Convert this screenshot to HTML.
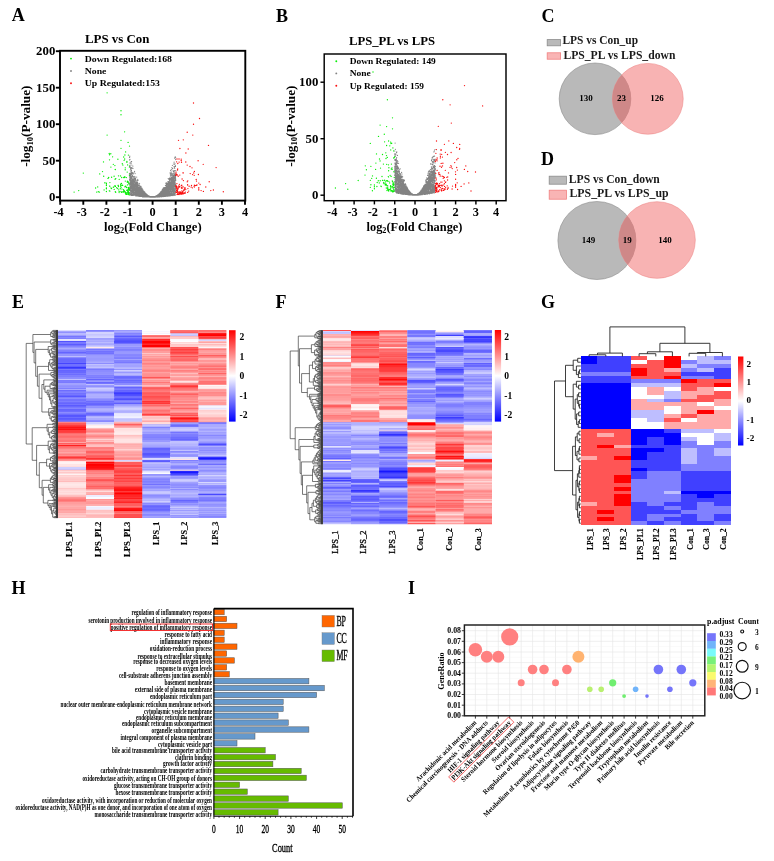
<!DOCTYPE html>
<html><head><meta charset="utf-8"><title>Figure</title>
<style>html,body{margin:0;padding:0;background:#fff;}body{width:774px;height:861px;overflow:hidden;font-family:"Liberation Serif",serif;}svg text{font-family:"Liberation Serif",serif;}</style>
</head><body><svg width="774" height="861" viewBox="0 0 774 861" font-family="Liberation Serif, serif" style="display:block"><text x="11.8" y="20.9" font-size="18" font-weight="bold" text-anchor="start" fill="#000" >A</text>
<text x="276" y="21.5" font-size="18" font-weight="bold" text-anchor="start" fill="#000" >B</text>
<text x="541.5" y="21.5" font-size="18" font-weight="bold" text-anchor="start" fill="#000" >C</text>
<text x="541" y="164.5" font-size="18" font-weight="bold" text-anchor="start" fill="#000" >D</text>
<text x="12" y="307.5" font-size="18" font-weight="bold" text-anchor="start" fill="#000" >E</text>
<text x="275.5" y="307.5" font-size="18" font-weight="bold" text-anchor="start" fill="#000" >F</text>
<text x="541" y="307.5" font-size="18" font-weight="bold" text-anchor="start" fill="#000" >G</text>
<text x="11.5" y="593.5" font-size="18" font-weight="bold" text-anchor="start" fill="#000" >H</text>
<text x="408" y="593.5" font-size="18" font-weight="bold" text-anchor="start" fill="#000" >I</text>
<path d="M150.4 196.7h0M153.0 196.9h0M158.6 195.5h0M133.7 178.5h0M174.9 163.5h0M136.8 190.0h0M138.3 196.2h0M149.9 196.7h0M152.6 197.1h0M175.6 157.2h0M144.1 195.6h0M164.9 189.9h0M173.8 184.1h0M171.6 180.2h0M132.9 182.5h0M133.5 180.3h0M135.0 194.6h0M166.3 191.2h0M138.3 195.1h0M134.9 193.0h0M174.4 180.1h0M139.2 188.7h0M134.1 178.8h0M165.2 194.2h0M133.7 192.0h0M146.7 194.7h0M156.0 196.5h0M171.5 184.5h0M163.7 189.6h0M170.3 190.1h0M131.3 173.2h0M141.4 190.7h0M137.6 195.6h0M155.3 196.7h0M171.9 195.6h0M150.1 197.0h0M155.9 196.7h0M174.8 181.2h0M136.0 195.8h0M161.9 191.8h0M151.8 196.7h0M133.0 183.3h0M163.6 191.5h0M145.8 194.2h0M148.8 196.3h0M158.4 195.7h0M133.2 179.3h0M163.1 192.2h0M149.9 196.7h0M130.9 185.9h0M161.8 193.8h0M141.3 194.6h0M138.9 187.8h0M149.9 196.7h0M138.7 188.6h0M170.2 187.8h0M135.8 185.1h0M162.4 190.9h0M150.3 197.0h0M158.4 196.3h0M174.9 193.9h0M169.8 186.4h0M143.8 194.1h0M150.5 196.8h0M136.0 188.1h0M158.6 195.0h0M161.1 194.8h0M130.0 180.2h0M142.1 192.4h0M157.9 195.7h0M171.4 181.2h0M135.5 187.6h0M146.9 195.0h0M173.1 183.8h0M162.9 191.6h0M139.4 185.6h0M154.3 196.7h0M169.0 195.2h0M154.9 196.8h0M166.9 188.3h0M145.0 194.7h0M153.4 196.8h0M173.2 178.3h0M139.7 194.1h0M159.0 194.7h0M143.9 193.0h0M139.1 185.3h0M156.0 196.6h0M157.5 195.4h0M148.0 196.0h0M161.4 194.4h0M173.7 173.2h0M135.4 184.9h0M151.5 196.9h0M172.2 182.6h0M138.5 189.6h0M145.9 196.7h0M135.2 192.6h0M154.0 197.0h0M154.0 196.9h0M159.0 194.7h0M169.1 186.7h0M171.2 191.1h0M139.6 183.8h0M140.6 194.7h0M167.9 187.3h0M148.1 197.0h0M161.0 192.5h0M152.9 196.9h0M138.2 195.4h0M155.0 196.8h0M138.0 187.6h0M172.3 194.8h0M150.8 197.0h0M153.3 197.1h0M161.9 193.6h0M163.7 195.4h0M153.2 196.8h0M162.1 192.4h0M157.2 195.5h0M141.4 190.1h0M167.1 187.0h0M161.6 192.5h0M162.9 194.8h0M130.0 181.8h0M140.2 186.1h0M160.0 195.1h0M175.7 179.9h0M174.8 182.7h0M141.4 196.4h0M146.9 196.5h0M154.9 196.6h0M175.5 177.8h0M157.1 196.2h0M136.9 194.3h0M157.7 195.2h0M153.8 197.0h0M159.8 196.1h0M143.2 195.6h0M136.7 186.7h0M164.1 189.6h0M132.9 181.2h0M174.5 184.9h0M162.9 190.9h0M157.4 196.0h0M138.9 191.5h0M150.0 196.9h0M156.4 196.2h0M175.6 159.6h0M134.8 179.2h0M146.1 195.1h0M156.8 196.0h0M141.0 186.4h0M131.3 190.4h0M158.3 195.8h0M133.5 186.9h0M146.7 196.6h0M163.9 192.4h0M166.9 188.6h0M149.1 196.3h0M159.7 193.5h0M164.0 188.5h0M134.0 186.2h0M155.6 196.6h0M165.3 194.8h0M133.3 183.9h0M142.6 194.8h0M146.4 195.2h0M171.9 167.5h0M166.6 193.4h0M172.7 183.1h0M146.4 196.0h0M138.5 188.5h0M168.1 194.3h0M170.2 195.8h0M154.6 196.7h0M166.7 191.1h0M133.4 183.8h0M133.4 193.5h0M159.5 196.3h0M153.6 197.0h0M174.2 185.7h0M162.8 191.4h0M167.7 186.9h0M168.0 181.7h0M153.7 197.0h0M148.9 196.3h0M146.8 196.6h0M143.0 191.4h0M134.8 184.8h0M132.4 185.3h0M131.2 192.0h0M140.4 191.9h0M138.0 194.6h0M143.9 193.2h0M141.5 189.4h0M154.8 196.7h0M131.8 165.0h0M153.9 196.7h0M159.9 196.8h0M146.7 195.1h0M136.8 192.4h0M169.7 187.5h0M141.8 195.8h0M129.6 165.9h0M133.3 184.0h0M151.7 196.9h0M169.1 186.1h0M171.9 182.3h0M154.6 196.8h0M143.9 196.6h0M151.1 196.8h0M134.4 189.1h0M167.8 196.2h0M162.3 193.8h0M130.0 159.3h0M158.0 196.3h0M143.3 194.9h0M141.3 191.7h0M173.2 182.5h0M167.7 194.8h0M160.8 196.2h0M168.2 195.3h0M136.8 191.4h0M172.0 187.3h0M164.9 190.6h0M148.5 196.6h0M174.9 172.3h0M130.4 188.3h0M134.4 188.4h0M167.6 194.6h0M171.2 190.5h0M136.0 183.5h0M162.6 193.1h0M158.5 196.9h0M156.1 196.7h0M146.2 196.6h0M135.8 184.0h0M155.4 196.5h0M167.3 195.1h0M142.8 193.2h0M167.9 190.1h0M131.0 176.0h0M159.9 194.7h0M147.1 195.3h0M138.7 195.1h0M155.8 196.7h0M155.7 196.6h0M160.5 193.2h0M151.2 196.8h0M164.5 190.5h0M168.2 186.8h0M155.6 196.6h0M149.5 196.6h0M163.0 191.0h0M164.2 192.4h0M135.2 189.1h0M131.9 186.0h0M143.7 195.8h0M171.6 172.1h0M149.0 196.5h0M155.7 196.6h0M135.2 182.8h0M140.8 194.2h0M170.9 183.6h0M156.6 196.7h0M143.7 192.5h0M151.3 196.7h0M170.9 183.3h0M151.3 196.7h0M138.8 194.7h0M131.8 182.2h0M171.1 179.0h0M161.7 191.4h0M139.8 190.5h0M137.9 189.3h0M146.7 194.9h0M140.1 189.0h0M142.3 196.3h0M149.8 196.8h0M157.2 196.7h0M133.5 183.7h0M142.4 195.7h0M175.1 185.6h0M147.3 194.9h0M155.2 196.8h0M165.7 192.1h0M161.1 192.7h0M165.5 191.3h0M149.8 196.7h0M140.4 194.9h0M152.6 196.8h0M156.0 196.5h0M130.3 186.4h0M141.6 192.7h0M155.8 196.4h0M136.3 195.7h0M158.2 196.5h0M133.6 185.1h0M136.9 186.4h0M132.3 189.2h0M174.3 185.7h0M175.1 185.8h0M131.3 178.4h0M147.7 196.3h0M131.1 163.5h0M140.1 192.1h0M150.8 196.9h0M174.8 194.6h0M159.5 195.9h0M169.4 184.4h0M147.7 195.9h0M139.5 194.9h0M137.1 193.8h0M143.8 192.2h0M169.4 191.2h0M161.4 195.6h0M137.9 192.2h0M162.5 194.8h0M172.8 182.2h0M171.4 190.8h0M133.3 183.2h0M153.5 197.1h0M131.4 184.2h0M143.9 194.4h0M162.1 193.0h0M136.3 192.7h0M148.2 195.8h0M143.0 195.7h0M130.6 184.0h0M174.6 181.8h0M139.5 190.7h0M169.6 187.6h0M149.3 197.0h0M144.7 195.9h0M148.1 196.8h0M140.6 194.0h0M136.5 187.6h0M161.8 194.9h0M132.4 194.8h0M156.6 196.7h0M130.6 177.3h0M141.6 195.5h0M157.9 195.0h0M173.0 176.7h0M148.5 196.7h0M170.1 183.2h0M135.8 192.1h0M174.6 191.5h0M160.9 196.7h0M147.7 196.2h0M154.8 196.8h0M174.3 188.6h0M144.0 193.8h0M174.0 182.5h0M152.2 197.1h0M164.1 195.0h0M144.5 194.9h0M132.4 193.9h0M134.7 184.8h0M137.0 182.4h0M141.2 191.1h0M162.6 192.7h0M144.9 193.6h0M155.7 196.5h0M167.9 189.1h0M160.4 196.3h0M156.6 195.9h0M161.3 194.0h0M172.6 177.9h0M135.0 192.0h0M175.4 188.2h0M154.6 197.0h0M166.5 189.6h0M158.0 195.2h0M161.6 193.0h0M137.6 186.1h0M152.1 197.2h0M155.6 196.6h0M140.0 193.6h0M131.9 179.1h0M133.1 187.7h0M138.8 188.5h0M166.8 195.9h0M159.8 196.1h0M169.4 179.4h0M163.0 196.7h0M135.0 191.0h0M143.8 196.8h0M173.8 185.5h0M166.1 192.8h0M167.7 182.0h0M173.4 182.5h0M171.5 186.7h0M147.4 195.8h0M146.3 196.1h0M171.3 194.5h0M163.8 191.6h0M160.9 196.5h0M145.7 196.8h0M148.1 196.3h0M139.0 189.6h0M134.5 177.1h0M139.6 190.4h0M142.1 190.9h0M138.0 186.0h0M158.8 195.3h0M158.0 195.4h0M152.8 196.8h0M161.4 193.8h0M147.3 195.8h0M153.3 197.0h0M156.9 195.7h0M151.2 197.0h0M163.5 189.2h0M135.4 178.2h0M168.3 185.2h0M166.4 187.0h0M169.7 192.7h0M150.5 196.8h0M142.4 196.4h0M165.9 194.4h0M169.0 184.5h0M166.3 193.0h0M131.2 178.7h0M134.9 190.5h0M158.0 195.8h0M139.1 188.3h0M138.6 192.2h0M145.2 194.8h0M157.4 196.8h0M161.6 196.3h0M173.0 189.3h0M175.5 179.4h0M143.8 196.2h0M149.1 196.5h0M152.9 196.8h0M140.4 194.4h0M142.7 191.9h0M172.6 182.7h0M150.2 196.9h0M149.9 196.5h0M160.5 195.3h0M170.9 189.6h0M167.4 186.4h0M134.1 186.3h0M146.8 195.5h0M171.0 180.6h0M151.2 197.0h0M160.5 193.1h0M175.4 177.5h0M161.9 191.7h0M148.0 196.6h0M139.2 195.2h0M163.8 195.6h0M158.3 195.6h0M163.3 192.8h0M130.2 165.1h0M130.6 184.6h0M134.6 185.0h0M135.3 194.3h0M153.2 197.1h0M148.6 196.9h0M155.3 196.6h0M168.8 184.2h0M148.3 195.8h0M148.6 196.7h0M163.4 195.8h0M130.8 189.5h0M159.2 195.2h0M133.1 194.0h0M144.7 194.4h0M173.2 186.5h0M147.7 195.8h0M146.5 195.8h0M149.4 196.7h0M132.4 186.0h0M139.8 193.4h0M151.9 197.0h0M129.9 174.7h0M156.9 195.6h0M146.5 195.5h0M144.1 194.6h0M132.0 191.0h0M166.3 188.4h0M142.7 196.4h0M167.9 192.7h0M165.9 196.0h0M131.7 185.3h0M159.0 194.4h0M156.3 196.3h0M160.9 191.6h0M165.6 190.0h0M150.2 197.0h0M163.4 196.0h0M160.3 196.6h0M143.8 191.5h0M139.3 191.7h0M135.2 183.9h0M149.5 196.6h0M152.3 196.8h0M134.4 186.0h0M138.8 194.9h0M156.8 196.6h0M168.4 189.3h0M174.8 181.0h0M141.6 192.9h0M132.5 181.3h0M149.5 196.7h0M171.5 188.1h0M164.3 194.4h0M131.1 184.4h0M144.9 193.4h0M166.7 188.6h0M138.7 190.6h0M164.8 189.5h0M161.3 192.5h0M142.9 191.9h0M141.0 192.8h0M143.0 196.2h0M142.1 195.1h0M169.9 184.3h0M157.7 195.7h0M160.0 193.9h0M132.0 172.8h0M140.3 193.7h0M173.1 185.4h0M140.2 188.3h0M159.9 193.9h0M155.6 196.3h0M169.8 187.0h0M130.9 175.9h0M169.0 184.8h0M153.8 197.0h0M152.6 197.0h0M151.9 196.9h0M174.4 192.8h0M145.0 193.5h0M173.4 164.0h0M130.4 183.3h0M157.8 195.2h0M153.5 197.1h0M169.7 182.5h0M167.8 190.5h0M164.5 192.1h0M166.2 182.9h0M145.0 196.6h0M141.6 193.2h0M160.7 196.0h0M137.6 193.6h0M165.7 194.5h0M141.5 195.0h0M138.0 193.3h0M163.1 191.9h0M133.1 183.8h0M148.6 195.9h0M171.6 175.8h0M166.0 189.8h0M147.0 195.7h0M151.5 196.9h0M147.1 195.0h0M139.0 185.1h0M145.3 193.4h0M173.2 193.2h0M170.3 182.5h0M146.7 196.4h0M132.8 189.8h0M143.7 196.3h0M154.5 196.9h0M173.3 191.6h0M143.8 192.2h0M136.9 189.6h0M166.1 185.2h0M168.6 194.0h0M174.7 179.8h0M131.9 192.5h0M139.3 194.6h0M152.6 197.1h0M130.2 194.5h0M158.1 196.0h0M144.2 193.1h0M148.8 196.6h0M171.7 180.7h0M170.2 188.8h0M142.8 192.8h0M156.5 196.0h0M134.0 190.5h0M152.5 197.0h0M129.6 189.4h0M158.7 196.8h0M151.8 197.1h0M150.0 196.6h0M167.8 188.4h0M152.8 196.7h0M152.1 196.8h0M152.7 197.1h0M168.0 181.5h0M161.2 193.0h0M166.5 188.5h0M140.8 192.2h0M145.4 194.3h0M172.6 194.6h0M134.6 171.9h0M138.1 188.5h0M158.3 195.4h0M169.6 180.8h0M155.8 196.3h0M147.3 197.0h0M166.3 190.3h0M161.6 195.4h0M138.2 189.3h0M144.8 192.2h0M173.5 177.6h0M144.9 195.0h0M131.1 176.5h0M163.9 195.3h0M140.6 196.2h0M145.9 194.2h0M148.6 196.8h0M173.8 187.3h0M164.7 191.6h0M171.2 187.5h0M153.9 197.0h0M136.4 192.9h0M163.1 192.0h0M162.1 194.6h0M151.4 197.1h0M132.8 183.8h0M135.4 188.3h0M148.1 196.0h0M131.6 193.2h0M151.4 197.0h0M151.1 196.8h0M152.0 196.7h0M135.0 193.0h0M153.0 196.7h0M141.4 190.2h0M146.4 195.8h0M158.3 196.4h0M150.5 196.8h0M146.9 195.0h0M148.0 195.9h0M162.9 189.3h0M149.6 196.8h0M154.4 196.8h0M130.3 179.4h0M157.8 196.3h0M138.6 190.4h0M167.4 187.9h0M162.4 191.7h0M141.1 192.7h0M175.1 178.9h0M163.1 190.1h0M153.9 196.9h0M170.8 191.7h0M148.9 196.4h0M154.0 196.7h0M145.8 195.1h0M161.5 193.0h0M142.1 193.5h0M146.8 196.7h0M169.8 180.5h0M134.9 184.7h0M141.7 192.2h0M167.3 189.2h0M161.8 192.5h0M151.4 196.8h0M155.8 196.2h0M139.8 195.3h0M145.3 195.5h0M171.8 193.1h0M162.1 192.2h0M140.0 194.7h0M131.7 194.5h0M154.6 197.1h0M145.8 193.6h0M132.4 195.4h0M137.6 189.1h0M144.4 195.7h0M145.9 196.3h0M141.6 194.7h0M141.9 191.4h0M153.1 196.8h0M158.3 195.5h0M148.6 196.5h0M153.9 196.7h0M139.8 194.1h0M166.3 193.8h0M169.6 182.0h0M163.9 194.0h0M170.2 172.6h0M132.9 179.3h0M153.3 196.9h0M175.3 174.2h0M136.3 188.2h0M155.5 196.4h0M156.8 196.9h0M171.1 192.6h0M154.6 196.9h0M130.3 181.8h0M132.9 182.4h0M155.3 196.7h0M167.1 188.5h0M131.1 182.6h0M130.9 186.1h0M144.3 193.4h0M158.8 194.5h0M155.5 196.5h0M162.5 194.0h0M140.6 189.6h0M132.5 191.6h0M168.5 184.4h0M158.5 195.3h0M132.2 188.8h0M131.8 177.3h0M144.7 194.7h0M137.8 191.0h0M155.6 196.8h0M133.1 185.7h0M151.1 196.8h0M164.7 196.3h0M136.3 195.8h0M170.0 194.9h0M168.6 185.1h0M134.7 193.3h0M138.8 194.9h0M154.2 196.9h0M153.0 197.2h0M157.9 196.4h0M170.5 190.3h0M172.9 188.8h0M146.7 194.8h0M142.6 192.5h0M161.8 191.6h0M168.9 188.2h0M163.7 191.8h0M173.8 176.2h0M175.7 170.7h0M136.1 189.0h0M165.6 191.1h0M144.4 196.2h0M169.1 181.6h0M161.6 192.8h0M155.2 197.2h0M129.6 189.3h0M159.0 195.1h0M151.7 196.7h0M148.9 196.7h0M163.8 192.0h0M165.7 187.1h0M137.0 191.5h0M163.3 192.5h0M132.2 195.1h0M167.6 190.4h0M146.7 195.5h0M140.1 195.3h0M154.1 196.8h0M145.4 194.7h0M170.3 187.7h0M160.8 192.5h0M158.7 196.8h0M141.7 193.4h0M132.2 184.8h0M175.3 179.1h0M152.9 196.7h0M151.9 197.0h0M175.7 186.5h0M160.8 196.3h0M157.3 196.0h0M146.5 195.4h0M170.4 194.1h0M170.6 186.9h0M139.4 191.1h0M172.7 193.2h0M134.5 186.4h0M171.1 185.3h0M157.4 196.6h0M139.1 195.9h0M173.3 189.7h0M171.2 186.4h0M136.0 183.8h0M141.0 194.4h0M163.9 191.7h0M161.7 194.6h0M133.9 183.0h0M159.3 195.9h0M174.5 192.9h0M157.1 195.9h0M170.0 178.7h0M146.8 196.2h0M145.8 194.4h0M160.7 194.0h0M141.1 196.0h0M172.1 189.5h0M136.1 184.7h0M141.3 192.0h0M145.8 196.4h0M149.1 196.4h0M159.0 195.2h0M135.0 184.9h0M130.2 182.9h0M131.1 188.6h0M146.1 193.8h0M135.3 187.5h0M134.0 189.6h0M175.3 176.1h0M164.5 193.1h0M160.4 194.9h0M153.3 196.9h0M165.9 190.9h0M131.7 177.6h0M149.8 196.7h0M165.5 189.3h0M129.6 193.3h0M132.7 182.5h0M160.3 195.0h0M150.9 197.0h0M135.9 189.2h0M129.6 157.4h0M136.8 180.8h0M164.4 188.2h0M135.1 192.8h0M171.5 193.9h0M140.6 191.2h0M149.7 196.8h0M150.5 196.9h0M155.7 197.0h0M146.1 196.8h0M173.0 184.7h0M146.5 196.7h0M168.3 194.2h0M130.2 180.4h0M166.0 194.8h0M165.0 194.2h0M145.9 194.6h0M166.9 186.9h0M172.8 178.1h0M166.7 193.5h0M168.3 193.9h0M169.5 195.5h0M143.0 191.8h0M167.4 193.8h0M145.2 196.8h0M148.6 196.6h0M142.9 193.2h0M152.2 197.2h0M143.2 196.3h0M151.7 197.0h0M150.0 197.1h0M165.8 192.2h0M164.2 190.9h0M170.8 185.9h0M154.1 196.8h0M169.1 186.5h0M157.1 196.1h0M146.8 194.7h0M136.2 185.1h0M143.7 194.0h0M163.4 190.4h0M133.2 183.7h0M172.7 195.2h0M145.1 193.8h0M135.2 192.3h0M134.6 190.0h0M149.6 196.4h0M171.4 184.8h0M150.7 197.0h0M175.3 194.9h0M139.2 188.8h0M140.4 190.5h0M141.7 190.3h0M162.6 192.5h0M153.0 196.9h0M144.5 196.4h0M139.3 187.8h0M172.2 174.3h0M155.7 196.5h0M168.2 195.6h0M152.0 197.0h0M160.7 194.1h0M159.0 194.5h0M166.6 194.5h0M160.9 196.5h0M147.9 196.7h0M148.7 196.0h0M130.5 173.7h0M157.9 196.4h0M160.2 194.5h0M160.4 193.9h0M167.0 183.6h0M157.9 195.3h0M146.3 194.8h0M175.0 177.5h0M175.3 176.2h0M130.0 187.9h0M147.7 195.9h0M143.6 196.3h0M149.0 196.5h0M138.5 194.2h0M143.4 193.5h0M153.7 197.1h0M145.6 194.4h0M161.9 192.5h0M132.1 182.0h0M175.2 181.1h0M158.3 196.6h0M153.1 197.0h0M132.7 191.3h0M143.5 195.3h0M171.3 169.7h0M141.2 192.3h0M133.0 179.8h0M162.6 196.4h0M132.3 173.4h0M150.1 196.7h0M153.8 197.0h0M162.8 194.9h0M156.2 196.6h0M142.8 192.9h0M146.4 196.6h0M164.2 187.6h0M137.0 189.2h0M173.6 191.2h0M136.3 190.0h0M146.5 194.4h0M154.1 196.9h0M169.9 186.4h0M161.2 192.9h0M136.7 177.1h0M154.5 196.7h0M132.6 195.0h0M145.8 195.9h0M149.5 196.6h0M154.2 196.8h0M141.6 192.3h0M166.1 191.4h0M162.5 189.8h0M138.7 193.8h0M133.6 189.2h0M135.1 173.6h0M147.5 195.1h0M173.0 195.6h0M133.4 179.3h0M134.8 194.1h0M156.9 195.9h0M135.8 194.3h0M130.8 172.9h0M152.1 196.8h0M166.7 193.0h0M164.8 188.8h0M149.4 196.5h0M170.3 179.6h0M132.4 178.9h0M136.2 195.4h0M133.2 182.2h0M168.9 190.7h0M166.0 192.8h0M150.7 197.1h0M149.1 196.3h0M169.6 194.0h0M168.3 188.7h0M131.7 187.6h0M173.1 191.0h0M155.3 196.5h0M139.0 196.1h0M169.7 195.9h0M140.9 189.9h0M142.4 195.1h0M141.4 190.4h0M145.5 193.3h0M159.4 196.7h0M157.7 196.7h0M136.1 186.9h0M172.6 173.8h0M157.4 195.3h0M144.5 194.6h0M159.2 194.7h0M130.8 186.8h0M154.8 196.9h0M160.8 194.6h0M135.2 183.7h0M143.0 194.1h0M137.7 189.6h0M142.4 195.7h0M153.7 196.9h0M158.4 195.6h0M150.9 196.8h0M156.5 195.9h0M165.0 193.6h0M163.4 195.6h0M174.9 174.8h0M147.3 196.8h0M162.7 192.3h0M163.8 192.4h0M160.3 196.6h0M162.0 191.8h0M137.2 192.2h0M170.6 185.6h0M153.4 196.8h0M129.8 156.2h0M159.0 196.6h0M149.9 196.7h0M151.3 196.9h0M144.4 192.2h0M154.8 196.9h0M152.0 197.1h0M149.7 196.7h0M158.1 195.3h0M140.5 186.9h0M141.3 193.7h0M141.3 192.0h0M149.8 196.7h0M154.8 196.7h0M133.8 180.0h0M167.3 196.1h0M152.4 197.1h0M130.1 188.7h0M174.3 178.6h0M171.6 192.1h0M151.7 197.0h0M138.8 188.7h0M156.6 196.8h0M152.9 196.8h0M156.6 196.1h0M175.5 184.2h0M133.4 194.2h0M133.4 192.7h0M164.9 195.5h0M175.5 185.7h0M162.0 192.0h0M165.5 195.5h0M138.0 193.5h0M149.5 196.6h0M165.0 193.4h0M159.9 193.0h0M153.8 196.8h0M129.8 184.3h0M163.3 194.2h0M157.1 196.0h0M165.7 195.7h0M141.2 190.0h0M163.6 192.5h0M139.7 196.1h0M174.1 195.2h0M160.1 194.2h0M140.3 188.5h0M153.0 196.9h0M138.0 194.5h0M157.0 196.1h0M159.3 194.5h0M170.2 173.7h0M161.4 195.8h0M160.0 194.8h0M157.6 196.7h0M161.7 193.5h0M150.2 196.8h0M165.0 188.7h0M150.2 196.8h0M167.8 190.1h0M146.3 196.3h0M173.4 178.8h0M166.1 196.1h0M132.7 179.4h0M167.6 189.1h0M133.9 188.1h0M142.9 196.1h0M132.2 185.1h0M148.9 196.0h0M169.9 192.1h0M157.2 195.5h0M173.1 191.9h0M158.5 195.3h0M151.2 196.9h0M136.4 194.8h0M153.8 196.7h0M157.6 196.6h0M145.6 194.9h0M161.1 193.7h0M147.3 196.4h0M136.9 195.2h0M145.8 195.7h0M170.1 184.2h0M172.5 185.5h0M146.3 195.4h0M164.3 193.6h0M168.4 194.5h0M140.4 193.4h0M150.2 196.7h0M145.6 195.3h0M173.0 189.8h0M152.4 197.2h0M131.8 190.0h0M142.8 196.6h0M164.5 196.0h0M133.2 187.7h0M165.8 191.9h0M130.8 178.6h0M134.4 187.9h0M132.9 166.1h0M154.7 196.9h0M137.4 191.4h0M131.4 193.4h0M151.6 196.9h0M142.9 196.8h0M131.2 161.7h0M173.0 183.4h0M149.7 196.8h0M145.4 196.3h0M149.3 197.0h0M162.6 194.1h0M157.7 195.6h0M147.4 195.6h0M151.2 196.8h0M169.3 187.2h0M160.0 193.0h0M153.1 197.1h0M166.2 196.2h0M167.9 194.3h0M137.9 191.5h0M141.8 195.7h0M159.3 196.3h0M149.1 196.1h0M151.0 197.0h0M132.7 182.8h0M134.9 186.5h0M158.2 196.9h0M163.4 196.5h0M168.9 193.4h0M168.2 184.2h0M164.2 195.5h0M173.7 192.5h0M164.7 196.1h0M174.3 175.4h0M163.7 191.1h0M152.7 197.0h0M158.9 195.0h0M142.0 190.3h0M130.8 183.1h0M155.3 196.6h0M160.3 196.2h0M146.3 195.5h0M132.1 174.1h0M165.8 194.0h0M143.2 193.5h0M150.3 196.9h0M157.4 196.8h0M153.7 197.1h0M151.8 196.9h0M142.3 195.2h0M138.9 189.5h0M154.0 196.8h0M146.1 195.2h0M137.7 189.3h0M172.1 180.0h0M144.3 196.5h0M143.3 191.8h0M165.3 188.4h0M151.4 196.7h0M145.1 196.7h0M133.5 173.8h0M154.0 196.9h0M165.6 191.6h0M136.1 190.7h0M173.6 181.3h0M134.3 178.9h0M156.5 196.7h0M161.6 194.0h0M133.0 189.9h0M158.2 196.0h0M153.3 196.9h0M154.4 197.0h0M162.0 192.5h0M137.5 189.4h0M171.6 189.3h0M150.6 196.8h0M154.8 197.1h0M157.4 196.8h0M169.6 179.8h0M143.8 194.0h0M155.1 197.0h0M132.2 194.1h0M173.8 177.0h0M129.8 187.5h0M132.6 195.5h0M151.8 196.7h0M152.6 196.8h0M165.4 190.2h0M137.5 195.1h0M141.1 190.9h0M171.5 184.9h0M161.4 193.1h0M154.9 196.7h0M138.3 193.3h0M158.9 196.5h0M147.8 196.3h0M161.4 192.2h0M157.8 196.1h0M175.2 176.5h0M160.3 193.2h0M139.3 189.1h0M140.0 189.2h0M156.6 196.1h0M174.1 183.5h0M143.1 192.0h0M174.6 182.7h0M173.7 190.3h0M137.5 190.0h0M136.4 187.7h0M135.2 182.4h0M154.2 196.7h0M165.3 193.7h0M173.0 194.2h0M173.5 192.1h0M166.0 190.5h0M138.7 189.4h0M133.7 189.3h0M137.4 189.1h0M158.8 195.4h0M146.4 195.0h0M171.8 178.4h0M133.4 192.2h0M145.9 194.4h0M141.9 196.4h0M162.6 193.3h0M154.0 197.0h0M154.7 196.8h0M145.7 194.7h0M139.3 192.7h0M149.7 196.7h0M141.3 191.7h0M150.5 197.0h0M138.7 196.1h0M141.7 191.2h0M170.5 193.3h0M153.0 196.8h0M130.3 188.4h0M129.8 192.6h0M139.2 195.0h0M134.7 192.8h0M175.4 179.4h0M174.7 164.5h0M131.7 186.6h0M175.6 179.4h0M157.8 196.6h0M166.3 187.4h0M172.8 182.1h0M152.1 196.8h0M147.7 196.0h0M144.3 195.2h0M174.3 177.2h0M141.7 192.1h0M149.2 197.0h0M155.2 196.7h0M141.3 192.4h0M154.7 196.7h0M135.5 178.2h0M166.0 191.3h0M144.0 192.8h0M132.7 183.5h0M130.5 169.9h0M144.9 193.9h0M162.9 194.0h0M158.7 195.4h0M143.0 192.8h0M171.6 173.6h0M163.6 194.1h0M134.4 183.9h0M133.3 190.3h0M158.8 196.6h0M161.3 194.6h0M148.5 196.3h0M166.2 193.4h0M143.2 193.6h0M162.5 192.7h0M158.3 196.3h0M157.7 196.8h0M169.5 193.4h0M140.2 196.1h0M170.2 182.2h0M168.7 191.6h0M173.0 184.3h0M133.7 192.2h0M159.8 193.9h0M139.0 193.1h0M151.1 197.0h0M166.4 189.5h0M159.8 195.8h0M146.8 194.7h0M161.7 193.8h0M142.2 195.4h0M133.6 187.7h0M165.6 190.1h0M153.1 197.2h0M134.8 191.1h0M139.6 195.5h0M175.0 181.6h0M170.1 194.0h0M174.1 162.2h0M163.4 187.9h0M164.7 189.2h0M156.0 196.2h0M150.2 196.8h0M172.7 183.4h0M169.7 183.4h0M168.7 192.3h0M139.6 189.6h0M171.5 191.3h0M166.1 187.3h0M154.0 196.9h0M160.9 193.0h0M130.9 179.2h0M168.8 188.0h0M159.9 196.5h0M139.5 186.0h0M161.9 192.2h0M148.5 196.0h0M171.6 181.6h0M162.9 190.1h0M148.6 196.0h0M166.5 194.9h0M167.2 196.2h0M147.4 195.5h0M163.8 191.5h0M132.7 188.5h0M155.2 196.9h0M167.7 194.2h0M142.0 189.7h0M174.1 188.3h0M152.7 196.9h0M161.1 196.1h0M149.3 196.4h0M146.6 194.6h0M150.3 196.7h0M152.7 197.2h0M148.0 196.3h0M154.1 196.8h0M153.3 197.0h0M160.8 196.7h0M141.1 193.4h0M174.1 174.9h0M134.7 193.2h0M156.5 196.1h0M174.4 186.2h0M156.1 196.5h0M149.9 196.6h0M141.9 189.9h0M154.4 196.8h0M157.7 196.5h0M150.0 196.7h0M166.5 190.8h0M171.4 185.3h0M160.8 193.8h0M161.6 193.9h0M170.6 190.3h0M160.3 195.0h0M159.4 196.1h0M142.5 191.7h0M159.4 194.9h0M159.6 194.6h0M170.2 183.1h0M135.5 191.4h0M157.6 196.1h0M158.0 195.5h0M167.7 189.2h0M133.3 184.6h0M173.8 186.1h0M174.4 190.5h0M146.2 196.6h0M149.9 196.7h0M134.4 195.0h0M144.5 192.5h0M130.9 175.8h0M131.3 188.5h0M147.1 196.1h0M138.0 190.3h0M163.7 195.3h0M134.9 190.1h0M139.2 190.0h0M157.6 196.3h0M154.6 196.7h0M134.7 186.3h0M173.1 179.9h0M147.5 195.4h0M169.2 185.7h0M153.4 196.8h0M170.7 184.4h0M152.6 197.0h0M154.9 196.8h0M142.3 195.4h0M149.1 196.3h0M141.6 193.3h0M158.8 195.5h0M147.2 194.9h0M134.4 185.0h0M145.8 195.1h0M155.9 196.4h0M171.2 185.3h0M139.3 188.0h0M144.8 196.0h0M159.5 194.8h0M132.5 185.2h0M154.9 196.9h0M171.7 183.8h0M170.3 183.1h0M143.4 190.9h0M153.6 197.1h0M171.3 183.0h0M170.5 188.1h0M173.0 186.0h0M150.6 197.0h0M133.1 195.4h0M133.9 184.0h0M154.9 196.8h0M172.1 194.9h0M161.3 194.0h0M153.0 196.9h0M168.6 189.3h0M169.9 184.2h0M148.4 195.7h0M154.0 196.9h0M159.9 195.7h0M162.8 191.3h0M164.4 194.3h0M134.5 178.4h0M139.2 190.5h0M154.0 196.9h0M130.1 194.9h0M170.5 195.6h0M141.7 191.7h0M134.9 185.5h0M146.9 194.6h0M159.5 194.5h0M167.8 188.9h0M150.1 196.6h0M157.8 195.2h0M161.1 194.0h0M151.4 196.8h0M157.4 195.8h0M154.9 196.8h0M165.7 193.2h0M131.3 195.3h0M147.0 195.7h0M133.9 183.5h0M157.7 197.0h0M160.9 192.7h0M165.0 192.4h0M148.5 196.3h0M171.5 183.0h0M145.7 194.9h0M175.6 176.7h0M162.3 192.8h0M160.5 194.2h0M161.6 193.1h0M135.1 185.4h0M150.8 196.8h0M145.7 194.8h0M142.8 194.5h0M175.5 180.3h0M171.7 193.5h0M130.4 187.1h0M158.4 196.8h0M155.0 196.8h0M146.1 195.2h0M137.7 179.9h0M144.7 193.5h0M173.5 174.8h0M173.0 182.3h0M131.2 190.6h0M137.8 191.7h0M142.5 192.3h0M172.7 192.0h0M144.3 193.7h0M154.3 197.0h0M150.9 196.9h0M175.2 191.4h0M165.1 192.5h0M144.9 192.5h0M154.4 196.7h0M150.0 196.5h0M155.4 196.5h0M137.9 190.8h0M134.9 176.3h0M155.9 196.9h0M133.5 189.9h0M132.7 179.3h0M140.3 193.7h0M137.7 183.0h0M173.8 176.9h0M161.4 196.6h0M167.2 196.0h0M131.7 192.3h0M140.2 190.8h0M152.9 197.2h0M135.4 192.1h0M168.8 190.3h0M137.8 196.0h0M172.4 190.6h0M152.7 196.8h0M170.6 170.7h0M161.0 194.1h0M168.4 195.9h0M135.7 183.9h0M167.7 187.5h0M155.5 196.6h0M160.5 196.0h0M136.6 194.9h0M137.6 185.6h0M152.6 197.1h0M158.1 196.7h0M163.7 194.8h0M142.3 193.4h0M136.6 192.9h0M137.6 195.6h0M154.3 196.9h0M139.6 191.3h0M156.0 196.1h0M135.5 188.0h0M168.1 196.1h0M167.9 188.3h0M167.1 187.2h0M144.5 196.1h0M131.6 174.3h0M145.8 194.7h0M164.6 193.2h0M166.4 192.0h0M151.0 197.0h0M158.6 194.5h0M159.3 196.2h0M169.3 188.8h0M141.0 195.4h0M158.9 195.3h0M148.9 196.8h0M161.1 196.2h0M153.6 196.9h0M174.0 166.5h0M153.6 197.2h0M161.4 195.6h0M175.4 180.4h0M173.0 186.5h0M149.7 196.8h0M134.6 191.0h0M137.1 190.2h0M155.5 196.9h0M175.6 188.8h0M143.4 195.3h0M145.8 196.6h0M143.3 192.5h0M154.9 196.7h0M130.3 178.1h0M137.7 184.4h0M161.6 191.0h0M130.4 181.7h0M134.8 186.3h0M171.2 190.1h0M154.6 196.9h0M136.4 182.4h0M159.3 193.6h0M146.1 194.2h0M131.5 176.7h0M139.2 195.1h0M145.6 194.2h0M174.7 181.2h0M150.9 196.8h0M139.6 187.6h0M133.0 182.2h0M140.6 190.8h0M135.8 195.4h0M146.0 196.6h0M142.1 193.1h0M138.3 190.3h0M161.7 192.7h0M139.6 190.9h0M152.4 197.1h0M171.7 189.3h0M164.5 191.7h0M148.0 196.0h0M147.5 196.8h0M144.8 194.6h0M136.9 182.7h0M134.1 192.8h0M166.8 196.2h0M150.5 196.8h0M135.7 179.2h0M136.5 194.0h0M154.6 197.1h0M132.7 180.7h0M135.5 182.6h0M131.5 186.4h0M162.0 193.2h0M143.0 194.3h0M134.5 195.1h0M159.4 193.6h0M157.7 196.5h0M141.6 196.5h0M172.1 183.6h0M141.8 193.4h0M153.3 197.1h0M151.6 196.8h0M170.8 191.6h0M135.0 195.2h0M163.9 189.3h0M161.7 194.7h0M151.3 197.0h0M154.4 196.8h0M148.0 196.6h0M160.2 195.0h0M129.8 180.4h0M167.1 186.7h0M158.2 195.7h0M139.5 188.7h0M172.6 185.1h0M175.6 178.3h0M143.5 192.6h0M147.9 196.6h0M157.7 195.0h0M137.8 187.1h0M154.4 197.1h0M143.6 192.3h0M140.0 187.1h0M143.3 196.6h0M155.0 196.8h0M151.8 196.8h0M172.1 178.2h0M130.7 190.3h0M136.5 186.3h0M152.7 196.9h0M133.1 192.4h0M174.7 188.9h0M160.0 195.6h0M172.5 180.4h0M171.8 185.2h0M139.8 193.8h0M174.9 181.5h0M141.2 188.6h0M149.1 196.9h0M132.9 172.4h0M154.8 196.8h0M150.5 196.8h0M137.0 184.8h0M131.5 195.3h0M170.5 186.4h0M163.2 191.7h0M151.2 196.9h0M171.8 183.9h0M170.6 174.9h0M151.4 197.0h0M166.4 192.3h0M162.3 191.6h0M140.8 195.8h0M152.9 196.8h0M149.8 196.7h0M141.7 193.0h0M136.3 187.1h0M139.5 188.0h0M166.3 183.7h0M174.9 183.0h0M159.5 195.5h0M165.3 195.9h0M144.8 194.3h0M157.5 196.6h0M161.5 192.6h0M167.5 189.2h0M137.5 182.4h0M160.3 192.8h0M142.5 190.8h0M168.8 193.8h0M140.4 196.3h0M132.9 194.1h0M139.5 196.3h0M145.3 194.8h0M169.6 189.5h0M142.9 194.1h0M129.9 187.3h0M162.3 193.5h0M162.3 190.3h0M155.2 196.6h0M131.3 177.5h0M148.8 196.0h0M165.1 193.1h0M171.0 185.3h0M155.0 197.0h0M175.0 190.8h0M167.2 193.2h0M160.6 193.7h0M157.1 195.8h0M137.2 185.1h0M167.2 189.5h0M167.5 186.4h0M171.8 185.5h0M166.7 193.0h0M167.9 191.7h0M175.5 187.8h0M138.1 189.0h0M163.9 192.7h0M148.5 196.4h0M170.5 175.0h0M169.2 183.7h0M133.7 195.1h0M152.2 196.9h0M133.9 184.4h0M134.8 181.7h0M170.2 196.0h0M156.4 196.1h0M158.4 195.3h0M152.0 196.8h0M165.6 191.0h0M152.4 197.0h0M164.8 189.0h0M166.5 191.6h0M166.0 190.4h0M169.7 180.0h0M147.3 195.8h0M171.1 188.3h0M175.1 176.1h0M130.8 182.6h0M158.6 195.6h0M145.6 195.7h0M141.3 187.9h0M166.7 186.0h0M154.5 196.7h0M133.2 181.7h0M171.6 193.5h0M158.9 194.7h0M138.1 185.8h0M145.6 196.4h0M174.3 175.6h0M131.0 191.5h0M162.6 194.8h0M144.3 196.5h0M148.3 195.7h0M146.5 194.9h0M133.0 180.4h0M151.1 196.7h0M164.3 190.4h0M151.8 197.1h0M154.6 197.1h0M165.9 191.9h0M141.3 193.9h0M163.3 192.9h0M173.3 180.8h0M156.2 196.5h0M142.1 192.4h0M136.1 184.9h0M138.2 189.7h0M161.2 194.2h0M154.6 196.9h0M174.5 180.1h0M131.2 176.3h0M143.2 192.4h0M168.7 190.5h0M144.3 194.3h0M145.2 194.8h0M157.6 195.5h0M169.8 180.3h0M138.1 195.8h0M165.9 192.5h0M160.3 196.7h0M170.1 183.3h0M130.3 179.6h0M169.2 195.1h0M144.6 196.8h0M150.8 197.0h0M129.6 176.1h0M170.8 184.8h0M139.3 187.6h0M140.2 194.3h0M142.5 190.3h0M133.5 185.7h0M140.6 196.4h0M173.7 189.3h0M140.1 187.0h0M131.4 171.8h0M156.2 196.4h0M151.9 197.0h0M158.7 194.7h0M141.6 193.3h0M133.2 180.3h0M170.1 183.3h0M174.6 183.4h0M143.8 196.2h0M155.5 196.7h0M153.4 197.0h0M174.3 185.7h0M159.0 195.7h0M147.6 196.7h0M135.0 185.9h0M168.6 193.7h0M146.9 197.0h0M172.8 188.0h0M133.6 182.1h0M144.2 194.0h0M165.8 190.3h0M139.2 191.8h0M154.5 196.9h0M149.6 196.4h0M145.9 196.2h0M172.9 180.8h0M152.1 196.9h0M168.5 193.2h0M136.8 187.1h0M143.0 195.1h0M166.3 186.5h0M142.0 192.7h0M149.8 197.1h0M154.4 196.7h0M132.5 182.1h0M139.6 186.1h0M149.0 196.1h0M155.7 196.3h0M141.6 193.0h0M145.7 193.8h0M160.4 193.4h0M164.5 189.1h0M138.5 191.7h0M156.8 196.8h0M167.5 193.4h0M157.6 196.7h0M161.3 193.3h0M145.8 194.0h0M168.2 193.1h0M147.4 196.0h0M135.4 185.6h0M175.3 180.8h0M167.6 189.0h0M148.5 196.8h0M168.3 193.0h0M138.6 188.5h0M175.1 192.6h0M135.0 182.4h0M137.9 190.5h0M132.2 190.3h0M174.5 168.0h0M155.1 196.7h0M173.7 184.6h0M143.6 191.3h0M133.9 185.7h0M174.3 184.2h0M143.9 193.6h0M144.2 194.4h0M151.3 197.0h0M139.3 191.9h0M172.5 188.0h0M142.6 195.5h0M145.6 193.7h0M152.3 197.1h0M152.9 196.7h0M158.2 196.2h0M133.9 187.6h0M133.1 180.6h0M163.0 192.6h0M165.6 192.2h0M156.4 196.9h0M172.3 182.8h0M145.2 195.6h0M130.3 184.0h0M144.9 195.4h0M171.6 184.6h0M137.3 183.9h0M171.8 187.4h0M153.8 196.9h0M151.9 196.8h0M164.6 191.6h0M164.0 192.8h0M174.4 190.6h0M143.9 193.3h0M174.9 184.3h0M136.5 185.3h0M167.8 189.3h0M144.4 192.9h0M165.5 190.5h0M145.7 195.0h0M151.6 197.1h0M139.3 192.8h0M136.0 191.0h0M143.2 193.0h0M151.2 196.7h0M162.0 195.9h0M170.4 185.0h0M168.0 191.5h0M159.7 194.7h0M168.4 193.1h0M140.2 191.7h0M149.3 196.8h0M135.7 192.0h0M175.6 175.5h0M172.4 186.3h0M154.9 196.9h0M166.2 182.5h0M139.0 195.0h0M164.4 194.3h0M149.7 196.6h0M134.9 186.2h0M153.9 197.0h0M172.5 188.3h0M172.3 185.5h0M165.3 190.5h0M139.1 183.3h0M154.1 196.9h0M136.0 188.2h0M171.4 191.0h0M171.7 185.1h0M161.3 194.7h0M139.2 195.1h0M136.1 186.8h0M159.4 194.7h0M171.8 180.6h0M142.1 195.5h0M147.4 196.4h0M156.7 196.6h0M157.9 196.0h0M173.0 177.3h0M155.5 197.0h0M146.3 196.3h0M134.3 189.4h0M163.0 188.5h0M159.9 193.5h0M130.5 176.0h0M136.1 194.9h0M144.4 195.5h0M158.9 194.3h0M162.5 192.0h0M130.7 184.2h0M156.7 196.6h0M174.3 182.7h0M141.2 192.4h0M172.2 189.2h0M146.7 195.2h0M173.4 190.4h0M172.5 181.0h0M130.5 190.4h0M165.9 190.6h0M136.8 183.8h0M154.8 196.9h0M173.6 178.1h0M139.1 196.0h0M167.1 194.4h0M142.6 193.0h0M148.2 196.0h0M136.0 187.5h0M137.2 186.5h0M163.3 191.1h0M163.7 188.5h0M157.3 195.4h0M152.0 197.0h0M160.9 195.9h0M164.1 191.2h0M150.1 197.0h0M142.2 190.5h0M133.8 185.9h0M144.1 196.5h0M132.8 186.7h0M159.5 196.6h0M169.9 178.2h0M135.5 183.6h0M134.5 178.4h0M159.5 194.8h0M155.8 196.5h0M138.2 192.9h0M129.5 173.4h0M139.4 191.2h0M137.4 192.2h0M135.5 183.7h0M159.2 196.5h0M150.1 196.9h0M133.2 176.8h0M166.7 184.8h0M168.3 194.9h0M145.1 196.5h0M168.0 187.9h0M172.9 188.0h0M163.9 189.8h0M157.5 195.8h0M153.0 196.8h0M134.2 186.2h0M136.3 194.9h0M146.2 195.9h0M134.6 194.9h0M131.2 195.2h0M173.0 179.6h0M164.4 194.0h0M137.5 192.5h0M156.7 196.9h0M139.9 193.9h0M157.1 196.6h0M145.1 193.7h0M164.2 193.2h0M143.1 192.6h0M158.6 195.3h0M146.0 195.5h0M152.5 197.1h0M136.8 192.6h0M144.0 191.3h0M140.3 194.0h0M142.5 192.3h0M139.7 191.7h0M167.0 191.3h0M156.1 196.8h0M160.5 193.8h0M148.2 196.1h0M138.8 196.0h0M172.3 184.7h0M164.9 193.2h0M136.7 185.4h0M151.6 197.1h0M162.7 194.6h0M146.3 196.5h0M141.0 193.6h0M168.1 189.3h0M173.3 178.5h0M138.4 188.2h0M142.9 193.5h0M147.7 195.3h0M139.3 191.5h0M173.2 189.9h0M152.1 196.8h0M153.2 196.8h0M149.8 196.7h0M150.5 197.1h0M158.8 194.6h0M139.0 195.5h0M145.5 196.4h0M138.3 186.2h0M148.4 196.4h0M171.8 186.9h0M160.0 194.8h0M139.3 194.2h0M139.2 192.8h0M162.3 192.5h0M168.1 187.0h0M172.4 186.4h0M140.1 190.7h0M146.9 194.6h0M130.1 183.4h0M171.8 187.2h0M163.3 195.9h0M142.3 192.5h0M166.7 190.9h0M169.9 194.6h0M136.6 187.0h0M133.4 190.0h0M139.3 189.9h0M152.8 196.8h0M164.5 196.2h0M169.9 187.7h0M159.9 195.4h0M164.5 194.7h0M148.7 196.6h0M139.4 187.5h0M134.2 189.5h0M135.6 185.5h0M162.9 189.0h0M144.5 193.9h0M168.7 184.4h0M169.8 187.1h0M148.3 195.6h0M143.1 192.3h0M155.9 196.7h0M139.3 188.7h0M150.8 196.8h0M169.4 189.8h0M133.7 186.5h0M168.4 184.2h0M140.6 191.6h0M151.0 197.0h0M139.6 189.6h0M129.8 174.9h0M166.6 189.6h0M147.8 195.4h0M162.4 192.5h0M175.0 186.4h0M133.2 177.4h0M163.0 194.1h0M168.1 191.9h0M161.5 196.8h0M146.0 194.8h0M155.7 196.3h0M170.1 194.2h0M137.9 184.9h0M155.9 197.0h0M135.1 188.5h0M152.4 196.8h0M175.1 182.4h0M149.1 196.5h0M140.7 195.6h0M145.1 193.2h0M146.3 195.4h0M141.0 194.3h0M154.4 196.9h0M131.8 184.8h0M162.5 191.7h0M164.0 194.7h0M170.3 190.4h0M163.3 193.8h0M146.2 195.6h0M163.1 192.6h0M146.7 195.0h0M156.9 196.3h0M154.5 196.9h0M136.3 195.6h0M153.1 196.7h0M165.8 183.5h0M137.8 188.4h0M167.4 187.6h0M168.3 188.1h0M141.7 190.0h0M133.9 187.3h0M147.1 194.7h0M137.3 185.8h0M173.9 193.9h0M167.7 190.0h0M175.5 166.4h0M147.9 195.7h0M157.1 195.9h0M171.4 185.2h0M152.3 196.8h0M174.6 185.0h0M154.3 196.9h0M167.2 191.9h0M137.7 193.9h0M140.8 189.2h0M134.8 191.9h0M169.1 192.0h0M169.1 191.9h0M132.4 168.2h0M137.3 182.3h0M158.1 195.4h0M170.1 194.9h0M140.9 188.3h0M164.9 192.5h0M158.5 196.0h0M174.7 188.5h0M165.7 191.6h0M146.4 194.8h0M131.8 191.6h0M134.5 189.7h0M162.0 195.3h0M140.8 188.2h0M173.4 191.3h0M175.3 178.7h0M172.2 194.4h0M164.8 190.3h0M160.6 193.8h0M160.8 193.6h0M151.0 196.9h0M160.0 194.8h0M164.7 193.2h0M132.8 184.8h0M159.9 194.3h0M166.3 194.1h0M171.9 185.4h0M132.6 190.8h0M169.6 180.7h0M151.9 196.7h0M129.8 178.2h0M158.1 195.0h0M151.2 196.9h0M144.2 193.2h0M158.1 195.5h0M162.9 196.6h0M156.8 196.7h0M136.1 190.4h0M162.7 194.5h0M129.5 179.5h0M130.1 188.5h0M133.0 183.6h0M157.0 196.6h0M145.2 193.7h0M161.1 194.2h0M130.7 167.8h0M149.0 196.6h0M148.4 196.3h0M133.1 188.1h0M138.4 195.3h0M143.1 193.3h0M138.2 187.8h0M153.3 196.9h0M134.7 183.8h0M134.3 193.0h0M132.9 194.5h0M152.7 196.9h0M164.9 191.6h0M161.3 192.2h0M166.3 196.0h0M153.1 197.0h0M166.8 194.0h0M150.4 196.9h0M153.9 197.0h0M162.2 193.8h0M134.5 181.8h0M158.0 195.5h0M135.9 191.7h0M166.3 184.3h0M150.7 196.8h0M141.8 195.4h0M138.1 192.0h0M139.3 188.2h0M152.2 197.1h0M164.5 189.2h0M143.1 196.2h0M144.9 193.9h0M142.7 191.3h0M134.7 189.5h0M173.0 191.5h0M139.3 189.6h0M153.6 196.8h0M164.9 189.5h0M143.1 193.3h0M157.3 196.7h0M159.5 194.8h0M149.3 196.6h0M165.9 192.6h0M173.9 186.5h0M148.4 196.9h0M145.9 196.5h0M168.5 190.8h0M131.4 167.8h0M144.4 192.5h0M166.5 191.8h0M167.6 189.0h0M157.5 195.4h0M167.5 192.3h0M149.1 196.4h0M136.3 189.6h0M144.3 194.0h0M152.3 197.2h0M149.6 196.6h0M145.0 192.5h0M169.0 195.6h0M153.8 197.0h0M147.6 196.7h0M140.0 196.3h0M138.9 187.3h0M133.0 168.3h0M153.8 196.8h0M135.8 189.5h0M134.5 181.4h0M144.1 192.6h0M157.0 196.7h0M146.5 196.6h0M153.2 197.1h0M147.7 195.4h0M138.5 194.3h0M152.9 196.9h0M132.9 194.2h0M169.2 179.4h0M157.8 196.0h0M169.8 183.6h0M141.0 191.6h0M139.7 191.1h0M168.6 187.4h0M171.4 180.2h0M163.5 190.5h0M163.4 191.8h0M147.0 196.9h0M138.6 194.0h0M155.2 196.7h0M157.1 195.7h0M150.0 196.8h0M141.3 191.9h0M150.0 196.6h0M135.7 181.1h0M139.7 196.4h0M145.4 193.6h0M139.3 196.2h0M172.2 179.4h0M143.8 196.8h0M132.1 191.2h0M132.4 194.7h0M168.2 195.3h0M137.4 195.9h0M150.2 196.7h0M171.2 181.5h0M139.5 189.1h0M144.8 192.9h0M175.0 183.3h0M141.5 190.4h0M162.4 195.5h0M171.9 195.1h0M136.5 185.5h0M142.2 194.9h0M154.2 197.0h0M168.7 193.6h0M130.5 179.1h0M159.7 194.0h0M145.1 195.8h0M147.2 195.4h0M157.9 195.6h0M137.5 195.2h0M160.4 194.1h0M159.1 195.8h0M153.6 197.0h0M152.7 196.7h0M162.9 193.8h0M145.2 195.3h0M130.5 174.8h0M148.1 195.5h0M151.9 196.8h0M133.0 173.3h0M167.4 184.1h0M143.7 193.2h0M157.4 195.8h0M173.2 193.8h0M146.7 194.9h0M161.3 194.6h0M166.9 192.0h0M134.7 182.3h0M160.9 193.1h0M146.0 196.4h0M142.9 196.7h0M134.2 194.5h0M134.4 187.3h0M161.1 194.1h0M149.3 196.7h0M141.4 192.5h0M134.2 192.9h0M145.0 194.1h0M171.1 182.4h0M145.1 193.3h0M161.0 193.5h0M175.6 175.1h0M135.0 191.9h0M170.7 181.7h0M160.2 194.1h0M175.4 165.6h0M151.1 197.1h0M169.6 188.6h0M165.0 191.7h0M151.4 197.0h0M135.9 194.6h0M154.7 196.8h0M138.6 188.8h0M162.3 189.5h0M135.7 189.3h0M139.5 187.9h0M149.0 196.4h0M165.7 194.4h0M163.6 190.6h0M140.3 195.2h0M143.9 194.2h0M136.1 185.8h0M170.4 194.5h0M136.6 187.7h0M150.3 196.8h0M139.8 195.7h0M170.8 175.0h0M159.0 195.6h0M173.2 191.0h0M164.3 194.4h0M160.5 196.6h0M160.1 194.1h0M142.0 190.9h0M171.6 188.6h0M159.1 196.9h0M135.6 182.9h0M172.4 176.8h0M162.3 196.1h0M169.7 185.6h0M135.4 192.2h0M150.7 196.8h0M175.0 158.1h0M175.1 187.6h0M137.0 186.7h0M132.1 180.0h0M147.3 195.3h0M131.4 188.6h0M155.9 196.2h0M154.0 197.0h0M137.7 186.4h0M157.5 196.6h0M158.6 196.7h0M135.5 180.0h0M175.0 177.0h0M154.2 196.8h0M164.9 191.0h0M153.1 197.1h0M157.6 196.4h0M142.8 193.2h0M168.7 193.0h0M136.1 186.3h0M138.6 194.6h0M135.4 184.9h0M152.3 197.0h0M160.7 195.1h0M137.6 193.5h0M145.2 195.8h0M170.1 184.4h0M133.4 184.6h0M164.0 193.1h0M131.9 193.6h0M168.4 189.6h0M157.1 195.5h0M130.1 182.4h0M146.4 196.4h0M153.9 197.0h0M140.8 195.8h0M166.6 187.5h0M156.9 196.0h0M145.9 195.1h0M139.9 190.9h0M174.6 158.1h0M170.4 187.2h0M168.3 195.0h0M137.5 192.4h0M143.5 194.6h0M131.1 177.1h0M130.8 191.6h0M169.5 178.1h0M130.3 187.6h0M171.7 179.8h0M151.1 196.7h0M134.9 182.0h0M148.0 196.3h0M133.7 181.4h0M143.8 194.1h0M154.5 196.8h0M166.8 195.4h0M148.0 196.1h0M133.3 193.1h0M150.5 196.9h0M145.6 194.7h0M162.1 195.7h0M129.7 166.5h0M134.1 190.6h0M149.7 197.1h0M136.1 190.9h0M136.2 189.1h0M162.1 195.8h0M155.8 196.7h0M143.7 193.5h0M131.0 178.3h0M150.8 196.9h0M167.4 189.9h0M139.7 188.1h0M148.5 196.2h0M167.2 188.5h0M146.0 194.4h0M139.7 195.2h0M134.5 171.3h0M171.6 186.1h0M130.5 189.1h0M163.5 196.3h0M129.7 174.8h0M141.8 193.9h0M139.3 192.8h0M149.0 196.8h0M153.9 197.0h0M137.8 186.1h0M155.6 196.6h0M139.3 189.4h0M169.1 186.0h0M169.5 192.1h0M162.7 191.1h0M175.6 184.2h0M174.3 177.9h0M146.6 196.7h0M149.4 196.7h0M131.3 174.7h0M141.8 196.3h0M130.3 188.9h0M171.4 182.2h0M168.3 191.8h0M146.9 194.8h0M148.2 196.0h0M174.4 174.7h0M133.6 191.0h0M147.3 196.1h0M153.8 197.0h0M136.8 184.8h0M151.4 197.0h0M137.7 184.3h0M170.9 187.0h0M164.6 194.1h0M148.7 196.0h0M163.0 193.8h0M153.1 196.9h0M159.7 195.6h0M147.1 195.0h0M135.6 194.7h0M152.0 196.9h0M159.2 194.0h0M173.9 171.5h0M171.1 194.2h0M131.5 177.0h0M135.7 187.3h0M147.0 195.2h0M174.0 194.4h0M173.4 191.2h0M130.7 187.1h0M168.6 188.9h0M146.2 194.0h0M137.5 182.0h0M136.1 181.0h0M147.2 195.9h0M156.3 196.1h0M174.9 188.7h0M168.6 185.1h0M152.0 196.8h0M157.3 196.3h0M150.9 196.7h0M147.7 195.9h0M164.3 191.9h0M174.0 193.9h0M131.0 187.4h0M150.3 197.1h0M157.8 196.0h0M169.5 193.2h0M152.0 197.1h0M145.4 196.0h0M146.2 194.5h0M169.7 195.4h0M174.4 186.4h0M165.8 187.3h0M130.3 177.7h0M131.2 168.9h0M155.4 196.6h0M168.9 187.7h0M136.4 187.7h0M170.8 177.9h0M135.8 195.9h0M166.3 187.4h0M174.5 190.2h0M151.5 196.7h0M130.8 193.6h0M148.2 196.0h0M167.8 192.9h0M148.7 197.0h0M175.4 174.6h0M138.7 188.6h0M142.7 192.9h0M167.7 186.0h0M156.0 196.2h0M131.8 179.1h0M147.3 196.8h0M151.5 197.1h0M146.8 195.7h0M171.1 192.5h0M156.6 196.3h0M135.5 188.8h0M169.8 189.3h0M171.2 195.4h0M171.3 185.4h0M129.5 192.7h0M151.4 196.8h0M130.4 190.6h0M146.6 196.1h0M165.0 193.4h0M146.8 196.1h0M154.8 196.8h0M156.4 196.0h0M141.6 191.7h0M131.1 194.4h0M148.1 196.1h0M151.9 197.1h0M135.9 191.6h0M139.8 191.5h0M158.6 196.2h0M167.7 193.0h0M155.6 196.6h0M157.2 195.6h0M168.9 189.3h0M130.5 187.1h0M164.2 193.6h0M162.2 192.6h0M157.5 195.9h0M142.9 192.0h0M150.1 196.8h0M146.9 195.5h0M141.0 192.3h0M142.6 192.0h0M165.0 195.5h0M155.5 196.9h0M168.3 186.5h0M166.6 194.6h0M132.1 189.5h0M170.4 194.3h0M130.0 173.6h0M165.5 193.6h0M133.5 180.8h0M156.1 196.1h0M169.4 194.3h0M165.5 188.5h0M146.4 195.4h0M137.5 195.1h0M139.1 188.6h0M146.9 195.5h0M147.6 196.5h0M173.7 181.2h0M144.2 193.4h0M147.8 196.0h0M153.3 196.7h0M157.0 195.6h0M174.7 175.3h0M143.0 192.1h0M138.8 194.7h0M140.4 191.3h0M174.3 168.1h0M171.7 184.0h0M133.7 190.3h0M162.4 196.4h0M160.8 196.7h0M162.7 194.7h0M168.5 195.4h0M165.0 191.4h0M148.9 196.8h0M147.5 195.3h0M166.7 194.5h0M129.8 185.6h0M164.2 192.9h0M130.7 193.4h0M146.8 194.4h0M140.6 195.2h0M151.6 197.1h0M135.9 191.1h0M131.1 191.0h0M172.8 194.6h0M156.8 196.3h0M140.5 190.8h0M161.2 195.6h0M165.2 190.5h0M157.5 195.4h0M153.6 196.7h0M134.3 187.5h0M172.7 180.7h0M160.3 193.9h0M152.3 197.1h0M147.9 195.7h0M173.2 193.1h0M143.0 194.7h0M171.0 192.3h0M151.8 196.8h0M172.4 191.3h0M148.9 196.7h0M171.4 194.0h0M154.3 197.0h0M144.6 192.9h0M145.8 196.6h0M155.2 196.8h0M175.0 177.7h0M140.3 192.7h0M147.1 195.5h0M146.6 195.0h0M159.6 193.9h0M174.5 175.8h0M141.8 196.1h0M167.8 194.8h0M153.4 196.7h0M131.2 187.2h0M155.6 196.8h0M130.6 167.0h0M150.3 196.8h0M165.3 194.8h0M136.9 185.7h0M141.0 192.4h0M133.8 194.0h0M169.1 187.9h0M135.8 183.5h0M173.1 181.6h0M132.8 182.7h0M137.7 187.0h0M148.2 195.6h0M156.8 196.3h0M166.2 190.6h0M151.6 197.0h0M149.7 196.5h0M143.8 195.9h0M158.5 195.4h0M145.7 195.8h0M145.4 195.0h0M155.3 196.7h0M146.0 196.2h0M167.0 190.9h0M164.7 191.5h0M169.7 180.2h0M142.5 192.5h0M145.1 194.7h0M160.8 193.5h0M131.2 181.8h0M171.7 189.0h0M159.6 195.0h0M150.6 196.8h0M143.9 195.1h0M141.1 190.0h0M168.7 195.8h0M169.9 191.5h0M157.3 195.4h0M142.8 191.4h0M160.5 194.7h0M151.3 196.8h0M151.4 197.1h0M132.2 184.9h0M136.2 187.8h0M164.3 190.3h0M166.7 196.0h0M152.6 196.7h0M150.5 196.9h0M134.7 186.1h0M131.2 177.7h0M156.7 196.0h0M142.2 194.4h0M171.2 186.2h0M157.1 197.1h0M149.3 196.6h0M130.3 175.6h0M153.2 197.1h0M158.6 195.6h0M145.2 194.4h0M171.4 194.0h0M174.1 181.1h0M173.4 194.6h0M130.3 170.0h0M150.7 196.9h0M131.2 195.0h0M170.4 181.8h0M175.5 185.9h0M169.8 186.3h0M169.4 188.5h0M159.0 194.9h0M167.0 189.9h0M131.1 187.6h0M151.0 197.2h0M150.6 197.1h0M144.3 196.5h0M139.9 188.5h0M157.3 196.2h0M169.9 188.5h0M167.4 190.5h0M141.9 188.2h0M160.4 196.2h0M169.0 193.2h0M157.1 196.2h0M155.6 196.4h0M158.7 195.2h0M152.5 197.1h0M136.1 184.0h0M169.5 193.3h0M131.3 174.9h0M148.3 195.8h0M155.0 196.7h0M169.0 195.1h0M172.4 179.4h0M141.0 191.7h0M172.5 189.0h0M146.4 195.1h0M164.6 189.8h0M140.9 187.8h0M146.4 195.4h0M154.5 196.9h0M161.9 191.3h0M138.2 192.6h0M156.9 195.8h0M168.1 187.5h0M171.4 179.2h0M156.8 196.7h0M134.5 195.1h0M148.2 196.1h0M171.6 188.6h0M141.2 193.0h0M153.5 196.9h0M158.2 195.3h0M170.1 194.5h0M160.5 194.3h0M137.7 186.2h0M137.3 187.2h0M172.6 179.2h0M148.5 196.2h0M154.7 196.8h0M170.6 193.6h0M156.6 196.1h0M162.3 193.5h0M136.8 190.6h0M168.5 178.8h0M132.2 194.0h0M148.1 196.0h0M152.3 196.7h0M174.9 173.5h0M168.3 184.4h0M143.1 193.6h0M154.7 196.7h0M152.0 197.2h0M168.1 186.4h0M148.0 196.7h0M169.3 183.9h0M134.0 181.1h0M165.2 192.2h0M137.5 195.7h0M143.3 194.6h0M136.2 183.6h0M144.4 192.8h0M175.4 189.6h0M147.6 196.4h0M146.3 195.6h0M131.6 161.6h0M144.0 196.6h0M167.7 184.0h0M137.3 191.6h0M160.7 194.5h0M172.7 175.4h0M172.7 185.4h0M159.3 194.3h0M159.9 193.9h0M137.5 194.0h0M142.8 189.6h0M171.7 181.4h0M168.3 182.9h0M151.3 196.8h0M165.2 195.2h0M160.0 194.3h0M161.4 192.7h0M134.4 181.9h0M145.1 194.4h0M152.4 197.1h0M129.7 177.8h0M162.6 190.5h0M155.9 196.8h0M148.3 196.6h0M148.3 196.1h0M137.0 184.5h0M171.7 184.6h0M157.0 195.9h0M162.7 190.9h0M131.7 183.9h0M159.4 194.4h0M150.5 196.8h0M142.9 192.0h0M131.2 180.9h0M152.8 196.7h0M175.6 180.0h0M152.6 196.8h0M140.8 195.1h0M134.5 192.2h0M156.4 195.9h0M146.2 195.4h0M162.7 191.3h0M146.7 195.8h0M153.8 196.8h0M151.7 197.0h0M156.6 196.3h0M169.8 195.4h0M159.4 194.5h0M157.4 195.7h0M173.7 175.7h0M146.7 195.3h0M148.6 196.5h0M133.6 189.3h0M163.6 190.5h0M171.2 185.5h0M132.8 179.9h0M172.8 187.3h0M173.1 192.9h0M130.4 188.7h0M168.4 191.1h0M131.5 178.4h0M146.6 194.9h0M168.6 185.9h0M145.6 194.5h0M134.0 181.9h0M144.3 194.1h0M156.9 196.3h0M145.2 195.1h0M160.4 195.0h0M175.4 186.8h0M165.9 191.6h0M130.5 180.3h0M173.7 183.6h0M162.2 192.3h0M169.0 191.1h0M151.2 197.1h0M133.2 183.3h0M175.5 193.0h0M147.5 195.3h0M167.1 186.2h0M131.6 183.9h0M162.9 194.2h0M141.2 195.8h0M145.0 196.8h0M144.3 196.5h0M145.8 194.7h0M144.0 192.6h0M151.4 196.9h0M170.7 188.9h0M143.3 193.6h0M172.3 188.7h0M165.2 191.2h0M169.6 188.2h0M168.3 188.0h0M162.8 195.7h0M175.0 195.3h0M166.5 192.7h0M173.7 176.2h0M170.6 185.6h0M172.3 168.7h0M132.4 180.8h0M163.5 194.6h0M148.0 195.4h0M150.5 196.8h0M150.1 196.7h0M136.1 188.3h0M140.8 186.8h0M174.8 179.9h0M154.0 197.1h0M131.3 178.5h0M150.9 196.9h0M146.9 194.8h0M167.7 188.5h0M148.0 196.5h0M159.7 195.0h0M170.0 183.6h0M156.9 195.7h0M143.2 193.1h0M162.1 192.1h0M137.4 189.3h0M158.0 196.7h0M151.1 197.0h0M133.3 190.7h0M133.2 190.7h0M171.9 185.3h0M136.4 188.3h0M135.0 179.0h0M130.2 192.2h0M139.0 188.0h0M150.2 196.6h0M169.9 186.1h0M170.9 173.6h0M139.9 188.7h0M174.3 187.0h0M164.0 193.4h0M157.4 196.9h0M135.7 193.2h0M132.5 188.3h0M173.6 185.7h0M153.5 197.1h0M158.7 194.7h0M168.6 192.7h0M153.1 196.8h0M137.8 193.6h0M149.6 196.7h0M157.5 195.3h0M170.4 191.5h0M157.7 195.3h0M153.6 196.8h0M148.8 196.3h0M130.0 176.7h0M142.1 188.4h0M154.2 197.0h0M170.1 180.0h0M141.1 196.5h0M145.1 194.8h0M147.3 195.9h0M139.6 191.0h0M154.0 197.1h0M161.7 194.9h0M135.8 196.0h0M161.0 193.6h0M156.3 196.6h0M140.4 190.3h0M132.3 186.7h0M158.2 195.5h0M173.9 182.7h0M139.9 188.3h0M156.9 196.0h0M168.2 185.6h0M158.0 196.5h0M145.3 195.8h0M146.4 195.4h0M164.1 196.2h0M152.2 196.9h0M139.5 188.2h0M131.1 177.8h0M143.1 196.0h0M173.3 184.1h0M135.7 190.7h0M160.5 196.1h0M161.4 196.2h0M155.9 196.8h0M156.9 196.0h0M144.4 195.7h0M160.3 195.3h0M164.8 187.7h0M133.9 189.0h0M153.4 196.9h0M148.4 196.0h0M140.8 194.8h0M140.2 196.1h0M162.5 192.2h0M155.7 196.5h0M165.5 196.3h0M162.9 192.7h0M162.9 196.7h0M133.5 179.9h0M134.0 182.0h0M137.7 190.9h0M159.0 195.1h0M135.6 179.6h0M141.9 193.4h0M156.2 197.0h0M138.3 195.3h0M145.8 194.0h0M157.8 195.0h0M166.9 186.8h0M173.2 192.7h0M136.9 192.5h0M138.5 190.0h0M147.9 196.2h0M172.6 190.4h0M149.6 196.7h0M169.7 182.7h0M170.9 183.0h0M165.2 191.6h0M159.8 194.5h0M156.7 195.8h0M168.2 178.5h0M161.4 196.0h0M146.7 195.2h0M142.7 191.9h0M170.9 184.4h0M173.1 181.7h0M173.4 183.8h0M163.1 193.0h0M141.7 190.1h0M166.5 191.9h0M158.7 196.6h0M169.2 188.7h0M156.9 196.5h0M172.6 168.6h0M133.6 176.5h0M145.0 195.1h0M167.6 186.1h0M137.0 186.6h0M137.5 188.8h0M140.2 195.6h0M165.9 187.5h0M133.0 185.1h0M165.2 191.5h0M131.6 185.6h0M159.8 196.5h0M173.1 180.0h0M155.3 196.7h0M152.1 197.1h0M157.6 196.1h0M148.5 195.9h0M135.0 194.0h0M148.3 195.6h0M172.9 189.1h0M173.6 179.3h0M174.5 188.6h0M148.3 196.7h0M139.2 195.6h0M160.1 194.9h0M149.7 196.9h0M154.7 196.7h0M170.3 183.0h0M142.4 196.4h0M162.5 192.5h0M135.8 189.6h0M163.9 191.7h0M152.8 196.8h0M162.3 196.5h0M130.1 190.5h0M164.9 194.9h0M130.5 178.6h0M159.0 195.5h0M163.8 193.8h0M135.4 190.9h0M140.8 194.4h0M147.2 196.8h0M148.2 196.7h0M163.3 193.0h0M129.6 193.0h0M167.6 187.9h0M173.0 180.5h0M139.3 194.6h0M154.9 196.7h0M145.3 194.8h0M173.4 173.0h0M147.8 196.3h0M149.8 196.8h0M148.2 196.5h0M159.9 193.3h0M137.5 184.3h0M140.6 193.6h0M169.3 184.2h0M154.3 196.9h0M175.7 180.5h0M132.5 188.2h0M129.5 175.6h0M175.1 187.1h0M143.2 196.4h0M144.4 193.6h0M168.9 196.0h0M142.0 193.0h0M137.5 184.0h0M141.6 193.7h0M142.7 196.2h0M147.6 195.2h0M156.1 196.2h0M139.4 194.1h0M154.9 196.7h0M148.2 196.8h0M144.8 196.7h0M150.5 196.7h0M147.3 195.6h0M140.0 194.9h0M164.0 196.5h0M134.4 195.1h0M163.3 188.8h0M143.9 193.8h0M168.7 195.5h0M137.3 189.4h0M141.1 192.2h0M160.3 196.5h0M169.0 181.3h0M146.9 195.6h0M170.4 178.4h0M154.7 196.9h0M168.1 194.9h0M173.2 193.5h0M164.2 195.6h0M160.0 194.6h0M162.6 194.6h0M146.7 194.8h0M158.3 194.7h0M137.8 184.4h0M138.9 193.9h0M166.6 185.7h0M140.5 194.9h0M148.0 196.1h0M146.1 196.8h0M168.8 191.8h0M160.2 194.4h0M146.3 196.5h0M157.1 196.7h0M158.3 195.3h0M130.8 190.4h0M157.5 195.3h0M157.8 196.7h0M138.5 192.9h0M165.4 185.5h0M133.8 194.7h0M158.7 194.3h0M157.1 195.5h0M139.6 192.7h0M174.1 193.7h0M166.0 187.2h0M161.4 193.6h0M172.4 181.4h0M173.5 177.2h0M148.6 197.0h0M164.2 195.8h0M151.4 197.0h0M140.9 189.2h0M160.2 195.5h0M169.4 188.4h0M175.6 180.3h0M175.1 166.4h0M168.9 194.4h0M158.1 196.6h0M175.3 176.1h0M139.8 193.9h0M173.7 180.2h0M142.7 193.2h0M148.8 196.9h0M153.6 197.1h0M135.9 183.2h0M130.8 162.8h0M141.2 196.3h0M146.9 195.6h0M173.1 170.6h0M166.0 195.1h0M165.4 191.1h0M172.8 188.8h0M145.3 195.4h0M152.0 197.1h0M151.9 196.7h0M157.6 195.2h0M143.1 195.5h0M148.4 195.8h0M157.8 195.3h0M162.2 195.8h0M170.5 191.0h0M135.4 188.9h0M152.8 197.1h0M141.8 190.4h0M137.7 183.4h0M137.2 186.4h0M129.9 174.5h0M153.6 197.0h0M130.3 178.1h0M142.4 194.5h0M144.2 194.4h0M131.3 180.7h0M163.4 190.4h0M148.8 195.9h0M149.5 196.6h0M173.4 171.4h0M150.5 197.0h0M130.0 182.1h0M132.2 183.9h0M145.0 195.8h0M130.2 188.7h0M159.3 195.2h0M141.4 191.2h0M163.0 191.2h0M141.8 193.1h0M132.3 178.8h0M151.9 196.8h0M141.8 196.5h0M137.8 189.9h0M170.3 191.9h0M170.0 186.3h0M133.7 186.4h0M130.2 187.0h0M167.1 191.9h0M131.4 182.2h0M160.1 194.3h0M166.0 194.5h0M162.8 195.4h0M161.8 191.9h0M156.0 196.3h0M145.2 194.5h0M141.7 194.1h0M137.3 185.2h0M152.8 196.7h0M160.7 193.5h0M160.7 194.6h0M163.6 194.1h0M163.9 194.3h0M165.5 187.7h0M146.0 196.4h0M163.3 190.3h0M153.1 197.1h0M161.3 195.4h0M129.6 183.7h0M153.3 197.0h0M167.2 190.1h0M154.1 196.9h0M145.1 194.8h0M160.5 195.6h0M151.5 197.1h0M136.8 195.9h0M159.1 195.9h0M131.6 195.4h0M158.2 196.8h0M169.0 195.2h0M152.4 197.0h0M164.9 189.2h0M169.6 191.9h0M130.9 194.4h0M134.2 194.6h0M151.6 196.8h0M143.2 192.0h0M140.8 191.0h0M142.1 195.7h0M140.8 194.8h0M131.1 187.9h0M131.9 187.3h0M165.2 187.6h0M131.3 182.0h0M132.5 176.4h0M171.9 194.6h0M138.7 188.6h0M137.7 189.8h0M173.0 194.0h0M131.5 190.7h0M135.2 183.2h0M154.0 197.0h0M161.2 194.6h0M143.1 191.6h0M166.8 188.2h0M163.1 192.3h0M168.8 195.9h0M158.8 195.0h0M141.1 191.7h0M170.7 195.4h0M152.1 196.9h0M140.0 189.9h0M137.6 190.6h0M137.9 180.4h0M171.1 187.7h0M144.2 192.6h0M168.2 190.8h0M175.1 186.4h0M144.3 195.8h0M155.8 196.6h0M157.2 196.2h0M157.1 196.2h0M134.0 186.3h0M159.1 196.6h0M146.4 196.5h0M161.0 193.5h0M173.4 179.3h0M130.8 174.5h0M169.8 189.3h0M173.5 190.3h0M141.8 196.0h0M158.7 196.0h0M172.6 183.2h0M139.1 191.3h0M132.1 185.0h0M155.8 196.3h0M155.0 196.7h0M145.4 196.1h0M138.5 188.8h0M139.8 193.5h0M153.4 196.7h0M146.1 195.0h0M148.6 196.8h0M157.8 195.8h0M143.5 193.3h0M135.9 195.0h0M150.2 196.8h0M163.8 194.1h0M159.8 196.7h0M135.4 193.2h0M153.4 196.7h0M154.5 196.9h0M161.0 193.0h0M173.2 188.4h0M154.4 196.9h0M173.5 190.3h0M130.9 185.5h0M171.0 174.0h0M167.2 189.7h0M152.6 196.9h0M161.2 193.8h0M141.1 192.2h0M140.2 191.7h0M144.8 193.6h0M146.2 195.2h0M149.5 196.9h0M148.5 196.2h0M146.1 195.0h0M156.4 196.3h0M146.2 196.8h0M133.1 189.4h0M155.8 196.4h0M151.2 197.0h0M140.4 186.6h0M149.3 196.8h0M142.5 195.8h0M151.8 196.9h0M148.6 196.6h0M174.4 170.7h0M148.6 196.6h0M146.9 194.7h0M130.9 171.5h0M167.1 189.1h0M136.7 186.2h0M164.1 188.8h0M158.4 196.1h0M159.2 194.5h0M152.2 197.0h0M149.5 196.8h0M138.6 188.1h0M144.8 194.2h0M165.1 189.4h0M167.1 191.0h0M169.7 187.3h0M150.6 196.8h0M132.3 194.8h0M132.3 195.3h0M131.9 183.1h0M133.3 180.5h0M150.5 196.7h0M157.2 196.2h0M152.6 197.0h0M146.0 194.0h0M138.0 191.2h0M169.0 183.0h0M144.8 193.6h0M172.5 194.5h0M143.4 193.3h0M142.6 193.3h0M166.5 193.8h0M170.4 176.1h0M137.1 192.7h0M147.9 196.6h0M134.7 180.2h0M159.0 195.3h0M146.2 196.7h0M168.9 182.4h0M134.4 181.2h0M160.5 194.7h0M144.0 194.1h0M130.9 167.8h0M137.4 191.8h0M165.5 196.3h0M141.3 191.9h0M136.1 190.9h0M139.5 196.3h0M135.9 191.7h0M154.2 196.8h0M174.8 186.6h0M161.7 193.9h0M161.7 195.3h0M157.0 195.8h0M157.7 195.7h0M165.3 192.8h0M149.1 196.7h0M150.5 196.8h0M153.7 197.1h0M161.9 194.8h0M131.5 170.4h0M151.4 196.8h0M140.9 191.6h0M146.0 193.9h0M156.3 196.1h0M166.7 192.3h0M171.3 175.0h0M131.4 167.7h0M173.7 183.8h0M147.6 195.9h0M155.3 196.7h0M164.2 189.3h0M175.2 156.9h0M150.2 196.6h0M164.5 188.3h0M135.3 186.5h0M167.2 186.0h0M133.0 194.5h0M133.2 184.5h0M147.8 195.9h0M153.8 196.7h0M132.5 192.3h0M151.9 196.7h0M139.9 190.9h0M173.2 183.2h0M145.7 196.8h0M172.4 165.5h0M171.5 177.6h0M151.4 197.1h0M165.9 189.2h0M157.9 196.4h0M132.6 175.6h0M132.5 175.3h0M150.6 196.9h0M130.6 168.5h0M146.0 194.7h0M141.1 194.0h0M133.3 184.0h0M160.0 193.9h0M170.0 189.6h0M143.5 193.7h0M152.0 197.2h0M165.5 195.0h0M153.6 197.1h0M157.2 196.6h0M157.5 196.2h0M148.2 196.8h0M129.9 185.9h0M170.7 192.0h0M138.9 188.8h0M162.1 191.8h0M132.4 190.5h0M159.2 195.2h0M169.1 194.6h0M136.0 192.3h0M146.7 195.2h0M175.7 184.9h0M147.3 196.1h0M142.7 192.8h0M132.6 190.2h0M145.6 195.8h0M159.5 196.3h0M141.2 191.8h0M152.3 197.1h0M155.1 197.0h0M169.6 182.3h0M141.1 191.1h0M167.8 186.9h0M148.6 196.2h0M129.8 163.0h0M163.8 189.0h0M171.7 188.3h0M167.5 183.5h0M174.2 182.0h0M166.9 194.8h0M135.7 191.1h0M170.9 186.7h0M132.1 182.6h0M146.3 194.1h0M136.2 185.6h0M135.7 189.7h0M138.4 185.6h0M158.2 196.7h0M167.1 190.8h0M131.3 177.9h0M171.5 177.4h0M168.7 189.1h0M135.4 189.0h0M139.7 195.0h0M159.9 196.4h0M129.6 159.9h0M167.7 185.5h0M158.8 195.7h0M154.5 196.8h0M172.0 195.0h0M143.3 192.5h0M162.9 193.6h0M155.5 196.9h0M137.2 189.5h0M171.9 195.3h0M137.7 187.7h0M144.1 192.7h0M160.1 192.8h0M152.0 196.8h0M164.6 195.8h0M159.0 195.0h0M171.0 192.7h0M158.9 196.0h0M146.7 195.5h0M137.9 190.5h0M137.7 188.2h0M133.6 193.4h0M153.8 197.0h0M140.3 188.0h0M170.7 182.9h0M139.8 188.2h0M143.2 194.9h0M149.7 196.5h0M143.0 195.0h0M158.0 196.7h0M142.9 195.8h0M157.2 195.4h0M139.3 191.9h0M135.9 194.9h0M141.7 193.0h0M174.4 167.5h0M141.2 193.1h0M155.0 196.7h0M169.8 182.9h0M150.4 197.0h0M168.3 191.7h0M138.0 195.3h0M159.7 194.4h0M130.4 179.9h0M165.5 194.3h0M140.9 194.7h0M174.7 168.2h0M143.8 193.4h0M133.2 187.8h0M148.0 196.6h0M137.8 179.3h0M136.3 186.4h0M135.1 184.5h0M135.4 192.4h0M140.4 191.5h0M134.2 181.8h0M158.5 194.8h0M170.0 188.1h0M163.3 196.3h0M131.7 181.6h0M164.1 189.6h0M165.1 191.6h0M154.0 197.0h0M174.2 174.9h0M161.7 194.8h0M142.4 196.8h0M141.4 193.3h0M149.1 196.9h0M163.5 194.4h0M149.3 197.0h0M145.0 194.4h0M138.9 193.1h0M156.2 196.6h0M143.4 192.3h0M132.0 183.6h0M165.6 188.5h0M170.5 186.0h0M133.1 182.6h0M135.4 187.5h0M158.4 196.7h0M145.2 195.0h0M160.9 195.0h0M152.2 197.0h0M174.3 192.5h0M173.0 195.2h0M170.0 188.9h0M130.8 193.8h0M138.3 184.8h0M174.1 191.7h0M150.8 196.9h0M137.2 194.2h0M141.2 194.6h0M161.6 194.2h0M155.0 197.1h0M144.4 196.8h0M175.3 190.7h0M131.3 185.3h0M146.5 196.6h0M150.3 196.8h0M167.8 184.5h0M131.9 182.6h0M141.3 196.3h0M166.3 192.1h0M152.2 196.9h0M151.7 197.1h0M175.5 191.4h0M160.7 192.2h0M146.3 195.1h0M143.2 192.3h0" stroke="#828282" stroke-width="1.2" stroke-linecap="round" fill="none"/>
<path d="M108.0 178.4h0M128.0 189.4h0M123.1 192.3h0M124.3 190.6h0M109.2 153.4h0M128.6 192.4h0M125.3 192.0h0M109.5 154.7h0M127.8 191.7h0M129.3 189.7h0M125.9 193.2h0M121.5 183.5h0M123.6 189.6h0M127.3 182.2h0M129.0 184.1h0M124.1 160.3h0M126.0 194.2h0M113.3 187.2h0M106.0 182.8h0M128.4 190.9h0M121.0 191.4h0M118.7 189.8h0M119.2 179.3h0M99.7 173.9h0M126.1 193.9h0M115.4 169.6h0M124.9 155.0h0M109.8 186.2h0M120.3 188.7h0M128.3 187.5h0M123.0 191.7h0M109.9 182.6h0M126.6 187.5h0M129.1 187.9h0M125.5 193.8h0M125.0 186.9h0M129.2 194.9h0M110.9 167.1h0M127.2 172.1h0M111.0 187.9h0M102.5 171.6h0M125.8 186.2h0M128.4 188.7h0M114.6 185.9h0M112.6 156.8h0M125.9 193.0h0M125.6 192.5h0M129.4 175.1h0M128.6 188.7h0M121.7 177.5h0M118.4 185.3h0M125.3 167.8h0M122.7 185.3h0M128.6 182.9h0M120.7 186.2h0M129.2 194.5h0M123.7 177.5h0M126.7 190.3h0M111.5 188.5h0M128.8 183.3h0M95.6 188.0h0M126.4 177.6h0M128.3 181.8h0M121.6 192.2h0M129.3 190.3h0M123.3 191.3h0M123.7 191.0h0M127.0 194.4h0M118.5 175.8h0M127.1 192.7h0M115.4 186.4h0M114.1 176.2h0M126.9 162.4h0M122.3 163.7h0M115.4 185.9h0M128.4 194.4h0M123.9 191.6h0M128.3 193.6h0M103.7 176.2h0M104.6 182.8h0M122.9 165.1h0M122.0 189.1h0M128.3 189.1h0M109.3 190.8h0M115.8 178.6h0M127.5 184.9h0M109.7 186.1h0M115.7 192.2h0M121.1 187.6h0M106.4 183.5h0M119.2 191.4h0M115.3 191.7h0M106.4 191.5h0M118.0 185.3h0M129.3 189.1h0M124.8 176.7h0M109.9 191.1h0M113.6 187.1h0M118.5 186.5h0M127.4 190.6h0M106.4 188.7h0M120.6 184.2h0M103.5 161.9h0M106.4 184.0h0M125.3 181.1h0M124.8 177.5h0M128.4 194.4h0M127.4 181.2h0M122.1 185.2h0M109.5 159.8h0M126.9 193.8h0M115.1 179.2h0M116.7 187.7h0M111.6 177.2h0M129.4 167.1h0M125.0 192.6h0M106.4 188.0h0M126.8 190.2h0M124.5 191.4h0M128.9 193.4h0M124.7 159.0h0M128.4 155.1h0M125.1 186.5h0M126.9 161.5h0M117.7 188.6h0M120.8 185.4h0M115.3 191.6h0M120.5 175.9h0M114.9 165.6h0M127.6 164.9h0M128.9 187.9h0M126.5 194.2h0M114.2 189.4h0M125.2 169.7h0M128.5 191.1h0M119.1 192.6h0M122.9 191.6h0M121.4 192.2h0M97.7 186.9h0M128.5 193.2h0M107.1 92.8h0M121.0 110.7h0M121.0 114.7h0M124.6 131.8h0M107.1 135.1h0M121.0 140.3h0M128.1 142.4h0M129.5 146.1h0M121.0 148.3h0M125.6 151.9h0M110.8 153.7h0M98.3 191.7h0M74.1 192.1h0M78.7 190.6h0M83.3 173.1h0M96.7 192.1h0M99.5 192.1h0M117.9 159.2h0M123.7 157.0h0M113.3 164.3h0M115.2 169.5h0M108.7 177.5h0M106.4 185.5h0M104.1 189.9h0" stroke="#08ee08" stroke-width="1.35" stroke-linecap="round" fill="none"/>
<path d="M183.6 190.2h0M187.6 184.6h0M180.0 192.3h0M194.4 171.4h0M182.0 188.4h0M179.4 184.3h0M183.1 172.6h0M183.3 193.8h0M179.6 187.0h0M192.0 167.8h0M179.0 193.9h0M179.9 191.7h0M185.9 153.0h0M181.2 160.5h0M192.4 187.8h0M185.1 188.0h0M181.5 187.7h0M177.7 194.3h0M177.5 170.0h0M190.2 173.6h0M178.2 176.2h0M179.0 194.5h0M192.6 174.6h0M187.8 180.8h0M177.9 191.4h0M183.0 186.9h0M197.0 184.9h0M180.7 193.2h0M177.0 159.0h0M175.9 186.0h0M183.1 186.9h0M209.2 181.7h0M176.4 174.4h0M184.5 189.0h0M181.5 187.9h0M175.9 192.3h0M195.3 185.6h0M196.3 185.4h0M178.2 188.0h0M178.8 192.7h0M178.1 188.1h0M198.4 174.5h0M180.0 192.8h0M176.7 191.8h0M177.2 190.5h0M198.8 190.1h0M183.3 193.6h0M177.7 169.0h0M179.1 162.1h0M188.7 191.1h0M205.8 187.0h0M198.8 183.1h0M177.0 194.6h0M177.3 189.9h0M185.8 189.6h0M182.1 179.0h0M191.5 185.5h0M177.3 192.7h0M184.9 187.7h0M185.0 193.4h0M184.8 187.8h0M193.8 173.0h0M187.2 181.8h0M181.3 185.3h0M180.3 191.8h0M187.9 188.6h0M184.3 193.0h0M185.4 192.1h0M198.8 189.1h0M185.8 162.0h0M176.7 187.5h0M181.6 193.0h0M183.4 180.6h0M200.1 184.5h0M179.8 175.1h0M176.9 183.6h0M182.5 192.8h0M187.6 185.0h0M194.1 186.6h0M184.3 190.0h0M177.8 163.5h0M176.4 174.8h0M181.1 194.2h0M177.1 191.6h0M181.8 187.2h0M175.9 186.8h0M181.8 192.8h0M196.2 179.5h0M181.7 193.2h0M180.3 193.9h0M194.4 185.2h0M185.0 188.4h0M181.2 159.1h0M177.0 190.8h0M177.6 188.6h0M177.4 174.9h0M179.8 186.3h0M176.0 173.5h0M176.8 186.4h0M176.1 172.1h0M175.7 175.4h0M176.5 192.2h0M181.9 191.0h0M194.3 187.1h0M178.6 194.4h0M179.0 159.0h0M180.6 192.3h0M178.8 186.0h0M187.7 192.4h0M181.6 187.7h0M179.3 193.4h0M189.1 186.2h0M178.3 187.1h0M182.2 193.9h0M176.0 185.7h0M183.2 191.9h0M176.6 161.8h0M178.1 188.9h0M183.1 173.0h0M177.8 194.0h0M177.6 192.7h0M181.8 185.2h0M176.6 188.7h0M191.1 187.1h0M179.5 193.9h0M182.5 191.9h0M178.1 194.1h0M176.6 190.4h0M193.5 103.0h0M199.5 118.5h0M193.5 124.2h0M187.2 132.2h0M192.8 135.1h0M178.5 140.3h0M183.3 139.8h0M208.5 145.4h0M188.2 149.0h0M179.9 148.5h0M198.1 160.7h0M203.2 164.3h0M216.1 167.6h0M223.3 191.7h0M213.4 190.0h0M210.8 190.6h0M181.5 162.2h0M187.2 165.1h0M190.0 166.5h0M194.2 175.3h0M198.8 187.7h0M203.4 191.4h0M201.1 190.6h0M196.5 181.1h0" stroke="#fa1010" stroke-width="1.35" stroke-linecap="round" fill="none"/>
<rect x="60" y="50.8" width="185.3" height="149.8" fill="none" stroke="#000" stroke-width="1.9"/>
<line x1="60.2" y1="200.6" x2="60.2" y2="204.74999999999997" stroke="#000" stroke-width="1.9"/>
<text x="58.6" y="215.8" font-size="12.3" font-weight="bold" text-anchor="middle" fill="#000" >-4</text>
<line x1="83.3" y1="200.6" x2="83.3" y2="204.74999999999997" stroke="#000" stroke-width="1.9"/>
<text x="81.7" y="215.8" font-size="12.3" font-weight="bold" text-anchor="middle" fill="#000" >-3</text>
<line x1="106.4" y1="200.6" x2="106.4" y2="204.74999999999997" stroke="#000" stroke-width="1.9"/>
<text x="104.8" y="215.8" font-size="12.3" font-weight="bold" text-anchor="middle" fill="#000" >-2</text>
<line x1="129.5" y1="200.6" x2="129.5" y2="204.74999999999997" stroke="#000" stroke-width="1.9"/>
<text x="127.9" y="215.8" font-size="12.3" font-weight="bold" text-anchor="middle" fill="#000" >-1</text>
<line x1="152.6" y1="200.6" x2="152.6" y2="204.74999999999997" stroke="#000" stroke-width="1.9"/>
<text x="152.6" y="215.8" font-size="12.3" font-weight="bold" text-anchor="middle" fill="#000" >0</text>
<line x1="175.7" y1="200.6" x2="175.7" y2="204.74999999999997" stroke="#000" stroke-width="1.9"/>
<text x="175.7" y="215.8" font-size="12.3" font-weight="bold" text-anchor="middle" fill="#000" >1</text>
<line x1="198.8" y1="200.6" x2="198.8" y2="204.74999999999997" stroke="#000" stroke-width="1.9"/>
<text x="198.8" y="215.8" font-size="12.3" font-weight="bold" text-anchor="middle" fill="#000" >2</text>
<line x1="221.9" y1="200.6" x2="221.9" y2="204.74999999999997" stroke="#000" stroke-width="1.9"/>
<text x="221.9" y="215.8" font-size="12.3" font-weight="bold" text-anchor="middle" fill="#000" >3</text>
<line x1="245.0" y1="200.6" x2="245.0" y2="204.74999999999997" stroke="#000" stroke-width="1.9"/>
<text x="245.0" y="215.8" font-size="12.3" font-weight="bold" text-anchor="middle" fill="#000" >4</text>
<line x1="55.849999999999994" y1="197.2" x2="60" y2="197.2" stroke="#000" stroke-width="1.9"/>
<text x="55.3" y="201.3" font-size="12.8" font-weight="bold" text-anchor="end" fill="#000" >0</text>
<line x1="55.849999999999994" y1="160.7" x2="60" y2="160.7" stroke="#000" stroke-width="1.9"/>
<text x="55.3" y="164.8" font-size="12.8" font-weight="bold" text-anchor="end" fill="#000" >50</text>
<line x1="55.849999999999994" y1="124.2" x2="60" y2="124.2" stroke="#000" stroke-width="1.9"/>
<text x="55.3" y="128.3" font-size="12.8" font-weight="bold" text-anchor="end" fill="#000" >100</text>
<line x1="55.849999999999994" y1="87.7" x2="60" y2="87.7" stroke="#000" stroke-width="1.9"/>
<text x="55.3" y="91.8" font-size="12.8" font-weight="bold" text-anchor="end" fill="#000" >150</text>
<line x1="55.849999999999994" y1="51.2" x2="60" y2="51.2" stroke="#000" stroke-width="1.9"/>
<text x="55.3" y="55.3" font-size="12.8" font-weight="bold" text-anchor="end" fill="#000" >200</text>
<text x="85" y="42.7" font-size="12.6" font-weight="bold" textLength="64.5" lengthAdjust="spacingAndGlyphs">LPS vs Con</text>
<circle cx="71" cy="58.6" r="0.95" fill="#08ee08"/>
<text x="84.8" y="61.6" font-size="9.2" font-weight="bold" textLength="87.2" lengthAdjust="spacingAndGlyphs">Down Regulated:168</text>
<circle cx="71" cy="71" r="0.95" fill="#828282"/>
<text x="84.8" y="74.0" font-size="9.2" font-weight="bold" textLength="21.6" lengthAdjust="spacingAndGlyphs">None</text>
<circle cx="71" cy="83.2" r="0.95" fill="#fa1010"/>
<text x="84.8" y="86.2" font-size="9.2" font-weight="bold" textLength="75.2" lengthAdjust="spacingAndGlyphs">Up Regulated:153</text>
<text x="104" y="230.6" font-size="12.6" font-weight="bold" textLength="97.6" lengthAdjust="spacingAndGlyphs">log<tspan font-size="8.4" dy="2.6">2</tspan><tspan dy="-2.6">(Fold Change)</tspan></text>
<text transform="translate(30.2,166.8) rotate(-90)" font-size="12.8" font-weight="bold" textLength="81.2" lengthAdjust="spacingAndGlyphs">-log<tspan font-size="8.4" dy="2.6">10</tspan><tspan dy="-2.6">(P-value)</tspan></text>
<path d="M432.2 158.1h0M418.7 194.2h0M402.5 191.6h0M395.7 175.4h0M415.5 195.2h0M426.5 187.3h0M434.1 174.5h0M417.9 194.8h0M413.9 194.9h0M420.8 194.4h0M427.8 192.8h0M396.3 179.6h0M408.1 193.6h0M426.3 191.8h0M426.5 185.4h0M416.8 194.6h0M401.5 179.8h0M395.6 164.6h0M427.4 178.7h0M425.1 186.0h0M402.5 188.6h0M432.6 169.1h0M416.2 194.7h0M405.0 186.8h0M408.6 191.2h0M422.6 191.0h0M420.7 194.0h0M426.0 188.9h0M399.1 187.7h0M428.6 180.6h0M417.5 194.8h0M413.8 195.0h0M410.0 193.3h0M403.0 192.4h0M411.9 194.2h0M422.7 191.7h0M406.8 190.9h0M429.8 181.4h0M419.3 194.4h0M407.0 188.2h0M411.7 194.2h0M405.1 193.9h0M405.4 188.1h0M413.5 194.9h0M429.5 180.5h0M434.6 191.9h0M405.9 193.6h0M398.4 185.9h0M406.6 188.8h0M401.6 172.4h0M395.5 189.5h0M413.7 194.7h0M428.1 186.3h0M400.1 179.9h0M412.0 194.4h0M429.6 188.2h0M424.9 185.1h0M434.5 165.6h0M426.1 188.2h0M424.1 188.6h0M411.2 194.5h0M428.1 188.7h0M407.5 192.4h0M428.1 181.3h0M420.0 193.3h0M434.5 182.1h0M428.8 188.5h0M396.1 169.6h0M423.5 193.0h0M419.2 193.8h0M416.7 194.9h0M400.6 189.2h0M425.2 189.9h0M408.8 190.8h0M414.7 195.0h0M433.8 174.3h0M431.3 180.6h0M421.8 190.6h0M399.2 182.5h0M427.0 183.2h0M415.5 194.6h0M421.0 192.6h0M424.4 188.2h0M403.5 187.3h0M434.3 172.9h0M417.8 194.2h0M400.4 181.6h0M415.5 194.7h0M398.0 179.9h0M428.5 182.9h0M400.5 184.8h0M419.6 193.8h0M415.9 194.6h0M427.2 186.0h0M428.1 181.4h0M399.9 187.9h0M415.0 195.1h0M404.8 186.6h0M401.2 190.5h0M418.8 193.3h0M400.9 184.5h0M412.8 194.5h0M424.7 188.2h0M398.5 184.3h0M411.1 194.4h0M401.8 177.3h0M429.6 177.4h0M424.5 187.7h0M433.1 172.4h0M406.8 191.5h0M420.5 192.9h0M411.0 193.9h0M408.5 194.7h0M406.9 191.8h0M432.3 171.0h0M405.9 190.1h0M434.7 170.2h0M398.5 180.2h0M432.3 161.7h0M434.6 174.3h0M424.4 190.4h0M429.2 188.3h0M426.8 193.7h0M399.4 178.5h0M398.8 187.4h0M425.1 188.2h0M429.3 175.0h0M406.2 189.2h0M424.4 186.9h0M420.7 193.3h0M431.8 176.4h0M430.7 190.4h0M430.3 192.0h0M418.5 193.9h0M415.9 194.9h0M426.8 192.1h0M394.8 167.0h0M402.0 185.2h0M420.6 194.3h0M401.9 182.0h0M416.6 194.8h0M409.8 194.8h0M407.9 191.8h0M429.9 181.3h0M398.5 192.0h0M400.4 180.3h0M414.9 195.2h0M396.5 193.0h0M420.1 193.3h0M407.4 194.4h0M433.6 177.7h0M429.0 181.3h0M427.0 182.9h0M434.3 185.3h0M403.8 185.0h0M430.0 184.4h0M431.3 191.9h0M403.8 193.3h0M417.7 194.9h0M398.6 168.5h0M427.5 185.3h0M425.0 185.2h0M408.5 191.2h0M431.3 175.5h0M401.1 193.7h0M416.5 195.0h0M413.4 194.8h0M423.9 188.9h0M427.8 187.3h0M413.3 194.6h0M408.5 191.0h0M422.3 190.3h0M417.7 194.2h0M402.8 193.9h0M426.5 192.0h0M402.6 190.1h0M422.8 192.9h0M432.9 186.6h0M407.5 190.4h0M423.9 190.6h0M419.2 193.8h0M426.5 190.0h0M402.0 192.6h0M398.4 191.9h0M420.0 193.8h0M424.3 187.7h0M427.6 189.5h0M425.6 193.1h0M407.6 194.3h0M400.4 193.6h0M420.1 192.2h0M425.2 186.2h0M405.8 194.3h0M418.7 193.8h0M406.1 193.1h0M414.6 194.8h0M409.4 191.5h0M430.6 187.5h0M425.5 192.1h0M421.3 191.9h0M423.9 190.5h0M419.8 192.4h0M426.8 185.8h0M404.2 190.2h0M415.3 194.9h0M416.0 194.8h0M421.6 193.2h0M422.3 194.5h0M396.9 185.2h0M413.2 194.9h0M406.5 191.5h0M397.2 183.6h0M420.4 191.9h0M428.2 186.0h0M426.8 184.2h0M432.8 184.4h0M416.4 194.7h0M400.6 192.7h0M406.8 191.8h0M395.4 185.7h0M416.7 194.6h0M434.1 176.9h0M404.8 192.2h0M413.1 194.6h0M426.0 184.5h0M429.3 180.3h0M430.1 187.3h0M426.4 187.6h0M401.7 192.4h0M407.0 189.3h0M425.6 191.5h0M404.1 191.8h0M396.8 188.0h0M396.2 175.9h0M400.5 184.5h0M427.9 179.1h0M420.1 193.3h0M429.4 185.3h0M397.1 175.6h0M434.7 189.0h0M414.3 195.0h0M433.1 181.0h0M425.2 187.5h0M400.8 179.0h0M431.4 181.5h0M424.5 191.8h0M415.0 195.1h0M406.1 193.2h0M412.6 194.6h0M396.7 190.6h0M413.3 194.7h0M401.0 176.6h0M418.1 194.8h0M422.1 188.8h0M399.9 190.4h0M415.4 194.6h0M406.6 193.7h0M400.1 193.6h0M427.5 185.0h0M427.6 186.5h0M407.7 193.5h0M415.5 195.1h0M395.7 189.2h0M427.7 186.1h0M397.7 168.9h0M407.3 190.8h0M410.4 193.7h0M400.6 179.7h0M401.9 181.3h0M413.3 194.9h0M412.6 194.4h0M409.0 192.6h0M399.4 186.8h0M419.0 194.1h0M434.2 186.6h0M421.5 193.9h0M416.2 194.9h0M406.7 191.9h0M400.7 191.3h0M423.1 191.0h0M402.9 193.8h0M395.4 160.5h0M427.8 184.3h0M429.3 176.7h0M405.0 193.2h0M415.7 195.1h0M432.3 181.3h0M430.6 184.2h0M400.7 178.9h0M400.7 189.5h0M428.2 178.0h0M411.2 193.9h0M413.7 195.2h0M432.5 177.6h0M433.7 171.9h0M423.0 194.2h0M416.8 194.9h0M398.9 175.7h0M406.6 188.4h0M407.6 194.0h0M397.6 191.1h0M425.4 193.1h0M430.7 188.9h0M431.0 184.9h0M409.0 191.0h0M414.5 194.8h0M394.8 154.7h0M402.7 192.8h0M415.1 194.9h0M422.6 189.1h0M414.9 195.1h0M433.6 190.2h0M411.8 193.8h0M423.1 189.2h0M425.8 187.4h0M410.5 193.6h0M418.8 194.2h0M410.2 194.9h0M401.0 188.5h0M411.0 193.6h0M421.2 190.4h0M394.8 159.3h0M433.4 161.1h0M418.7 194.6h0M394.9 170.4h0M429.7 180.3h0M414.1 195.0h0M414.2 195.1h0M417.4 194.9h0M425.6 181.8h0M412.4 194.6h0M429.1 183.6h0M430.9 171.1h0M404.3 186.0h0M428.4 183.6h0M414.9 194.6h0M394.8 151.0h0M411.2 193.8h0M420.2 193.2h0M396.0 192.5h0M403.9 187.1h0M408.4 194.2h0M405.5 183.8h0M433.6 167.8h0M403.3 191.0h0M418.5 194.6h0M405.6 189.2h0M399.2 189.3h0M407.3 190.6h0M404.5 187.6h0M409.3 192.4h0M401.7 190.6h0M432.3 192.0h0M432.7 184.4h0M414.8 194.6h0M415.1 194.9h0M426.0 192.8h0M415.7 194.7h0M404.9 192.1h0M415.2 195.0h0M424.6 188.0h0M413.8 194.8h0M429.5 187.4h0M406.7 186.9h0M415.7 195.1h0M419.2 193.7h0M415.7 195.1h0M426.7 191.6h0M427.7 186.8h0M408.6 190.7h0M395.2 191.0h0M422.5 189.3h0M433.8 189.5h0M396.8 174.4h0M399.3 184.8h0M402.2 192.3h0M398.3 176.7h0M411.3 194.3h0M427.9 179.2h0M406.0 190.9h0M419.5 193.8h0M420.1 192.1h0M415.4 195.0h0M404.7 188.2h0M413.5 194.6h0M430.7 187.7h0M430.5 175.9h0M410.9 193.7h0M409.6 191.6h0M422.5 192.6h0M402.2 189.4h0M403.0 187.2h0M409.9 192.7h0M420.1 194.3h0M397.0 179.7h0M419.4 193.1h0M406.8 192.9h0M413.2 194.9h0M419.7 193.8h0M414.3 194.8h0M394.7 181.7h0M402.2 185.8h0M408.0 191.2h0M403.3 185.3h0M404.5 193.8h0M428.8 184.0h0M430.5 169.5h0M423.3 190.0h0M411.5 194.0h0M416.7 194.8h0M414.2 194.7h0M401.9 184.1h0M412.0 194.6h0M425.6 188.7h0M424.3 188.4h0M408.1 194.5h0M433.4 175.3h0M394.8 191.3h0M405.7 187.9h0M416.4 195.0h0M417.0 194.6h0M405.5 187.2h0M409.0 191.8h0M418.5 194.1h0M401.8 177.6h0M421.5 193.4h0M426.4 187.0h0M412.6 194.6h0M421.9 194.4h0M395.6 178.5h0M430.6 181.6h0M407.0 192.8h0M421.2 193.7h0M405.1 191.3h0M409.0 191.7h0M401.2 193.4h0M399.4 180.4h0M408.6 191.8h0M423.4 188.5h0M395.1 181.2h0M413.9 195.1h0M425.8 186.0h0M421.5 194.5h0M406.5 190.1h0M402.4 183.8h0M408.4 190.6h0M415.2 194.8h0M426.8 191.9h0M407.5 194.2h0M420.9 192.5h0M412.8 195.0h0M433.9 177.8h0M412.2 194.7h0M412.0 194.0h0M395.3 184.8h0M394.7 175.1h0M408.5 194.3h0M395.5 172.3h0M431.5 178.1h0M421.1 191.8h0M412.1 194.7h0M397.3 160.5h0M420.7 193.3h0M398.5 180.7h0M408.0 192.9h0M418.4 194.6h0M413.1 194.6h0M402.1 192.0h0M426.3 184.0h0M430.2 181.0h0M405.9 192.2h0M420.2 193.0h0M406.1 189.6h0M421.3 191.4h0M414.3 195.0h0M421.9 192.8h0M431.6 179.5h0M395.1 183.8h0M423.2 192.0h0M399.6 187.7h0M432.9 183.3h0M428.1 178.3h0M408.3 194.7h0M412.4 194.2h0M433.9 189.9h0M399.6 182.5h0M421.7 191.9h0M419.6 192.9h0M409.4 194.6h0M404.4 184.6h0M430.9 182.5h0M412.6 194.7h0M418.7 194.2h0M427.1 184.5h0M414.9 195.0h0M420.3 193.1h0M426.7 192.6h0M419.8 192.7h0M402.4 184.2h0M400.4 192.0h0M415.7 194.8h0M402.0 186.3h0M400.7 186.6h0M412.4 194.5h0M397.1 173.3h0M397.2 171.3h0M400.7 181.4h0M432.0 191.1h0M410.6 193.2h0M430.0 193.3h0M406.1 189.2h0M397.9 182.5h0M405.7 187.9h0M398.6 191.6h0M427.8 186.0h0M406.8 186.8h0M402.3 185.1h0M395.4 175.6h0M431.6 188.8h0M421.2 191.4h0M420.4 194.6h0M401.6 180.7h0M414.4 194.6h0M397.3 186.5h0M417.5 194.6h0M434.5 181.1h0M434.4 180.5h0M434.8 192.0h0M399.9 193.3h0M411.3 194.0h0M434.7 170.8h0M414.1 194.8h0M399.8 182.3h0M396.8 180.0h0M433.4 174.6h0M415.1 194.8h0M403.8 179.5h0M423.9 186.3h0M421.1 192.2h0M435.2 174.8h0M411.3 193.6h0M398.3 176.5h0M423.7 192.6h0M398.9 171.2h0M416.9 194.7h0M403.5 183.7h0M423.4 189.5h0M410.8 192.8h0M408.5 189.8h0M409.4 193.9h0M407.0 191.9h0M432.3 184.0h0M426.9 189.6h0M424.8 191.7h0M401.5 184.1h0M417.9 194.7h0M398.6 177.3h0M427.6 185.0h0M408.8 192.5h0M407.6 193.7h0M433.9 188.1h0M430.5 183.6h0M430.6 183.8h0M401.0 177.4h0M403.6 191.6h0M404.7 188.1h0M421.4 191.9h0M400.8 192.1h0M404.6 188.4h0M411.4 194.7h0M398.2 178.1h0M419.1 194.7h0M407.2 187.6h0M402.0 189.2h0M414.2 195.1h0M395.8 181.1h0M423.7 192.9h0M430.3 178.3h0M406.8 194.1h0M399.0 170.4h0M433.9 162.5h0M409.9 192.8h0M432.9 172.9h0M414.8 194.9h0M414.9 194.9h0M410.6 194.8h0M422.1 190.4h0M399.0 178.7h0M397.2 188.1h0M418.0 194.1h0M420.4 193.3h0M406.8 192.0h0M414.0 194.7h0M433.3 177.8h0M404.2 185.5h0M404.4 184.4h0M412.4 194.5h0M427.4 185.3h0M424.9 189.2h0M425.3 184.1h0M426.4 184.4h0M416.4 195.0h0M395.0 191.0h0M433.9 185.0h0M396.1 171.2h0M398.6 181.0h0M407.2 190.6h0M413.1 194.6h0M427.1 186.0h0M422.1 191.3h0M414.2 194.7h0M403.7 188.8h0M415.2 194.9h0M397.7 190.2h0M405.6 189.0h0M430.5 185.7h0M402.5 193.9h0M414.6 194.7h0M400.2 189.4h0M424.7 188.3h0M408.8 194.5h0M424.0 192.6h0M403.5 193.7h0M425.5 191.1h0M401.4 187.5h0M416.6 194.8h0M400.0 192.0h0M412.9 194.5h0M409.9 193.2h0M415.6 195.0h0M421.1 191.4h0M409.4 192.9h0M397.3 190.0h0M414.6 194.8h0M407.6 189.7h0M397.9 178.6h0M432.8 179.8h0M433.9 151.9h0M432.1 176.1h0M395.2 182.6h0M400.0 189.7h0M402.2 187.6h0M426.8 178.1h0M409.1 191.6h0M409.8 192.1h0M434.2 192.9h0M429.7 180.0h0M396.8 168.4h0M430.8 192.3h0M404.1 187.1h0M412.4 194.3h0M395.7 176.0h0M425.4 187.0h0M413.8 194.9h0M420.0 193.3h0M434.6 159.7h0M398.8 174.6h0M413.0 194.6h0M434.2 178.1h0M414.2 194.7h0M425.2 192.8h0M425.2 194.0h0M418.3 194.4h0M434.2 179.0h0M395.1 184.0h0M396.4 158.9h0M424.7 186.4h0M429.7 180.4h0M429.7 185.9h0M407.5 191.5h0M395.6 174.3h0M398.3 182.5h0M406.9 191.4h0M396.5 172.0h0M395.8 178.0h0M411.6 195.0h0M427.6 189.1h0M406.6 190.7h0M410.0 194.6h0M410.7 194.5h0M411.5 194.4h0M428.9 187.4h0M406.5 194.2h0M435.1 160.4h0M404.6 187.3h0M435.0 149.5h0M397.5 155.4h0M405.3 187.6h0M415.2 194.6h0M431.0 186.9h0M398.2 187.8h0M406.6 190.4h0M433.7 173.5h0M430.9 179.0h0M396.8 163.8h0M420.4 193.8h0M410.6 193.1h0M412.6 194.7h0M414.5 195.0h0M404.0 180.8h0M424.3 188.1h0M405.8 191.5h0M410.0 194.1h0M397.4 165.9h0M410.0 194.0h0M416.4 194.9h0M429.5 189.2h0M430.2 181.0h0M425.1 191.7h0M416.8 194.7h0M421.1 192.2h0M397.4 176.2h0M416.1 195.0h0M432.5 180.5h0M414.6 195.0h0M404.7 190.9h0M416.1 195.1h0M403.0 184.1h0M432.7 177.2h0M431.0 182.1h0M405.8 189.6h0M433.6 174.2h0M411.3 194.9h0M425.5 193.4h0M426.5 186.8h0M411.4 194.5h0M419.6 192.8h0M397.1 191.3h0M399.0 181.9h0M432.7 182.6h0M431.6 172.6h0M429.1 187.2h0M431.6 160.3h0M403.4 188.3h0M396.0 164.0h0M433.3 176.8h0M423.3 188.6h0M404.7 184.9h0M432.4 176.8h0M401.3 177.2h0M409.3 192.5h0M399.4 189.6h0M405.8 190.1h0M432.2 174.9h0M414.4 195.1h0M427.1 184.0h0M429.2 180.0h0M423.7 194.1h0M410.8 194.3h0M416.1 195.2h0M405.8 190.9h0M397.5 177.8h0M426.4 194.1h0M422.3 191.9h0M398.0 187.1h0M432.3 180.6h0M421.6 193.1h0M427.3 190.9h0M403.0 187.5h0M429.6 174.2h0M420.2 191.8h0M420.2 192.1h0M431.7 176.8h0M421.1 193.4h0M408.7 194.5h0M426.0 187.3h0M418.5 194.0h0M401.0 182.1h0M413.0 195.0h0M420.7 192.6h0M411.5 193.5h0M428.4 184.3h0M431.3 193.3h0M397.2 189.3h0M399.3 182.0h0M415.1 195.0h0M434.0 171.1h0M427.4 179.0h0M399.1 179.7h0M423.1 188.3h0M397.8 161.4h0M396.4 166.4h0M432.7 185.8h0M412.1 194.0h0M420.8 191.5h0M402.0 186.0h0M397.9 175.0h0M423.6 188.5h0M423.7 193.0h0M416.9 194.7h0M419.0 193.1h0M395.8 167.6h0M397.9 178.5h0M416.6 195.1h0M417.0 194.9h0M408.5 192.3h0M433.1 179.3h0M400.8 192.4h0M411.3 193.7h0M419.5 193.3h0M410.4 193.4h0M400.1 178.7h0M410.2 192.8h0M415.8 195.1h0M430.6 178.0h0M423.6 192.6h0M412.2 194.2h0M410.3 193.7h0M429.2 185.9h0M420.0 193.0h0M409.7 193.3h0M420.2 192.6h0M414.3 195.0h0M396.9 185.4h0M426.8 183.7h0M411.5 194.0h0M395.7 186.5h0M433.7 159.4h0M430.7 174.1h0M403.6 188.0h0M396.5 190.9h0M414.3 195.2h0M400.4 189.6h0M417.1 194.6h0M413.4 194.7h0M410.5 193.6h0M420.1 194.6h0M431.4 178.6h0M410.8 193.7h0M434.5 161.0h0M408.3 191.7h0M411.0 194.8h0M420.2 192.7h0M416.4 194.6h0M433.7 171.4h0M395.7 166.3h0M421.7 191.9h0M404.1 190.0h0M396.0 160.3h0M398.7 193.1h0M416.5 195.0h0M405.7 189.8h0M422.3 194.4h0M434.3 182.7h0M397.6 186.5h0M422.1 190.4h0M398.7 185.0h0M399.1 181.6h0M435.3 166.4h0M397.9 175.0h0M411.5 194.5h0M424.4 191.3h0M419.5 194.1h0M404.9 192.2h0M417.2 194.7h0M422.5 191.6h0M415.4 194.9h0M430.9 185.7h0M399.5 176.9h0M409.0 193.7h0M408.8 192.4h0M427.8 193.9h0M412.4 194.7h0M419.0 194.3h0M400.3 191.6h0M400.2 168.8h0M413.1 195.0h0M409.5 192.3h0M431.1 172.0h0M409.6 192.4h0M406.5 187.6h0M432.5 174.6h0M426.0 185.4h0M403.4 192.9h0M414.2 194.8h0M419.2 193.4h0M398.0 171.4h0M424.1 189.7h0M412.0 194.3h0M434.6 171.1h0M433.7 159.4h0M428.2 185.3h0M402.8 183.1h0M399.9 178.3h0M409.8 192.7h0M397.8 166.3h0M402.5 184.7h0M422.3 190.4h0M427.4 186.0h0M415.7 195.0h0M433.2 170.8h0M400.2 181.7h0M405.8 188.2h0M406.1 188.0h0M400.3 182.4h0M421.4 190.8h0M429.6 183.5h0M418.8 193.3h0M419.3 194.6h0M424.7 189.9h0M405.4 194.1h0M433.0 177.7h0M412.7 194.5h0M422.1 193.9h0M396.0 189.2h0M433.8 186.2h0M434.2 178.7h0M413.5 194.9h0M411.7 194.0h0M417.0 194.8h0M424.5 186.1h0M401.2 189.7h0M401.1 181.9h0M414.1 195.1h0M416.7 194.8h0M428.6 188.7h0M406.3 194.4h0M407.0 190.8h0M409.9 194.2h0M430.7 190.8h0M429.7 179.9h0M435.1 177.1h0M433.6 176.2h0M421.6 192.9h0M426.6 181.6h0M433.2 185.8h0M415.6 194.8h0M417.0 195.0h0M411.6 193.6h0M396.4 175.3h0M408.6 190.5h0M422.4 193.7h0M431.1 189.6h0M410.2 194.8h0M398.5 176.4h0M432.8 184.2h0M429.5 179.6h0M418.9 194.5h0M420.1 193.7h0M412.7 194.8h0M431.8 175.3h0M412.7 194.6h0M419.9 194.8h0M418.6 194.8h0M406.3 192.8h0M426.7 190.2h0M423.0 189.4h0M434.2 170.7h0M420.2 191.9h0M425.4 186.1h0M412.0 194.0h0M396.1 176.6h0M396.0 175.5h0M410.4 193.4h0M408.8 193.3h0M395.2 189.8h0M407.0 190.0h0M411.8 194.2h0M414.0 194.7h0M431.0 179.8h0M422.0 190.3h0M410.6 194.3h0M398.6 180.6h0M419.7 193.0h0M405.0 191.7h0M425.3 188.8h0M425.2 192.5h0M397.5 184.8h0M432.8 182.5h0M417.4 194.7h0M396.5 152.4h0M428.6 190.4h0M421.0 191.8h0M417.8 194.4h0M412.0 194.5h0M432.3 186.3h0M396.1 175.6h0M421.2 192.4h0M434.0 184.4h0M403.5 186.3h0M432.5 188.1h0M421.0 190.8h0M429.4 180.4h0M426.9 193.5h0M417.7 194.7h0M407.6 191.0h0M428.1 182.1h0M418.1 194.1h0M403.6 184.1h0M416.1 194.9h0M418.6 194.1h0M405.3 187.7h0M432.3 179.1h0M410.8 194.1h0M426.7 193.7h0M395.4 176.2h0M415.5 195.1h0M404.0 190.4h0M417.0 194.9h0M413.9 194.9h0M405.9 188.3h0M403.5 184.6h0M423.3 190.9h0M425.9 189.6h0M416.1 194.7h0M406.5 187.2h0M409.5 194.6h0M428.6 192.2h0M422.2 194.3h0M410.5 193.9h0M434.0 184.0h0M402.0 182.8h0M415.8 195.0h0M418.5 194.1h0M420.3 191.8h0M426.7 184.7h0M435.0 180.8h0M412.4 194.6h0M424.1 191.6h0M395.2 167.7h0M406.0 190.7h0M416.3 194.6h0M423.5 188.9h0M430.8 164.2h0M419.0 194.8h0M428.4 187.9h0M429.2 189.9h0M397.2 184.8h0M411.0 194.7h0M420.7 192.6h0M415.1 194.8h0M422.6 190.3h0M397.9 179.8h0M409.1 192.3h0M420.2 192.0h0M400.8 180.6h0M411.6 194.7h0M405.0 188.3h0M400.0 187.1h0M421.9 191.1h0M417.0 194.8h0M432.7 189.2h0M434.9 177.5h0M413.9 195.0h0M412.2 194.8h0M416.7 194.9h0M414.3 194.8h0M416.0 195.1h0M405.5 190.5h0M433.2 187.4h0M399.2 176.5h0M408.5 193.5h0M419.2 193.3h0M419.2 194.6h0M401.4 181.7h0M401.3 180.7h0M412.6 194.8h0M405.5 186.4h0M415.6 194.9h0M426.9 188.0h0M430.1 187.1h0M411.2 194.1h0M410.4 193.1h0M418.0 194.6h0M426.5 181.6h0M431.4 191.6h0M405.0 186.4h0M430.4 177.5h0M405.5 190.1h0M429.4 187.9h0M415.4 195.1h0M415.7 195.1h0M396.3 170.7h0M423.3 189.5h0M400.3 182.9h0M431.9 179.8h0M399.2 188.0h0M432.4 176.9h0M401.1 189.5h0M432.0 181.2h0M413.7 194.9h0M403.1 189.2h0M421.4 193.2h0M409.3 194.2h0M420.4 194.8h0M429.0 179.6h0M424.6 193.5h0M402.9 192.4h0M405.6 191.8h0M397.4 178.6h0M413.8 194.8h0M402.1 186.6h0M396.1 180.2h0M398.0 177.3h0M419.8 193.1h0M399.9 192.0h0M414.6 194.8h0M431.6 186.9h0M396.7 175.8h0M398.6 180.8h0M401.8 190.8h0M420.1 193.2h0M422.0 194.2h0M414.4 195.0h0M399.2 176.8h0M401.1 184.1h0M394.8 153.8h0M396.2 191.8h0M427.5 187.4h0M411.2 194.6h0M424.4 189.0h0M425.6 192.0h0M418.0 194.0h0M426.1 189.8h0M432.7 162.3h0M401.6 189.5h0M415.4 195.0h0M401.9 182.4h0M406.3 189.1h0M420.0 193.0h0M407.7 194.5h0M416.5 194.6h0M424.2 187.9h0M398.3 167.9h0M401.9 184.7h0M411.1 193.2h0M423.1 192.1h0M409.1 193.0h0M427.8 189.4h0M401.1 177.6h0M398.9 189.3h0M405.7 191.9h0M423.2 187.8h0M402.8 194.1h0M422.2 189.5h0M432.0 181.1h0M416.1 194.7h0M421.2 191.8h0M399.5 182.0h0M426.2 185.1h0M416.4 194.7h0M434.4 177.5h0M400.3 190.8h0M414.4 194.8h0M412.8 195.0h0M409.8 194.1h0M427.7 192.2h0M427.6 191.6h0M413.4 194.9h0M406.7 188.7h0M407.3 190.6h0M415.4 195.0h0M400.4 186.6h0M396.6 192.6h0M407.4 189.4h0M396.2 178.7h0M397.8 184.6h0M427.2 184.9h0M414.8 195.0h0M406.9 191.7h0M432.4 171.5h0M413.0 194.6h0M412.3 194.4h0M430.1 176.7h0M432.6 173.0h0M394.9 177.6h0M415.4 195.1h0M422.0 192.8h0M431.8 171.1h0M409.7 193.1h0M421.7 194.7h0M407.7 191.9h0M419.8 194.0h0M420.3 192.5h0M397.3 178.4h0M420.2 193.0h0M408.0 192.9h0M429.6 181.7h0M428.4 182.3h0M398.2 190.7h0M415.2 195.0h0M419.2 193.8h0M397.1 173.3h0M402.3 192.0h0M400.3 189.2h0M420.7 191.8h0M413.4 194.9h0M409.0 192.8h0M396.0 188.4h0M409.1 192.5h0M404.5 188.8h0M410.3 192.3h0M422.6 190.6h0M410.2 193.4h0M400.2 184.1h0M432.9 192.1h0M407.6 191.2h0M409.8 191.7h0M429.2 193.5h0M423.3 193.5h0M405.6 186.6h0M431.5 189.6h0M399.3 192.9h0M425.1 194.3h0M432.3 180.4h0M434.9 169.3h0M412.1 194.0h0M399.1 179.3h0M400.0 179.6h0M412.2 194.5h0M422.7 191.6h0M420.6 191.9h0M402.0 176.2h0M396.0 183.1h0M394.9 181.4h0M434.0 156.1h0M416.7 194.8h0M434.1 167.9h0M414.9 194.6h0M408.6 190.0h0M419.8 193.5h0M403.5 183.1h0M419.3 193.7h0M412.6 194.7h0M406.2 189.5h0M405.3 187.2h0M410.9 193.6h0M395.6 189.9h0M397.7 191.3h0M423.8 190.2h0M419.7 193.9h0M412.0 195.0h0M411.4 194.2h0M402.7 189.2h0M435.2 176.7h0M414.2 194.7h0M404.7 185.4h0M396.1 176.7h0M418.1 194.7h0M417.8 194.1h0M400.4 191.4h0M415.6 194.7h0M413.7 195.0h0M425.2 186.2h0M407.5 191.2h0M411.4 194.8h0M415.5 194.8h0M412.5 194.9h0M414.5 194.9h0M400.0 185.7h0M433.4 172.7h0M408.8 192.2h0M395.1 189.2h0M411.1 194.5h0M427.3 182.9h0M398.8 187.8h0M399.6 177.1h0M404.3 186.8h0M409.4 194.7h0M410.7 193.7h0M394.8 175.5h0M421.2 191.6h0M428.7 186.3h0M427.2 185.5h0M406.1 185.2h0M428.7 181.5h0M408.9 194.9h0M432.8 191.1h0M408.8 194.1h0M409.3 191.4h0M412.1 194.1h0M414.8 195.2h0M426.2 191.2h0M412.4 195.1h0M416.6 194.8h0M406.7 194.5h0M418.3 194.1h0M422.5 190.9h0M429.1 179.7h0M402.7 184.2h0M402.5 180.8h0M405.8 192.4h0M418.4 195.1h0M411.7 193.8h0M402.5 181.2h0M432.0 159.4h0M424.3 192.5h0M434.4 190.1h0M416.0 195.0h0M421.6 192.8h0M429.5 182.0h0M412.7 194.5h0M410.0 193.6h0M402.1 190.3h0M400.5 189.0h0M402.2 184.6h0M418.5 194.1h0M419.7 193.3h0M401.6 179.8h0M397.4 177.9h0M410.8 192.9h0M428.0 188.1h0M403.9 189.0h0M421.0 190.6h0M425.0 185.0h0M421.4 190.1h0M404.6 184.1h0M405.7 190.2h0M404.8 184.9h0M396.8 170.8h0M431.4 182.0h0M424.4 189.5h0M419.8 192.6h0M429.6 187.1h0M395.4 185.5h0M422.4 192.5h0M399.2 185.3h0M417.2 194.4h0M402.8 181.6h0M428.0 192.6h0M399.5 175.8h0M407.4 194.0h0M420.6 194.1h0M418.8 193.4h0M431.6 185.7h0M428.9 175.5h0M417.3 194.7h0M400.9 179.7h0M434.5 187.3h0M408.9 191.5h0M401.2 185.5h0M396.9 172.6h0M434.3 180.8h0M397.3 180.3h0M429.9 187.3h0M424.3 190.4h0M425.0 191.6h0M426.4 192.1h0M429.8 183.6h0M414.6 195.0h0M402.1 191.9h0M433.3 167.9h0M394.8 167.0h0M396.7 157.5h0M435.0 190.4h0M431.7 176.3h0M399.2 183.6h0M431.1 190.5h0M405.0 183.8h0M399.9 178.0h0M432.3 189.7h0M405.2 190.3h0M428.8 190.2h0M431.9 192.2h0M419.5 193.5h0M417.6 194.5h0M431.4 168.1h0M397.7 175.3h0M435.1 186.3h0M418.5 194.4h0M426.4 190.1h0M428.6 184.2h0M428.8 192.0h0M419.9 194.2h0M426.8 182.7h0M408.0 191.3h0M420.1 192.4h0M399.7 191.4h0M421.5 194.2h0M401.9 177.3h0M416.3 194.7h0M410.1 192.2h0M420.4 194.8h0M398.7 180.3h0M434.3 191.9h0M431.0 179.9h0M431.1 179.4h0M395.0 167.4h0M423.7 189.3h0M432.7 186.9h0M433.8 192.1h0M426.1 189.0h0M425.5 186.4h0M397.2 162.7h0M411.0 193.7h0M431.9 180.0h0M431.1 178.2h0M416.4 194.8h0M408.9 191.6h0M411.7 194.2h0M423.3 190.1h0M417.1 194.7h0M429.0 185.8h0M418.6 193.5h0M401.1 176.0h0M424.2 188.8h0M397.1 186.0h0M405.4 187.5h0M399.8 180.1h0M405.9 189.6h0M429.6 178.3h0M434.9 188.5h0M425.7 191.7h0M417.2 194.7h0M415.5 195.1h0M414.0 194.6h0M407.0 194.5h0M427.0 193.9h0M403.4 188.2h0M407.9 194.7h0M400.2 189.3h0M435.1 180.3h0M431.3 180.1h0M430.1 181.3h0M396.4 189.0h0M415.3 194.8h0M418.5 194.3h0M430.1 180.1h0M394.9 168.4h0M430.8 181.1h0M420.5 192.7h0M420.3 194.1h0M429.9 184.8h0M416.6 194.8h0M422.5 190.6h0M417.6 194.4h0M396.4 170.7h0M434.5 167.6h0M405.3 192.1h0M428.0 174.8h0M433.3 170.5h0M416.0 194.8h0M416.8 194.6h0M420.6 192.8h0M397.9 180.7h0M402.4 186.5h0M427.6 193.1h0M402.8 186.9h0M408.8 193.4h0M420.3 193.1h0M397.2 175.8h0M419.5 192.7h0M410.9 194.4h0M418.5 194.6h0M404.0 188.4h0M407.9 193.2h0M417.8 194.7h0M433.2 171.1h0M427.6 179.0h0M407.2 194.2h0M427.7 183.6h0M432.0 188.8h0M422.4 192.1h0M399.8 176.3h0M412.2 194.5h0M402.1 185.9h0M420.1 194.2h0M428.1 191.6h0M412.4 194.7h0M420.4 192.9h0M409.7 194.5h0M416.0 194.9h0M435.1 175.6h0M406.0 188.5h0M402.3 184.5h0M406.9 194.1h0M397.1 172.2h0M429.0 180.1h0M428.8 184.7h0M398.4 187.7h0M435.3 177.0h0M409.6 191.9h0M412.1 194.3h0M400.9 192.3h0M410.7 193.4h0M410.6 193.5h0M424.6 186.6h0M415.8 195.0h0M412.4 194.6h0M407.9 194.0h0M411.0 193.6h0M395.2 172.3h0M419.7 192.5h0M410.4 194.8h0M426.0 189.5h0M427.5 192.0h0M424.8 194.0h0M414.1 194.7h0M420.8 191.6h0M424.6 190.7h0M399.3 172.7h0M407.3 190.1h0M423.1 188.7h0M419.3 192.7h0M402.1 186.2h0M431.8 175.8h0M399.9 179.7h0M434.1 173.9h0M409.1 192.5h0M396.5 170.0h0M397.2 172.2h0M401.3 187.2h0M404.7 193.3h0M427.0 193.7h0M417.5 194.2h0M406.1 191.5h0M411.9 193.8h0M421.6 193.1h0M418.5 194.0h0M402.9 189.8h0M412.6 194.6h0M421.9 191.0h0M400.1 187.4h0M419.7 192.7h0M431.0 176.9h0M428.8 184.7h0M433.4 187.8h0M397.7 183.7h0M429.8 172.8h0M415.7 194.8h0M435.2 168.3h0M423.1 189.8h0M399.2 186.5h0M397.1 189.6h0M396.2 175.6h0M421.6 193.6h0M417.2 194.7h0M408.9 190.3h0M423.5 189.4h0M425.3 190.8h0M411.0 193.7h0M422.1 193.5h0M431.6 191.8h0M398.6 179.7h0M406.9 189.4h0M395.0 169.9h0M433.8 174.8h0M399.5 181.0h0M419.3 194.8h0M412.8 194.7h0M411.0 194.7h0M419.5 192.6h0M424.9 191.1h0M416.3 194.6h0M417.9 194.8h0M422.6 191.2h0M429.1 179.1h0M411.9 194.3h0M414.5 194.6h0M410.9 193.6h0M405.4 189.7h0M424.8 188.4h0M415.7 194.9h0M401.9 185.1h0M395.2 188.3h0M411.6 194.1h0M414.7 194.8h0M409.0 191.2h0M421.6 191.4h0M422.5 192.9h0M417.3 194.4h0M404.3 184.7h0M416.9 194.7h0M413.4 194.6h0M430.7 180.3h0M426.5 187.6h0M414.1 194.6h0M427.0 187.5h0M414.7 194.6h0M426.1 194.0h0M403.7 181.7h0M407.6 191.4h0M409.1 191.5h0M430.4 180.8h0M413.5 194.7h0M397.5 175.8h0M434.8 168.6h0M417.1 194.5h0M429.1 174.5h0M426.4 188.2h0M402.4 191.4h0M416.9 194.8h0M433.7 166.0h0M402.2 189.5h0M404.7 193.3h0M399.4 171.4h0M423.2 190.4h0M428.7 183.8h0M432.6 174.4h0M426.9 186.1h0M414.2 195.0h0M418.5 193.6h0M428.4 193.6h0M424.1 190.7h0M401.3 189.1h0M430.0 193.5h0M433.9 171.5h0M428.4 192.0h0M435.1 188.1h0M430.0 174.0h0M427.7 191.2h0M416.2 195.0h0M425.8 184.6h0M397.8 190.1h0M398.5 186.7h0M425.7 190.9h0M403.8 190.2h0M397.6 184.4h0M426.3 190.2h0M429.3 192.0h0M434.6 156.1h0M402.5 182.8h0M424.4 193.4h0M415.7 194.7h0M396.6 186.2h0M402.2 188.1h0M395.2 170.8h0M420.0 192.4h0M415.3 194.8h0M425.9 191.8h0M409.4 194.8h0M412.7 194.6h0M418.1 194.6h0M407.9 191.6h0M421.0 191.7h0M415.2 194.7h0M428.9 181.4h0M419.5 193.7h0M395.3 173.9h0M428.4 177.3h0M422.2 194.1h0M426.8 184.8h0M410.3 193.5h0M413.5 194.6h0M412.9 194.6h0M430.5 183.2h0M421.1 193.4h0M417.3 194.4h0M426.8 184.1h0M434.4 150.8h0M400.7 191.0h0M409.8 192.3h0M408.3 193.6h0M401.8 194.0h0M404.1 188.3h0M417.9 194.1h0M434.7 180.3h0M406.7 189.6h0M431.9 177.0h0M417.8 194.8h0M422.8 189.8h0M431.7 188.9h0M420.1 191.9h0M415.2 194.7h0M421.6 191.5h0M406.0 188.7h0M412.0 194.2h0M423.2 193.8h0M397.8 170.0h0M407.6 188.7h0M409.9 193.9h0M398.1 183.2h0M429.8 192.0h0M429.1 180.1h0M406.5 187.8h0M396.8 187.9h0M397.7 191.7h0M395.4 177.0h0M428.3 192.9h0M433.0 188.2h0M419.4 194.9h0M422.5 191.3h0M430.1 192.2h0M435.3 169.5h0M429.0 188.7h0M395.0 174.5h0M427.0 186.1h0M406.3 193.6h0M397.2 176.8h0M432.4 192.6h0M403.0 180.3h0M414.4 195.1h0M400.4 177.1h0M430.0 177.4h0M414.3 194.8h0M408.0 193.1h0M415.8 195.0h0M429.7 180.9h0M430.8 178.9h0M414.8 194.7h0M412.9 194.7h0M416.8 195.0h0M410.1 193.6h0M396.7 185.9h0M397.5 175.2h0M406.8 191.3h0M395.5 185.1h0M399.0 185.1h0M421.2 193.0h0M400.2 180.2h0M395.6 183.5h0M433.3 181.5h0M399.2 172.6h0M420.5 193.2h0M432.8 179.2h0M421.0 191.9h0M432.6 187.8h0M411.0 194.4h0M432.2 189.1h0M415.5 195.2h0M404.6 187.3h0M427.0 186.6h0M432.9 178.9h0M412.1 194.2h0M432.8 183.2h0M410.5 193.3h0M419.5 192.8h0M417.3 194.6h0M420.1 193.7h0M421.0 194.6h0M406.4 186.8h0M423.2 191.8h0M395.2 187.6h0M420.8 191.4h0M396.1 170.6h0M426.9 187.4h0M418.6 194.3h0M420.7 191.1h0M422.3 190.8h0M431.0 186.9h0M395.3 182.2h0M432.2 186.8h0M434.5 170.9h0M416.8 194.8h0M396.0 169.4h0M404.3 185.8h0M416.7 194.9h0M413.9 194.9h0M431.4 181.0h0M396.9 179.6h0M414.3 194.7h0M422.3 193.0h0M428.8 192.2h0M403.6 191.7h0M396.7 179.3h0M395.4 159.3h0M400.9 184.7h0M428.2 184.2h0M426.8 188.2h0M406.7 194.2h0M398.4 187.2h0M406.9 194.0h0M433.9 173.1h0M434.7 176.9h0M415.5 194.8h0M417.1 195.1h0M411.5 193.9h0M421.9 191.8h0M421.6 191.2h0M427.4 188.5h0M419.9 192.0h0M410.4 193.4h0M409.4 192.9h0M417.5 195.1h0M397.8 173.6h0M411.6 194.5h0M412.8 194.7h0M425.8 186.2h0M416.8 194.9h0M402.8 185.5h0M434.3 160.5h0M414.7 194.6h0M408.8 192.0h0M428.9 186.6h0M420.2 194.7h0M407.6 194.2h0M422.7 189.0h0M421.9 192.1h0M407.6 189.3h0M401.3 189.2h0M401.1 180.0h0M411.4 193.9h0M427.6 192.9h0M409.8 194.4h0M429.1 179.1h0M432.9 187.8h0M426.9 185.3h0M400.4 179.7h0M397.8 180.3h0M405.8 190.6h0M426.9 188.9h0M425.1 192.3h0M397.5 177.5h0M424.2 185.4h0M413.1 195.0h0M418.3 194.9h0M431.9 168.2h0M419.0 194.3h0M428.5 186.6h0M432.0 171.9h0M430.8 182.0h0M413.9 195.1h0M429.4 184.4h0M404.7 193.9h0M433.2 187.0h0M418.3 194.1h0M407.8 191.6h0M418.8 193.3h0M403.8 192.9h0M430.2 179.0h0M413.1 194.8h0M431.5 181.4h0M412.5 194.5h0M432.9 178.3h0M411.5 193.9h0M413.2 194.8h0M395.0 185.2h0M395.3 169.6h0M423.5 190.6h0M407.4 190.6h0M411.5 193.6h0M417.5 194.9h0M433.1 161.8h0M414.4 194.7h0M408.5 190.1h0M427.2 186.8h0M410.2 194.3h0M400.3 183.6h0M428.0 181.2h0M434.1 179.2h0M435.0 181.2h0M433.2 163.9h0M404.4 186.8h0M433.1 183.6h0M396.6 184.4h0M435.0 176.7h0M418.5 194.3h0M426.7 185.9h0M415.8 194.7h0M404.9 188.0h0M395.3 185.6h0M415.9 194.8h0M398.1 192.7h0M418.2 193.9h0M395.4 170.1h0M409.5 191.4h0M395.4 173.1h0M429.9 184.0h0M419.8 193.4h0M394.9 172.8h0M397.1 184.6h0M405.3 194.1h0M398.4 188.9h0M422.7 189.5h0M402.4 181.7h0M426.3 192.1h0M401.0 181.8h0M405.6 187.0h0M402.9 189.2h0M407.9 193.3h0M413.6 194.9h0M423.1 194.0h0M402.7 189.9h0M416.3 195.0h0M416.7 194.8h0M396.6 167.6h0M422.4 189.7h0M410.4 194.3h0M400.4 185.8h0M412.8 195.0h0M431.5 184.5h0M431.9 191.0h0M397.1 185.6h0M399.0 190.7h0M423.0 191.8h0M432.7 192.0h0M401.1 183.5h0M398.4 183.6h0M411.8 193.9h0M412.1 194.8h0M418.2 194.9h0M428.0 189.7h0M405.3 192.1h0M395.9 184.6h0M400.4 182.2h0M399.8 177.9h0M411.2 194.5h0M432.9 182.7h0M398.7 175.9h0M407.8 191.2h0M411.9 194.4h0M411.4 194.0h0M411.5 194.6h0M429.3 188.1h0M403.7 188.0h0M430.2 172.8h0M413.2 194.7h0M423.6 186.4h0M420.0 194.0h0M407.7 193.6h0M428.0 190.6h0M433.3 166.8h0M422.6 193.8h0M414.5 195.1h0M426.8 191.8h0M399.4 181.9h0M412.9 195.0h0M400.3 177.0h0M396.0 162.9h0M433.4 190.0h0M404.6 192.9h0M411.1 194.8h0M433.8 173.7h0M428.4 178.4h0M400.7 181.9h0M413.9 194.7h0M425.2 190.1h0M403.1 187.0h0M429.2 185.1h0M428.1 173.3h0M420.9 193.0h0M433.6 170.0h0M403.7 188.5h0M402.9 189.6h0M396.8 182.8h0M419.5 193.3h0M433.7 174.7h0M397.6 184.6h0M414.0 194.7h0M434.9 159.4h0M432.5 193.0h0M429.1 183.4h0M404.8 187.9h0M421.9 190.2h0M404.0 179.8h0M410.1 194.4h0M422.6 188.5h0M414.4 194.8h0M400.9 190.7h0M407.9 190.6h0M397.2 184.8h0M423.9 189.6h0M422.7 192.5h0M400.1 187.2h0M425.3 188.7h0M411.1 193.9h0M420.3 194.8h0M425.2 188.7h0M399.8 184.8h0M400.5 184.4h0M399.7 177.9h0M419.7 194.5h0M430.1 177.4h0M414.4 195.1h0M421.3 191.9h0M402.1 179.1h0M414.0 195.1h0M416.8 194.8h0M409.7 193.3h0M416.2 195.0h0M427.9 183.9h0M420.6 191.4h0M414.8 194.8h0M430.4 173.8h0M416.1 194.9h0M434.5 191.2h0M404.8 186.1h0M423.4 193.3h0M414.0 194.6h0M396.3 168.0h0M424.8 193.0h0M408.2 194.4h0M421.9 194.3h0M403.9 187.9h0M395.9 189.4h0M409.9 194.0h0M417.1 195.0h0M394.8 187.2h0M399.5 178.6h0M399.2 191.2h0M400.3 191.2h0M398.6 191.7h0M419.9 192.6h0M415.5 194.6h0M404.5 186.8h0M404.9 190.0h0M422.5 191.7h0M427.4 192.4h0M417.2 194.4h0M403.8 194.2h0M406.8 189.5h0M435.2 188.9h0M434.7 187.2h0M403.9 188.3h0M422.5 193.6h0M428.0 184.2h0M411.4 194.7h0M424.6 187.1h0M417.3 194.6h0M418.5 194.6h0M397.0 173.8h0M395.4 183.9h0M409.7 192.0h0M427.8 182.9h0M421.3 191.9h0M432.3 190.6h0M422.5 190.1h0M403.3 183.5h0M421.4 191.0h0M401.7 186.6h0M432.9 185.7h0M418.4 194.5h0M428.9 188.4h0M410.1 193.1h0M426.2 182.5h0M424.5 190.8h0M397.0 175.1h0M419.1 193.9h0M405.9 192.4h0M411.1 194.2h0M435.2 172.7h0M409.9 193.0h0M432.8 178.9h0M418.7 193.4h0M394.8 171.9h0M419.2 194.7h0M429.8 187.8h0M409.1 192.2h0M420.0 194.1h0M419.3 193.6h0M433.4 179.0h0M395.4 177.9h0M430.1 185.4h0M408.5 191.8h0M413.7 194.7h0M411.6 194.8h0M422.7 191.0h0M401.6 181.1h0M415.3 195.2h0M396.0 191.1h0M416.5 194.9h0M396.9 183.2h0M433.6 188.2h0M409.6 192.3h0M433.8 178.0h0M415.0 194.6h0M417.8 194.1h0M407.0 190.8h0M411.1 193.6h0M398.5 189.3h0M417.1 194.7h0M399.1 187.4h0M426.1 188.8h0M395.4 187.4h0M435.0 173.6h0M433.4 191.6h0M434.2 191.3h0M429.9 179.3h0M407.5 191.3h0M426.9 189.3h0M418.5 193.7h0M432.7 172.4h0M396.2 179.8h0M435.1 163.0h0M400.9 182.3h0M401.1 183.5h0M402.6 184.0h0M409.1 194.5h0M412.3 194.4h0M402.1 186.3h0M414.3 194.8h0M416.6 195.0h0M425.0 189.3h0M410.7 193.4h0M411.9 193.9h0M412.3 194.4h0M411.2 194.1h0M418.8 193.5h0M429.8 182.2h0M430.7 185.9h0M423.0 189.8h0M407.5 192.0h0M435.1 159.1h0M434.5 191.8h0M415.6 194.6h0M430.7 183.4h0M395.4 166.4h0M427.0 179.5h0M426.0 186.4h0M422.3 191.3h0M432.2 164.1h0M395.8 155.0h0M402.1 184.5h0M419.2 193.8h0M398.6 192.9h0M406.9 192.1h0M429.8 183.2h0M433.2 172.7h0M420.3 192.5h0M420.0 193.1h0M401.2 189.3h0M433.1 192.7h0M429.0 184.8h0M409.2 194.6h0M399.2 186.8h0M426.3 189.7h0M427.4 182.7h0M405.3 191.9h0M432.7 186.4h0M416.5 194.7h0M410.6 193.1h0M430.4 181.9h0M433.6 180.4h0M433.7 184.4h0M406.1 190.0h0M425.0 191.3h0M422.2 191.2h0M430.7 186.1h0M409.9 192.2h0M398.8 192.0h0M419.8 194.7h0M413.6 195.0h0M409.0 192.3h0M398.7 186.1h0M417.6 194.2h0M409.0 192.4h0M396.3 169.8h0M432.3 164.4h0M429.0 179.5h0M406.9 194.4h0M403.7 188.6h0M418.6 194.6h0M425.4 193.5h0M422.2 191.8h0M431.2 171.6h0M424.1 192.6h0M422.5 193.3h0M395.5 184.7h0M424.6 190.6h0M414.8 194.6h0M397.2 168.8h0M421.0 193.3h0M403.8 193.0h0M434.3 176.4h0M431.9 190.0h0M428.5 180.3h0M408.4 191.9h0M408.6 190.4h0M429.3 181.4h0M396.6 184.5h0M420.3 192.2h0M407.6 192.0h0M396.1 188.8h0M434.2 187.0h0M409.3 192.3h0M394.7 166.5h0M428.4 182.1h0M423.9 189.8h0M429.6 188.4h0M398.6 184.3h0M425.1 189.1h0M402.0 192.6h0M405.0 185.2h0M405.6 191.1h0M409.9 193.8h0M405.9 193.9h0M415.9 195.0h0M420.2 192.7h0M417.2 194.6h0M426.8 177.9h0M400.0 177.7h0M430.4 176.4h0M420.6 194.5h0M420.5 191.9h0M396.2 172.0h0M416.4 195.0h0M431.8 168.7h0M407.0 189.8h0M417.0 194.6h0M423.7 189.7h0M405.5 189.8h0M427.6 194.1h0M430.2 186.3h0M411.1 194.7h0M427.7 186.5h0M394.8 170.4h0M405.9 187.5h0M425.0 186.1h0M413.8 195.0h0M402.2 176.4h0M420.3 192.0h0M423.3 190.5h0M395.6 181.8h0M419.5 193.5h0M407.6 193.8h0M428.9 176.7h0M427.4 184.2h0M432.1 176.2h0M416.7 194.9h0M400.8 186.6h0M402.7 176.8h0M420.3 194.3h0M424.2 194.3h0M422.2 191.0h0M421.6 192.4h0M434.2 188.0h0M429.7 171.4h0M402.9 182.3h0M412.7 194.5h0M426.7 182.8h0M409.8 192.7h0M424.9 194.1h0M429.1 192.8h0M407.1 188.7h0M417.0 194.8h0M412.8 195.0h0M399.6 187.3h0M430.3 189.2h0M430.8 183.5h0M404.5 188.1h0M433.9 182.6h0M412.8 194.6h0M409.7 194.7h0M396.2 190.4h0M431.2 190.7h0M417.8 194.7h0M432.2 192.7h0M397.0 191.9h0M409.6 194.1h0M425.8 186.4h0M428.6 171.7h0M418.3 194.2h0M413.5 194.7h0M415.8 195.1h0M403.2 183.9h0M395.4 181.8h0M415.1 195.0h0M400.6 174.8h0M413.8 195.0h0M423.0 192.3h0M417.3 194.6h0M403.8 181.7h0M429.1 183.7h0M411.4 193.9h0M419.6 193.1h0M433.8 172.7h0M409.2 191.6h0M432.9 157.0h0M408.6 192.5h0M400.2 181.2h0M410.6 194.5h0M408.6 190.7h0M426.0 189.2h0M417.1 194.5h0M412.7 194.6h0M414.1 195.0h0M429.4 180.2h0M397.6 193.1h0M407.4 191.4h0M420.5 191.5h0M408.0 194.1h0M424.3 187.1h0M397.6 177.8h0M398.9 187.9h0M404.8 194.1h0M403.2 188.4h0M426.2 180.5h0M411.6 193.7h0M403.3 189.6h0M423.8 189.3h0M420.6 193.3h0M420.4 194.7h0M397.6 174.2h0M431.1 175.5h0M394.9 170.1h0M410.7 194.2h0M417.6 194.6h0M422.6 193.3h0M406.8 190.9h0M399.2 180.8h0M428.4 181.2h0M403.3 191.6h0M399.6 179.6h0M430.2 189.2h0M433.2 187.2h0M429.2 181.5h0M397.4 167.9h0M398.5 181.9h0M416.2 195.0h0M403.3 194.2h0M416.7 194.7h0M430.8 183.4h0M411.0 193.3h0M404.5 188.0h0M408.3 193.2h0M403.1 190.9h0M398.3 183.1h0M428.9 185.2h0M411.9 194.7h0M429.1 185.4h0M431.5 171.7h0M433.5 189.1h0M434.3 165.5h0M430.8 188.7h0M405.5 188.0h0M423.6 193.0h0M423.3 191.4h0M409.9 194.4h0M425.4 190.8h0M418.3 195.0h0M399.4 174.1h0M410.8 193.4h0M395.3 171.7h0M416.3 195.1h0M415.1 195.2h0M431.4 174.5h0M403.5 182.0h0M410.6 193.6h0M399.7 187.8h0M398.0 178.1h0M427.7 186.9h0M414.6 194.7h0M419.9 193.8h0M433.0 177.9h0M421.3 194.0h0M410.7 194.3h0M409.6 194.1h0M431.7 176.3h0M401.3 176.1h0M423.6 190.1h0M417.5 194.9h0M405.2 188.9h0M406.0 188.0h0M426.7 192.2h0M431.0 177.5h0M408.1 191.6h0M405.6 189.3h0M415.1 195.1h0M427.5 186.0h0M395.8 172.0h0M404.8 190.5h0M417.7 194.5h0M430.3 192.0h0M418.3 194.3h0M405.6 189.9h0M422.7 191.6h0M429.4 186.7h0M405.0 191.3h0M417.5 194.6h0M399.1 180.6h0M394.9 156.2h0M427.5 188.0h0M405.8 189.9h0M427.7 183.0h0M431.8 185.0h0M414.9 194.9h0M422.4 193.5h0M418.6 193.8h0M407.3 194.3h0M415.0 195.2h0M422.3 189.1h0M417.2 194.5h0M429.6 184.2h0M412.2 194.8h0M420.0 192.6h0M429.2 188.6h0M421.2 193.4h0M414.3 194.9h0M399.9 192.2h0M422.9 188.6h0M409.6 193.6h0M419.0 193.6h0M411.3 194.3h0M412.8 194.6h0M431.5 160.2h0M424.2 190.6h0M421.8 193.7h0M417.5 194.3h0M430.5 191.1h0M415.8 194.8h0M399.7 191.7h0M424.5 186.1h0M407.1 189.2h0M425.8 189.1h0M400.3 181.9h0M415.6 195.0h0M414.6 195.0h0M407.3 190.1h0M401.3 181.5h0M396.2 159.5h0M417.5 194.6h0M409.4 194.5h0M405.7 193.4h0M419.7 193.1h0M430.3 182.1h0M399.2 178.9h0M416.3 195.1h0M407.1 189.5h0M400.9 179.2h0M397.2 177.0h0M423.3 193.2h0M398.1 190.1h0M413.2 194.9h0M429.3 191.9h0M400.6 185.1h0M425.1 184.4h0M409.5 192.9h0M417.8 194.4h0M428.2 181.5h0M432.4 180.0h0M427.6 191.9h0M420.3 192.7h0M416.4 194.8h0M428.1 183.0h0M412.7 194.5h0M406.4 192.1h0M411.7 193.8h0M416.8 194.8h0M414.4 195.0h0M400.4 180.4h0M430.1 184.5h0M397.5 186.7h0M407.9 190.2h0M418.1 194.6h0M432.7 190.4h0M395.3 177.3h0M432.4 184.7h0M420.8 194.5h0M404.4 188.0h0M408.3 192.1h0M434.0 177.6h0M396.6 173.7h0M418.6 194.9h0M424.0 187.1h0M396.2 170.6h0M422.2 192.5h0M405.2 189.3h0M412.1 194.3h0M422.0 193.7h0M433.3 184.0h0M412.7 194.5h0M417.5 194.6h0M422.3 193.4h0M420.8 192.6h0M403.3 184.3h0M417.8 194.3h0M419.7 193.6h0M397.4 187.4h0M419.4 193.6h0M421.8 194.5h0M413.1 194.6h0M421.0 191.9h0M428.9 192.9h0M425.7 187.6h0M417.8 194.4h0M406.9 190.1h0M408.0 191.8h0M419.2 193.3h0M421.6 192.6h0M410.6 194.5h0M404.4 189.4h0M431.2 188.0h0M413.9 195.0h0M430.7 176.9h0M397.3 177.9h0M405.7 189.2h0M406.1 188.1h0M412.6 194.3h0M425.7 180.2h0M395.0 170.9h0M411.4 194.0h0M414.4 194.9h0M420.0 192.1h0M411.8 193.8h0M398.1 180.9h0M398.4 176.1h0M416.4 194.9h0M412.1 194.4h0M395.2 186.1h0M410.8 193.2h0M405.7 191.8h0M400.9 188.7h0M415.2 195.1h0M396.1 190.4h0M400.6 177.5h0M426.4 185.9h0M422.3 193.3h0M411.8 194.7h0M422.2 191.7h0M398.0 177.6h0M416.4 194.7h0M422.3 193.1h0M394.8 190.3h0M401.9 183.3h0M427.6 188.5h0M424.4 186.6h0M396.3 177.1h0M403.9 192.2h0M423.0 193.5h0M434.6 175.5h0M422.1 190.5h0M434.3 177.2h0M422.6 193.6h0M395.3 177.1h0M422.4 188.6h0M413.1 195.1h0M414.7 195.2h0M423.7 192.5h0M400.8 183.0h0M400.3 192.3h0M397.8 189.8h0M399.8 183.8h0M412.8 194.7h0M431.6 190.7h0M417.1 194.8h0M401.2 181.5h0M426.2 181.8h0M398.9 186.1h0M409.7 192.0h0M413.1 194.7h0M397.2 192.8h0M414.4 195.1h0M417.8 194.9h0M398.9 181.7h0M403.3 193.7h0M413.0 194.9h0M400.9 177.8h0M418.2 193.8h0M409.5 193.4h0M395.4 180.0h0M431.9 179.9h0M418.9 193.2h0M408.8 194.6h0M398.6 193.4h0M416.3 194.8h0M431.6 160.6h0M430.9 193.2h0M414.6 194.7h0M399.4 189.7h0M411.1 193.8h0M408.5 194.5h0M426.1 188.5h0M408.0 191.8h0M416.1 194.8h0M406.6 190.0h0M406.9 193.8h0M423.5 188.9h0M399.5 173.6h0M407.2 194.5h0M399.4 181.6h0M405.7 187.9h0M406.5 190.8h0M421.3 192.9h0M395.4 163.9h0M396.5 158.8h0M401.7 186.3h0M413.4 194.7h0M403.3 185.4h0M433.3 156.6h0M401.0 191.1h0M424.3 189.7h0M421.8 192.5h0M411.6 193.6h0M429.1 184.4h0M405.9 192.3h0M407.9 194.3h0M408.1 191.5h0M399.2 169.5h0M410.4 193.7h0M401.9 191.2h0M401.5 184.6h0M401.7 181.6h0M431.7 189.3h0M420.2 193.4h0M400.1 175.1h0M421.1 194.4h0M408.8 192.1h0M407.0 193.0h0M411.0 194.3h0M420.7 193.9h0M397.2 181.1h0M416.1 194.7h0M412.5 194.6h0M408.1 189.7h0M426.5 185.4h0M417.7 194.1h0M429.7 187.8h0M418.9 193.5h0M409.5 191.7h0M405.9 192.9h0M408.6 192.8h0M433.8 160.9h0M408.5 193.4h0M425.2 190.0h0M401.2 184.0h0M395.5 175.5h0M407.6 192.0h0M435.2 175.4h0M408.2 192.1h0M434.4 180.8h0M433.7 173.9h0M425.8 193.6h0M426.2 185.6h0M395.0 166.6h0M397.2 171.8h0M430.8 163.5h0M429.5 185.4h0M424.4 188.1h0M415.2 194.7h0M428.4 191.6h0M407.3 194.3h0M400.5 177.3h0M413.4 194.9h0M423.3 191.3h0M404.8 186.9h0M407.2 189.1h0M409.9 194.8h0M408.4 194.6h0M421.8 190.9h0M429.5 184.4h0M403.7 189.8h0M406.6 191.8h0M405.3 189.6h0M408.6 193.3h0M396.4 161.1h0M423.7 189.6h0M408.2 190.9h0M415.1 194.9h0M396.3 180.6h0M432.1 190.3h0M409.6 192.3h0M401.0 187.0h0M425.8 192.5h0M417.6 194.5h0M423.0 190.1h0M401.4 191.1h0M406.5 191.1h0M415.6 195.1h0M420.3 192.8h0M412.6 194.7h0M432.6 168.4h0M411.5 194.4h0M404.6 188.8h0M418.7 194.0h0M398.7 190.1h0M396.8 172.8h0M409.5 192.0h0M412.3 194.2h0M409.8 192.8h0M426.7 189.5h0M396.3 180.5h0M412.3 194.1h0M402.7 183.0h0M416.8 194.7h0M395.4 173.2h0M422.3 189.9h0M431.9 174.0h0M408.9 191.1h0M395.8 168.9h0M395.8 189.9h0M403.9 194.2h0M405.7 186.9h0M405.1 187.4h0M420.5 192.3h0M400.2 175.0h0M419.8 193.2h0M434.8 181.8h0M408.1 190.5h0M404.8 189.0h0M395.2 182.6h0M411.4 193.7h0M414.9 194.6h0M409.3 191.8h0M429.1 193.2h0M406.7 194.4h0M406.6 189.8h0M426.8 188.7h0M419.4 194.6h0M429.9 184.8h0M408.7 194.4h0M418.3 194.7h0M425.9 189.4h0M426.5 186.5h0M426.3 186.7h0M404.0 181.1h0M409.5 194.8h0M434.9 172.4h0M418.0 194.3h0M405.8 189.8h0M417.7 194.9h0M411.8 194.0h0M432.0 186.7h0M402.5 192.0h0M407.8 192.7h0M406.1 193.3h0M397.3 186.5h0M416.9 194.9h0M423.5 193.8h0M418.5 194.1h0M406.6 189.7h0M423.8 190.9h0M409.8 194.9h0M402.3 183.1h0M403.3 180.9h0M431.5 179.1h0M425.0 188.2h0M403.6 189.6h0M430.4 184.8h0M398.2 176.4h0M417.9 194.0h0M418.3 194.5h0M397.4 179.1h0M431.1 169.7h0M416.5 194.8h0M428.1 189.7h0M404.4 188.2h0M420.1 194.8h0M407.4 193.0h0M433.0 166.1h0M427.0 182.3h0M407.2 192.6h0M415.7 195.1h0M404.3 191.7h0M425.3 186.8h0M400.7 178.0h0M431.3 193.3h0M416.7 194.9h0M396.4 177.5h0M427.4 184.5h0M422.2 194.7h0M413.2 194.7h0M428.3 180.7h0M432.2 176.1h0M422.2 191.8h0M421.8 190.9h0M426.7 193.4h0M419.7 192.8h0M425.9 190.3h0M420.4 194.6h0M412.5 194.2h0M403.2 193.1h0M427.2 184.1h0M434.2 175.5h0M416.7 194.8h0M407.5 193.8h0M414.5 195.1h0M423.0 188.4h0M406.9 191.9h0M401.8 180.7h0M422.4 189.7h0M415.1 195.2h0M420.8 193.7h0M411.4 193.7h0M402.7 194.0h0M426.4 186.9h0M415.4 194.9h0M397.4 191.9h0M410.5 193.1h0M428.3 172.1h0M396.3 159.9h0M416.4 195.0h0M422.0 192.5h0M400.9 184.1h0M433.9 187.7h0M425.2 187.7h0M407.0 191.8h0M423.5 188.3h0M427.1 183.0h0M396.7 177.6h0M395.0 160.4h0M431.2 171.2h0M428.8 185.2h0M431.8 189.2h0M415.3 195.1h0M398.3 174.2h0M395.1 179.4h0M430.7 189.2h0M399.1 189.8h0M414.5 195.1h0M410.0 193.3h0M419.3 194.8h0M415.3 195.0h0M429.7 192.3h0M414.1 194.8h0M406.1 191.9h0M422.5 189.7h0M397.5 187.0h0M411.4 194.3h0M397.7 192.4h0M415.1 194.8h0M405.3 190.7h0M421.7 192.9h0M427.6 184.5h0M427.9 193.8h0M418.8 193.2h0M424.4 190.0h0M423.4 190.6h0M420.1 191.9h0M404.0 187.0h0M399.8 179.3h0M403.0 193.4h0M400.5 188.8h0M407.6 189.7h0M421.3 191.3h0M429.2 177.5h0M417.0 194.7h0M407.5 192.7h0M395.1 143.1h0M431.5 192.6h0M400.2 177.5h0M420.1 192.0h0M400.8 180.1h0M410.4 194.0h0M407.9 191.7h0M426.3 188.2h0M419.2 194.4h0M428.6 189.8h0M416.5 194.9h0M427.2 182.7h0M420.0 194.2h0M423.5 186.8h0M433.3 180.8h0M420.8 192.5h0M415.0 194.6h0M414.8 194.7h0M401.2 193.8h0M424.0 188.8h0M419.1 194.7h0M400.2 176.0h0M402.0 193.5h0M407.3 187.5h0M407.2 190.6h0M413.0 194.6h0M418.9 194.4h0M415.6 195.1h0M402.1 193.1h0M400.4 190.2h0M421.4 194.3h0M429.4 182.3h0M407.9 191.9h0M409.6 192.3h0M402.5 191.4h0M416.2 194.6h0M404.0 191.5h0M412.8 194.8h0M410.8 194.6h0M412.2 194.6h0M430.3 181.6h0M425.9 185.9h0M395.1 184.7h0M417.3 194.7h0M408.3 190.6h0M419.0 194.3h0M425.7 185.6h0M418.1 194.8h0M430.2 176.0h0M411.9 194.6h0M402.8 181.5h0M412.3 194.4h0M432.7 175.0h0M407.9 189.8h0M425.4 187.5h0M408.7 193.9h0M425.8 190.5h0M421.2 191.7h0M405.0 189.0h0M435.2 190.4h0M426.8 179.4h0M434.6 172.5h0M407.2 188.0h0M415.6 195.1h0M411.4 193.8h0M411.2 194.4h0M402.3 194.2h0M426.2 180.3h0M407.7 193.2h0M429.3 173.3h0M429.8 174.6h0M427.6 175.4h0M411.8 194.2h0M413.3 194.6h0M396.2 183.3h0M435.0 166.4h0M412.2 194.1h0M405.0 191.1h0M407.1 190.9h0M423.9 185.6h0M397.7 183.4h0M407.1 192.8h0M420.7 192.5h0M396.5 181.7h0M429.2 191.3h0M397.8 190.5h0M424.9 188.1h0M397.6 176.1h0M433.2 161.7h0M394.8 175.2h0M412.6 194.6h0M435.0 173.7h0M395.1 191.2h0M416.2 195.0h0M408.3 191.2h0M428.8 184.5h0M395.9 181.2h0M411.0 195.0h0M408.5 190.8h0M418.7 194.0h0M412.8 194.6h0M421.5 190.9h0M422.9 187.6h0M418.0 194.3h0M403.4 191.3h0M426.5 190.7h0M398.0 176.8h0M409.0 192.4h0M410.7 193.3h0M420.1 194.3h0M397.5 166.7h0M410.0 194.8h0M433.5 190.4h0M405.2 189.6h0M403.5 188.5h0M402.4 182.0h0M430.7 185.2h0M426.7 183.3h0M421.3 190.8h0M412.5 194.8h0M411.8 194.7h0M417.8 194.9h0M415.4 194.8h0M398.8 177.2h0M403.4 185.2h0M433.9 166.8h0M425.0 189.4h0M403.4 187.9h0M402.5 191.3h0M402.0 188.5h0M395.8 191.3h0M420.6 193.7h0M419.4 192.8h0M429.0 193.3h0M424.3 192.2h0M400.9 181.1h0M395.9 176.9h0M421.2 193.3h0M421.7 193.7h0M407.7 190.2h0M426.5 184.4h0M396.9 189.7h0M428.0 183.3h0M417.6 194.9h0M407.5 190.0h0M433.7 191.1h0M412.6 194.3h0M414.6 194.8h0M418.0 194.2h0M400.1 188.1h0M404.6 190.8h0M418.1 194.3h0M415.5 194.7h0M422.9 191.1h0M419.6 193.5h0M432.9 184.0h0M433.4 170.4h0M411.8 193.8h0M424.2 186.7h0M396.1 191.4h0M401.3 180.1h0M405.4 187.6h0M401.7 187.6h0M416.8 194.7h0M421.1 191.5h0M426.4 193.4h0M431.6 180.8h0M402.5 183.6h0M406.5 190.1h0M415.1 195.2h0M417.2 194.6h0M417.5 194.9h0M430.0 181.6h0M407.8 193.2h0M417.9 194.5h0M424.9 189.5h0M395.0 183.6h0M403.1 191.5h0M404.8 192.1h0M433.6 178.6h0M395.6 174.3h0M425.6 191.5h0M427.7 192.1h0M410.6 193.4h0M398.5 172.0h0M432.1 190.7h0M414.6 195.1h0M424.0 188.6h0M423.8 186.2h0M407.6 188.4h0M423.5 187.4h0M413.4 194.7h0M428.0 192.9h0M424.9 194.3h0M407.7 189.9h0M430.8 171.9h0M406.8 189.5h0M406.3 192.8h0M408.8 190.5h0M396.5 176.8h0M411.8 194.6h0M418.4 194.1h0M402.0 189.1h0M423.4 189.4h0M394.7 169.9h0M417.7 194.2h0M408.1 191.3h0M432.8 185.3h0M404.8 184.6h0M406.4 187.9h0M408.0 194.3h0M395.1 164.9h0M422.8 192.4h0M405.9 187.9h0M397.5 180.2h0M428.5 182.9h0M411.9 194.3h0M431.2 174.8h0M413.5 194.9h0M401.3 186.3h0M422.3 191.7h0M429.0 178.2h0M425.4 191.1h0M411.3 194.5h0M403.8 194.3h0M411.8 194.6h0M424.7 186.3h0M418.1 194.3h0M421.6 192.5h0M423.0 191.8h0M424.1 187.5h0M397.9 183.9h0M422.3 191.1h0M419.0 193.5h0M420.6 193.4h0M421.3 191.1h0M415.6 195.0h0M395.4 149.3h0M404.4 180.4h0M425.7 188.7h0M416.3 194.8h0M419.0 194.6h0M423.4 193.3h0M407.0 191.4h0M432.7 185.9h0M416.3 195.1h0M397.2 190.4h0M434.3 177.0h0M417.4 194.8h0M430.0 175.3h0M407.1 188.9h0M427.2 187.0h0M398.4 179.4h0M417.0 194.5h0M414.3 194.8h0M412.9 194.5h0M427.3 183.8h0M410.9 193.1h0M408.0 194.3h0M424.5 185.8h0M410.7 193.6h0M423.8 190.0h0M395.7 176.2h0M407.3 187.8h0M419.1 193.0h0M413.4 194.6h0M416.8 194.9h0M400.4 183.6h0M417.3 194.6h0M420.7 192.7h0M432.4 168.2h0M435.0 176.3h0M417.6 194.5h0M414.8 195.1h0M426.8 185.5h0M433.5 177.2h0M396.0 161.8h0M430.4 190.4h0M396.8 172.4h0M402.4 188.2h0M421.1 192.8h0M403.9 190.8h0M412.0 194.4h0M429.0 193.1h0M403.7 181.7h0M427.7 178.5h0M424.2 189.4h0M422.3 194.2h0M426.0 190.6h0M420.2 193.7h0M425.9 186.7h0M414.1 194.9h0M405.0 187.0h0M431.0 187.7h0M430.7 179.5h0M424.5 193.6h0M434.8 167.6h0M401.9 193.2h0M405.4 184.2h0M405.3 190.5h0M410.9 193.1h0M412.9 194.7h0M424.6 189.9h0M398.1 167.4h0M395.6 160.1h0M397.0 171.5h0M402.4 193.9h0M410.3 193.4h0M417.9 194.4h0M417.5 194.9h0M426.3 185.8h0M416.5 194.7h0M396.3 181.8h0M410.6 193.2h0M419.5 192.9h0M403.0 193.6h0M417.6 194.5h0M410.2 193.5h0M400.5 178.0h0M418.6 194.9h0M404.5 184.4h0M400.7 184.1h0M414.9 194.9h0M405.5 189.9h0M397.9 183.8h0M410.9 194.8h0M407.8 192.8h0M395.9 171.1h0M420.5 191.9h0M426.1 190.7h0M405.6 187.7h0M426.8 181.8h0M395.9 153.9h0M410.5 194.6h0M426.5 194.0h0M402.7 181.3h0M425.0 193.1h0M418.4 193.8h0M399.1 184.7h0M407.6 193.2h0M397.6 172.9h0M414.9 195.0h0M429.1 180.3h0M395.8 169.0h0M425.4 194.3h0M399.0 181.4h0M426.7 187.3h0M414.4 195.0h0M406.5 193.4h0M421.2 190.1h0M399.5 181.5h0M397.2 163.3h0M412.7 194.8h0M414.4 195.1h0M395.6 189.5h0M398.3 178.0h0M402.3 192.3h0M416.5 194.7h0M434.7 189.4h0M429.3 180.9h0M423.4 192.1h0M429.5 193.8h0M425.5 193.6h0M396.3 180.9h0M395.1 166.3h0M409.3 193.7h0M403.9 193.2h0M423.4 189.5h0M397.8 173.4h0M413.5 194.9h0M409.3 191.2h0M435.0 170.8h0M431.0 173.8h0M433.1 180.2h0M418.3 194.9h0M415.7 195.0h0M415.3 194.8h0M417.9 194.7h0M418.3 193.7h0M430.6 189.5h0M424.8 187.8h0M420.6 192.8h0M411.4 194.0h0M398.7 181.9h0M427.8 186.2h0M399.4 179.2h0M409.3 191.4h0M429.2 170.3h0M398.3 167.5h0M431.9 192.8h0M430.5 183.9h0M426.1 185.6h0M418.0 195.0h0M415.8 194.6h0M410.4 193.7h0M402.4 190.7h0M408.2 191.4h0M407.7 191.2h0M415.8 195.0h0M420.7 192.8h0M406.3 189.3h0M410.5 193.1h0M430.1 186.3h0M401.5 183.3h0M398.9 176.6h0M412.3 194.4h0M400.1 187.5h0M419.8 194.0h0M394.9 184.8h0M427.1 183.4h0M401.4 190.6h0M402.7 188.2h0M426.2 188.1h0M418.1 194.7h0M405.4 190.4h0M410.6 194.7h0M432.6 175.4h0M395.1 170.7h0M412.7 194.7h0M416.3 195.0h0M429.6 182.3h0M425.0 186.2h0M427.5 179.5h0M395.1 172.3h0M401.2 188.0h0M408.7 194.2h0M400.4 184.0h0M402.9 188.4h0M434.9 188.5h0M402.9 183.5h0M397.0 182.9h0M413.6 194.7h0M430.2 181.6h0M433.3 173.4h0M421.3 191.8h0M430.5 181.3h0M405.4 194.3h0M401.7 180.5h0M413.8 194.9h0M421.2 194.6h0M432.9 179.1h0M430.4 176.2h0M424.4 191.0h0M431.4 186.0h0M420.3 194.3h0M401.3 189.2h0M411.9 194.7h0M428.4 191.0h0M415.1 194.9h0M432.1 173.7h0M409.3 192.2h0M406.1 193.8h0M428.6 188.9h0M395.7 173.2h0M425.6 187.3h0M411.6 194.5h0M416.0 194.6h0M416.2 194.9h0M431.6 177.4h0M406.6 189.2h0M410.4 192.7h0M420.5 192.7h0M414.3 195.1h0M399.5 179.3h0M406.2 193.9h0M407.6 191.5h0M404.5 187.4h0M399.5 181.5h0M429.8 185.6h0M424.8 189.5h0M428.8 182.3h0M400.9 180.1h0M399.1 185.5h0M419.8 193.0h0M397.7 163.2h0M413.5 194.9h0M434.7 191.5h0M432.0 181.9h0M412.0 194.3h0M399.7 178.4h0M411.5 194.0h0M400.1 188.3h0M398.6 181.3h0M425.0 193.7h0M415.5 194.8h0M430.6 172.0h0M408.9 192.6h0M408.0 190.9h0M406.4 190.4h0M405.1 186.2h0M420.2 193.1h0M402.2 192.8h0M420.5 192.6h0M434.1 175.1h0M429.8 180.4h0M396.8 151.9h0M433.8 189.4h0M396.2 166.1h0M410.9 193.8h0M433.0 175.3h0M421.6 193.5h0M409.7 193.6h0M431.1 184.3h0M412.0 194.6h0M419.0 193.1h0M404.0 186.1h0M430.0 185.9h0M398.5 175.3h0M431.4 183.3h0M409.8 194.3h0M395.5 176.3h0M414.7 194.9h0M395.8 188.7h0M405.5 193.4h0M410.3 194.4h0M408.0 192.8h0M412.5 195.0h0M408.0 194.6h0M398.4 177.7h0M396.2 173.5h0M423.6 186.7h0M397.4 176.8h0M412.9 195.0h0M434.9 174.7h0M433.7 178.9h0M424.5 193.8h0M401.1 183.9h0M399.6 176.7h0M433.1 179.2h0M426.0 187.8h0M429.8 181.3h0M420.8 194.4h0M409.8 193.2h0M412.2 194.4h0M426.1 187.1h0M400.7 173.7h0M403.9 193.6h0M427.7 190.8h0M399.4 186.4h0M410.0 194.0h0M411.2 195.0h0M396.8 187.5h0M427.6 192.6h0M396.2 181.9h0M428.3 190.6h0M416.4 194.8h0M400.0 178.6h0M399.9 188.7h0M406.3 193.0h0M434.9 174.9h0M429.8 183.5h0M395.3 187.1h0M424.2 191.6h0M428.4 185.0h0M429.1 192.0h0M432.8 191.7h0M417.0 194.7h0M429.5 188.8h0M421.4 193.0h0M420.5 193.3h0M411.9 194.3h0M406.3 188.8h0M401.6 177.0h0M400.1 190.7h0M413.7 194.9h0M410.5 192.6h0M417.6 194.6h0M427.2 192.9h0M398.8 187.0h0M434.4 177.5h0M412.8 194.7h0M419.0 194.3h0M421.4 193.2h0M404.5 188.1h0M412.1 194.0h0M402.5 188.1h0M432.5 164.6h0M421.0 191.6h0M421.8 192.9h0M397.4 184.8h0M419.4 194.3h0M428.3 180.9h0M400.2 182.6h0M414.3 195.0h0M417.4 194.6h0M435.2 176.1h0M432.9 173.9h0M413.5 194.9h0M410.3 193.4h0M417.9 194.7h0M400.8 182.3h0M400.8 181.7h0M432.0 193.2h0M423.0 189.3h0M424.7 185.9h0M422.6 190.6h0M406.4 188.8h0M394.9 163.2h0M403.1 187.6h0M402.4 184.7h0M402.9 192.4h0M420.6 193.7h0M422.7 192.9h0M431.9 168.5h0M434.8 160.3h0M422.9 190.1h0M412.5 195.0h0M416.7 194.6h0M424.2 189.2h0M420.1 193.8h0M409.0 194.3h0M404.7 184.3h0M395.8 175.4h0M421.5 194.0h0M416.0 195.0h0M419.5 193.0h0M428.9 183.0h0M426.8 184.2h0M430.9 177.2h0M428.6 180.9h0M408.8 191.8h0M435.0 170.5h0M402.9 182.5h0M431.9 187.2h0M431.4 166.8h0M407.2 193.8h0M416.7 194.8h0M398.8 182.3h0M433.2 172.4h0M434.0 170.1h0M408.6 190.1h0M416.4 195.0h0M413.5 194.8h0M408.5 192.4h0M397.5 181.1h0M413.0 194.6h0M403.5 189.1h0M419.1 194.7h0M430.7 178.9h0M433.6 166.4h0M406.3 190.8h0M398.6 163.3h0M420.8 191.8h0M435.1 190.8h0M422.3 191.3h0M425.3 189.0h0M406.0 191.1h0M401.7 182.1h0M417.1 194.7h0M434.5 172.0h0M418.6 194.7h0M412.4 194.5h0M396.8 162.0h0M400.1 189.6h0M405.7 193.8h0M410.9 193.7h0M402.0 174.0h0M427.4 188.0h0M418.4 194.0h0M411.5 194.2h0M412.0 195.0h0M427.8 192.4h0M402.9 181.8h0M423.1 191.4h0M435.1 160.1h0M424.3 187.9h0M396.0 175.3h0M411.4 194.0h0M417.3 194.6h0M414.4 195.2h0M398.7 177.9h0M409.9 191.8h0M422.4 190.5h0M413.1 194.6h0M435.1 177.0h0M396.5 164.9h0M407.5 189.4h0M397.0 188.6h0M434.5 169.5h0M419.2 193.6h0M402.7 179.8h0M434.9 183.5h0M418.4 194.6h0M400.0 177.5h0M413.2 194.8h0M404.0 193.1h0M415.9 195.1h0M408.0 193.1h0M405.2 186.5h0M405.8 189.9h0M398.2 167.9h0M407.6 194.1h0M397.2 181.5h0M426.2 191.7h0M401.7 186.4h0M434.6 178.8h0M402.0 190.3h0M415.2 194.7h0M416.2 195.0h0M416.8 194.9h0M397.2 180.6h0M411.8 194.4h0M418.4 194.2h0M404.1 180.7h0M405.1 191.3h0M422.5 194.2h0M422.8 191.2h0M401.5 192.7h0M433.4 191.7h0M427.7 181.6h0M429.6 187.5h0M412.0 194.4h0M398.3 175.0h0M409.9 192.4h0M423.7 189.2h0M424.2 192.5h0M413.0 194.9h0M426.7 190.0h0M413.2 194.9h0M395.0 187.2h0M399.0 178.9h0M428.2 184.3h0M411.3 193.4h0M418.4 194.7h0M409.3 192.3h0M422.4 189.7h0M425.6 184.6h0M408.3 191.1h0M430.6 192.9h0M407.6 191.1h0M431.2 188.4h0M422.8 190.1h0M410.5 192.7h0M410.3 194.5h0M434.2 159.9h0M401.9 191.6h0M405.6 188.0h0M414.0 194.6h0M423.5 188.5h0M425.5 192.9h0M414.2 194.6h0M432.3 157.4h0M408.8 190.9h0M421.7 192.5h0M423.9 191.1h0M425.5 187.4h0M425.1 189.1h0M413.0 194.5h0M418.6 194.0h0M421.3 192.7h0M422.2 191.2h0M415.5 194.7h0M409.7 193.6h0M395.3 156.3h0M426.8 183.7h0M434.6 178.3h0M435.3 169.0h0M421.5 191.3h0M396.5 170.8h0M419.8 193.2h0M426.3 187.5h0M423.6 190.2h0M396.9 171.9h0M427.9 191.7h0M398.0 171.5h0M405.0 187.7h0M428.6 176.0h0M416.2 194.9h0M408.8 191.0h0M429.0 179.7h0M396.4 181.9h0M408.8 193.4h0M409.7 191.7h0M397.9 184.4h0M424.6 188.0h0M422.0 191.6h0M404.5 188.1h0M402.6 186.4h0M431.6 178.8h0M401.4 185.6h0M407.2 193.4h0M418.9 194.2h0M410.3 192.6h0M405.9 187.0h0M402.8 185.5h0M421.0 194.0h0M424.8 193.0h0M430.8 188.3h0M434.5 170.9h0M420.0 193.5h0M415.9 194.7h0M408.3 191.8h0M426.5 187.0h0" stroke="#828282" stroke-width="1.2" stroke-linecap="round" fill="none"/>
<path d="M392.4 190.8h0M387.5 180.6h0M392.4 191.4h0M387.2 181.2h0M388.5 189.9h0M391.8 190.5h0M393.4 191.6h0M393.7 150.9h0M372.5 175.9h0M393.7 189.7h0M392.0 167.8h0M375.6 169.4h0M394.0 191.3h0M388.6 170.7h0M391.7 191.1h0M390.6 185.7h0M390.1 175.3h0M392.7 181.7h0M393.5 184.6h0M392.9 184.3h0M383.8 183.6h0M393.9 182.8h0M375.9 163.1h0M391.4 186.8h0M390.3 189.4h0M388.8 190.5h0M387.9 188.7h0M392.0 190.5h0M393.2 184.7h0M385.0 183.8h0M370.9 166.3h0M393.8 184.8h0M376.9 186.5h0M392.9 147.9h0M388.5 164.8h0M386.3 180.6h0M392.7 191.9h0M385.4 181.9h0M380.9 186.1h0M382.9 180.3h0M391.1 176.4h0M387.7 187.6h0M389.2 189.4h0M390.9 143.6h0M370.3 180.3h0M393.7 158.0h0M387.7 185.9h0M389.8 145.8h0M381.2 186.5h0M394.0 184.3h0M393.2 187.7h0M376.5 153.9h0M394.2 177.6h0M386.3 188.0h0M383.4 164.1h0M385.8 152.8h0M392.8 191.3h0M370.3 143.4h0M393.1 183.6h0M394.7 156.8h0M390.6 190.8h0M374.4 186.7h0M388.9 167.7h0M370.9 184.7h0M365.0 175.1h0M377.2 182.5h0M371.7 178.3h0M392.2 169.3h0M387.3 157.4h0M393.2 183.1h0M391.4 164.1h0M378.3 180.7h0M387.0 190.5h0M366.4 169.7h0M380.2 180.7h0M387.1 185.7h0M393.2 188.2h0M386.0 158.5h0M388.7 191.0h0M384.6 141.8h0M379.3 182.9h0M393.3 185.6h0M388.5 176.9h0M394.2 157.5h0M374.4 188.7h0M388.6 190.6h0M390.7 149.9h0M394.1 190.1h0M393.3 191.1h0M393.9 191.1h0M385.3 185.0h0M385.7 184.2h0M382.5 180.3h0M384.6 180.2h0M390.7 188.3h0M380.1 160.9h0M387.8 189.6h0M388.9 189.7h0M392.3 180.9h0M393.9 171.7h0M393.1 187.7h0M386.7 164.3h0M393.0 191.9h0M386.5 155.6h0M392.7 186.9h0M390.5 186.6h0M387.5 188.3h0M392.9 191.1h0M391.0 190.7h0M386.4 184.9h0M394.3 187.3h0M390.9 187.2h0M388.8 190.0h0M389.6 182.9h0M388.9 181.3h0M386.1 184.1h0M391.3 169.0h0M383.7 182.4h0M388.3 176.6h0M393.0 184.7h0M382.0 176.5h0M392.6 186.6h0M387.4 99.7h0M392.5 117.8h0M380.1 125.1h0M386.6 126.6h0M392.5 128.8h0M378.5 136.4h0M384.3 134.2h0M365.3 165.8h0M358.2 180.5h0M345.6 183.6h0M335.4 188.0h0M347.8 189.2h0M373.0 72.0h0M388.6 141.0h0M390.6 142.1h0M391.7 143.2h0M386.6 145.5h0M379.5 159.0h0M380.5 168.1h0M376.4 178.2h0M374.4 185.0h0M370.3 187.3h0M372.4 190.7h0M382.5 154.5h0" stroke="#08ee08" stroke-width="1.35" stroke-linecap="round" fill="none"/>
<path d="M445.3 170.3h0M445.6 187.7h0M467.7 171.5h0M444.4 177.5h0M455.6 185.6h0M439.9 174.3h0M439.4 186.6h0M440.2 154.1h0M435.9 153.3h0M441.4 189.9h0M435.7 185.8h0M442.1 186.0h0M455.6 184.5h0M455.6 179.2h0M436.4 179.8h0M437.6 184.0h0M436.2 191.8h0M456.7 147.5h0M441.9 188.7h0M440.8 150.0h0M435.4 187.1h0M442.2 176.2h0M438.5 191.6h0M435.3 161.5h0M437.1 159.1h0M444.6 186.4h0M437.0 189.6h0M438.1 190.8h0M439.5 185.6h0M438.9 186.5h0M439.0 172.6h0M437.1 157.8h0M459.7 144.4h0M459.7 148.3h0M448.1 187.3h0M439.3 186.0h0M435.9 187.7h0M450.0 167.3h0M439.6 183.6h0M436.4 188.5h0M465.8 165.9h0M435.9 189.9h0M435.5 188.7h0M464.4 169.4h0M445.0 189.4h0M442.8 188.4h0M435.7 190.7h0M442.5 165.9h0M437.1 170.4h0M435.3 186.0h0M435.8 178.0h0M436.8 183.0h0M436.7 187.6h0M439.8 185.3h0M455.6 187.2h0M438.2 185.9h0M435.5 185.1h0M442.9 163.2h0M455.6 174.4h0M455.6 187.0h0M458.0 158.4h0M441.5 167.2h0M445.8 181.8h0M443.5 176.7h0M435.8 173.3h0M440.4 156.2h0M448.8 140.9h0M440.8 182.1h0M456.7 167.5h0M455.6 184.7h0M436.2 178.1h0M447.2 185.8h0M435.6 192.3h0M441.7 154.3h0M450.9 165.6h0M441.1 185.6h0M454.7 162.6h0M443.9 190.2h0M442.4 157.1h0M447.4 189.2h0M436.6 184.3h0M438.3 185.5h0M444.4 188.9h0M439.0 191.0h0M452.1 189.0h0M436.6 191.3h0M440.0 166.2h0M436.1 159.9h0M435.7 183.6h0M436.5 190.6h0M442.0 182.1h0M441.1 190.1h0M438.9 186.9h0M436.4 149.6h0M438.7 173.0h0M437.1 160.8h0M443.1 185.0h0M439.0 174.5h0M448.1 188.3h0M436.5 187.4h0M435.7 192.3h0M435.8 188.5h0M437.7 191.9h0M440.2 176.0h0M435.8 183.5h0M438.1 186.2h0M439.7 189.6h0M455.5 171.8h0M440.5 187.6h0M438.9 185.3h0M448.5 172.9h0M457.2 182.8h0M446.8 177.3h0M441.2 185.1h0M441.6 190.9h0M447.7 176.9h0M437.2 187.8h0M444.4 180.8h0M443.1 190.3h0M441.2 163.4h0M447.6 180.0h0M457.4 170.1h0M464.1 183.9h0M452.2 168.6h0M451.1 152.5h0M443.2 178.3h0M437.5 183.7h0M445.5 182.4h0M444.4 183.7h0M436.4 191.3h0M455.6 184.9h0M452.5 186.1h0M464.5 85.6h0M442.8 99.7h0M450.1 104.8h0M482.6 105.9h0M451.3 123.1h0M438.3 126.3h0M436.5 141.0h0M453.4 143.4h0M459.5 149.2h0M456.8 159.7h0M475.5 172.0h0M468.8 182.9h0M471.0 191.0h0M461.1 186.4h0M441.4 150.0h0M445.4 152.3h0M447.5 154.5h0M440.4 157.9h0M451.5 166.9h0M455.6 185.0h0M457.6 189.5h0M444.4 144.3h0" stroke="#fa1010" stroke-width="1.35" stroke-linecap="round" fill="none"/>
<rect x="324.2" y="54" width="181.8" height="146.7" fill="none" stroke="#000" stroke-width="1.45"/>
<line x1="333.8" y1="200.7" x2="333.8" y2="204.42499999999998" stroke="#000" stroke-width="1.45"/>
<text x="332.2" y="215.8" font-size="12.3" font-weight="bold" text-anchor="middle" fill="#000" >-4</text>
<line x1="354.1" y1="200.7" x2="354.1" y2="204.42499999999998" stroke="#000" stroke-width="1.45"/>
<text x="352.5" y="215.8" font-size="12.3" font-weight="bold" text-anchor="middle" fill="#000" >-3</text>
<line x1="374.4" y1="200.7" x2="374.4" y2="204.42499999999998" stroke="#000" stroke-width="1.45"/>
<text x="372.8" y="215.8" font-size="12.3" font-weight="bold" text-anchor="middle" fill="#000" >-2</text>
<line x1="394.7" y1="200.7" x2="394.7" y2="204.42499999999998" stroke="#000" stroke-width="1.45"/>
<text x="393.1" y="215.8" font-size="12.3" font-weight="bold" text-anchor="middle" fill="#000" >-1</text>
<line x1="415.0" y1="200.7" x2="415.0" y2="204.42499999999998" stroke="#000" stroke-width="1.45"/>
<text x="415.0" y="215.8" font-size="12.3" font-weight="bold" text-anchor="middle" fill="#000" >0</text>
<line x1="435.3" y1="200.7" x2="435.3" y2="204.42499999999998" stroke="#000" stroke-width="1.45"/>
<text x="435.3" y="215.8" font-size="12.3" font-weight="bold" text-anchor="middle" fill="#000" >1</text>
<line x1="455.6" y1="200.7" x2="455.6" y2="204.42499999999998" stroke="#000" stroke-width="1.45"/>
<text x="455.6" y="215.8" font-size="12.3" font-weight="bold" text-anchor="middle" fill="#000" >2</text>
<line x1="475.9" y1="200.7" x2="475.9" y2="204.42499999999998" stroke="#000" stroke-width="1.45"/>
<text x="475.9" y="215.8" font-size="12.3" font-weight="bold" text-anchor="middle" fill="#000" >3</text>
<line x1="496.2" y1="200.7" x2="496.2" y2="204.42499999999998" stroke="#000" stroke-width="1.45"/>
<text x="496.2" y="215.8" font-size="12.3" font-weight="bold" text-anchor="middle" fill="#000" >4</text>
<line x1="320.47499999999997" y1="195.2" x2="324.2" y2="195.2" stroke="#000" stroke-width="1.45"/>
<text x="318.3" y="199.3" font-size="12.8" font-weight="bold" text-anchor="end" fill="#000" >0</text>
<line x1="320.47499999999997" y1="138.7" x2="324.2" y2="138.7" stroke="#000" stroke-width="1.45"/>
<text x="318.3" y="142.8" font-size="12.8" font-weight="bold" text-anchor="end" fill="#000" >50</text>
<line x1="320.47499999999997" y1="82.2" x2="324.2" y2="82.2" stroke="#000" stroke-width="1.45"/>
<text x="318.3" y="86.3" font-size="12.8" font-weight="bold" text-anchor="end" fill="#000" >100</text>
<text x="349" y="44.6" font-size="12.6" font-weight="bold" textLength="86" lengthAdjust="spacingAndGlyphs">LPS_PL vs LPS</text>
<circle cx="336.3" cy="61.3" r="0.95" fill="#08ee08"/>
<text x="349.8" y="64.3" font-size="9.2" font-weight="bold" textLength="86" lengthAdjust="spacingAndGlyphs">Down Regulated: 149</text>
<circle cx="336.3" cy="73.4" r="0.95" fill="#828282"/>
<text x="349.8" y="76.4" font-size="9.2" font-weight="bold" textLength="21" lengthAdjust="spacingAndGlyphs">None</text>
<circle cx="336.3" cy="85.7" r="0.95" fill="#fa1010"/>
<text x="349.8" y="88.7" font-size="9.2" font-weight="bold" textLength="74.2" lengthAdjust="spacingAndGlyphs">Up Regulated: 159</text>
<text x="366.5" y="230.6" font-size="12.6" font-weight="bold" textLength="96" lengthAdjust="spacingAndGlyphs">log<tspan font-size="8.4" dy="2.6">2</tspan><tspan dy="-2.6">(Fold Change)</tspan></text>
<text transform="translate(294.8,166.8) rotate(-90)" font-size="12.8" font-weight="bold" textLength="81.2" lengthAdjust="spacingAndGlyphs">-log<tspan font-size="8.4" dy="2.6">10</tspan><tspan dy="-2.6">(P-value)</tspan></text>
<rect x="547.2" y="39.6" width="13.4" height="6.2" fill="#b9b9b9" stroke="#8c8c8c" stroke-width="0.8"/>
<rect x="547.2" y="52.8" width="13.4" height="6.4" fill="#f9b4b4" stroke="#f08080" stroke-width="0.8"/>
<text x="562.5" y="44" font-size="11.6" font-weight="bold" textLength="75.5" lengthAdjust="spacingAndGlyphs" fill="#1a1a1a" stroke="#fff" stroke-width="0.25" paint-order="stroke">LPS vs Con_up</text>
<text x="563.4" y="59" font-size="11.6" font-weight="bold" textLength="112" lengthAdjust="spacingAndGlyphs" fill="#1a1a1a" stroke="#fff" stroke-width="0.25" paint-order="stroke">LPS_PL vs LPS_down</text>
<circle cx="595" cy="98.8" r="35.8" fill="#787878" fill-opacity="0.52" stroke="#8a8a8a" stroke-width="0.6"/>
<circle cx="647.8" cy="98.8" r="35.4" fill="#f26d6d" fill-opacity="0.52" stroke="#ee8c8c" stroke-width="0.6"/>
<defs><clipPath id="vc59598"><circle cx="595" cy="98.8" r="35.8"/></clipPath></defs>
<circle cx="647.8" cy="98.8" r="35.4" fill="#cf8888" clip-path="url(#vc59598)"/>
<text x="586" y="101.0" font-size="9" font-weight="bold" text-anchor="middle" fill="#000" >130</text>
<text x="621.6" y="101.0" font-size="9" font-weight="bold" text-anchor="middle" fill="#000" >23</text>
<text x="657" y="101.0" font-size="9" font-weight="bold" text-anchor="middle" fill="#000" >126</text>
<rect x="549.2" y="176.2" width="17.2" height="8" fill="#b9b9b9" stroke="#8c8c8c" stroke-width="0.8"/>
<rect x="549.2" y="190.2" width="17.2" height="9" fill="#f9b4b4" stroke="#f08080" stroke-width="0.8"/>
<text x="568.8" y="183" font-size="11.6" font-weight="bold" textLength="91" lengthAdjust="spacingAndGlyphs" fill="#1a1a1a" stroke="#fff" stroke-width="0.25" paint-order="stroke">LPS vs Con_down</text>
<text x="569.5" y="197" font-size="11.6" font-weight="bold" textLength="99" lengthAdjust="spacingAndGlyphs" fill="#1a1a1a" stroke="#fff" stroke-width="0.25" paint-order="stroke">LPS_PL vs LPS_up</text>
<circle cx="596.9" cy="240.5" r="39" fill="#787878" fill-opacity="0.52" stroke="#8a8a8a" stroke-width="0.6"/>
<circle cx="657" cy="240" r="38.3" fill="#f26d6d" fill-opacity="0.52" stroke="#ee8c8c" stroke-width="0.6"/>
<defs><clipPath id="vc596240"><circle cx="596.9" cy="240.5" r="39"/></clipPath></defs>
<circle cx="657" cy="240" r="38.3" fill="#cf8888" clip-path="url(#vc596240)"/>
<text x="588.6" y="242.7" font-size="9" font-weight="bold" text-anchor="middle" fill="#000" >149</text>
<text x="627.2" y="242.7" font-size="9" font-weight="bold" text-anchor="middle" fill="#000" >19</text>
<text x="664.9" y="242.7" font-size="9" font-weight="bold" text-anchor="middle" fill="#000" >140</text>
<path d="M57.9 330.70h28.2M57.9 340.68h28.2M142.1 458.46h28.2M142.1 471.45h28.2" stroke="#dcdcff" stroke-width="1.30" fill="none"/>
<path d="M57.9 331.70h28.2M86.0 341.67h28.2M86.0 343.67h28.2M86.0 344.67h28.2M86.0 361.63h28.2M86.0 393.56h28.2M86.0 411.52h28.2M86.0 418.51h28.2M114.0 346.66h28.2M114.0 405.54h28.2M142.1 424.50h28.2M142.1 428.49h28.2M142.1 445.48h28.2M142.1 462.46h28.2M142.1 477.44h28.2M142.1 498.42h28.2M142.1 513.40h28.2M142.1 516.40h28.2M170.2 431.49h28.2M170.2 446.47h28.2M170.2 447.47h28.2M170.2 476.44h28.2M170.2 482.44h28.2M170.2 490.43h28.2M170.2 495.42h28.2M170.2 508.41h28.2M170.2 516.40h28.2M198.2 426.50h28.2M198.2 434.49h28.2M198.2 436.48h28.2M198.2 451.47h28.2M198.2 453.47h28.2M198.2 454.47h28.2M198.2 479.44h28.2M198.2 491.43h28.2M198.2 502.42h28.2M198.2 503.42h28.2" stroke="#a6a6ff" stroke-width="1.30" fill="none"/>
<path d="M57.9 332.69h28.2M57.9 349.66h28.2M57.9 355.64h28.2M57.9 378.59h28.2M57.9 385.58h28.2M57.9 386.58h28.2M86.0 373.61h28.2M86.0 378.59h28.2M86.0 407.53h28.2M114.0 334.69h28.2M114.0 348.66h28.2M142.1 432.49h28.2M142.1 438.48h28.2M142.1 441.48h28.2M142.1 480.44h28.2M142.1 488.43h28.2M142.1 496.42h28.2M170.2 455.47h28.2M170.2 478.44h28.2M170.2 484.43h28.2M170.2 510.41h28.2M198.2 467.45h28.2M198.2 471.45h28.2M198.2 504.41h28.2M198.2 510.41h28.2M198.2 514.40h28.2" stroke="#9090ff" stroke-width="1.30" fill="none"/>
<path d="M57.9 333.69h28.2M57.9 334.69h28.2M57.9 389.57h28.2M86.0 366.62h28.2M86.0 409.53h28.2M114.0 367.62h28.2M114.0 368.62h28.2M142.1 426.50h28.2M142.1 430.49h28.2M142.1 442.48h28.2M170.2 445.48h28.2M170.2 464.46h28.2M170.2 496.42h28.2M198.2 424.50h28.2M198.2 427.49h28.2M198.2 478.44h28.2" stroke="#b8b8ff" stroke-width="1.30" fill="none"/>
<path d="M57.9 335.69h28.2M57.9 354.65h28.2M86.0 348.66h28.2M86.0 355.64h28.2M86.0 356.64h28.2M86.0 357.64h28.2M86.0 360.63h28.2M86.0 381.59h28.2M86.0 391.57h28.2M114.0 332.69h28.2M114.0 351.65h28.2M114.0 375.60h28.2M142.1 467.45h28.2M142.1 485.43h28.2M142.1 517.40h28.2M170.2 422.50h28.2M170.2 448.47h28.2M170.2 465.45h28.2M198.2 438.48h28.2M198.2 441.48h28.2M198.2 442.48h28.2M198.2 462.46h28.2M198.2 474.45h28.2M198.2 489.43h28.2M198.2 515.40h28.2" stroke="#9d9dff" stroke-width="1.30" fill="none"/>
<path d="M57.9 336.69h28.2M57.9 343.67h28.2M57.9 400.55h28.2M57.9 414.52h28.2M86.0 349.66h28.2M86.0 415.51h28.2M114.0 362.63h28.2M142.1 505.41h28.2M170.2 424.50h28.2M170.2 438.48h28.2M170.2 460.46h28.2M170.2 501.42h28.2M170.2 502.42h28.2" stroke="#7676ff" stroke-width="1.30" fill="none"/>
<path d="M57.9 337.68h28.2M57.9 375.60h28.2M57.9 381.59h28.2M57.9 408.53h28.2M86.0 350.66h28.2M86.0 376.60h28.2M86.0 399.55h28.2M86.0 400.55h28.2M114.0 337.68h28.2M114.0 355.64h28.2M114.0 386.58h28.2M114.0 401.54h28.2M142.1 435.49h28.2M142.1 487.43h28.2M142.1 503.42h28.2M142.1 514.40h28.2M170.2 451.47h28.2M170.2 452.47h28.2M170.2 462.46h28.2M170.2 466.45h28.2M170.2 468.45h28.2M170.2 504.41h28.2M198.2 435.49h28.2M198.2 497.42h28.2" stroke="#8787ff" stroke-width="1.30" fill="none"/>
<path d="M57.9 338.68h28.2M57.9 351.65h28.2M57.9 373.61h28.2M57.9 376.60h28.2M57.9 401.54h28.2M57.9 407.53h28.2M86.0 405.54h28.2M114.0 349.66h28.2M114.0 357.64h28.2M114.0 358.64h28.2M114.0 388.57h28.2M114.0 389.57h28.2M142.1 434.49h28.2M142.1 437.48h28.2M142.1 457.46h28.2M142.1 481.44h28.2M170.2 435.49h28.2M170.2 436.48h28.2M198.2 423.50h28.2M198.2 443.48h28.2M198.2 445.48h28.2M198.2 498.42h28.2" stroke="#7e7eff" stroke-width="1.30" fill="none"/>
<path d="M57.9 339.68h28.2M114.0 415.51h28.2M170.2 457.46h28.2" stroke="#e4e4ff" stroke-width="1.30" fill="none"/>
<path d="M57.9 341.67h28.2M57.9 368.62h28.2M57.9 405.54h28.2M57.9 416.51h28.2M57.9 418.51h28.2M114.0 340.68h28.2M114.0 394.56h28.2M114.0 395.56h28.2M114.0 398.55h28.2M142.1 454.47h28.2" stroke="#5252ff" stroke-width="1.30" fill="none"/>
<path d="M57.9 342.67h28.2M57.9 345.67h28.2M57.9 357.64h28.2M57.9 369.61h28.2M57.9 382.59h28.2M57.9 388.57h28.2M57.9 394.56h28.2M57.9 404.54h28.2M57.9 413.52h28.2M86.0 352.65h28.2M86.0 375.60h28.2M86.0 377.60h28.2M86.0 383.58h28.2M86.0 402.54h28.2M114.0 335.69h28.2M114.0 343.67h28.2M114.0 360.63h28.2M114.0 381.59h28.2M114.0 402.54h28.2M142.1 452.47h28.2M170.2 434.49h28.2" stroke="#7a7aff" stroke-width="1.30" fill="none"/>
<path d="M57.9 344.67h28.2M57.9 366.62h28.2M114.0 336.69h28.2M114.0 339.68h28.2M142.1 461.46h28.2" stroke="#5b5bff" stroke-width="1.30" fill="none"/>
<path d="M57.9 346.66h28.2M57.9 350.66h28.2M57.9 353.65h28.2M57.9 391.57h28.2M57.9 392.56h28.2M86.0 330.70h28.2M114.0 333.69h28.2M114.0 350.66h28.2M114.0 354.65h28.2M114.0 361.63h28.2M114.0 379.59h28.2M142.1 427.49h28.2M142.1 436.48h28.2M142.1 439.48h28.2M142.1 479.44h28.2M142.1 482.44h28.2M142.1 511.41h28.2M170.2 467.45h28.2M170.2 487.43h28.2M198.2 460.46h28.2M198.2 487.43h28.2M198.2 499.42h28.2M198.2 516.40h28.2" stroke="#8383ff" stroke-width="1.30" fill="none"/>
<path d="M57.9 347.66h28.2M57.9 387.57h28.2M86.0 331.70h28.2M86.0 354.65h28.2M86.0 370.61h28.2M86.0 372.61h28.2M86.0 374.60h28.2M86.0 406.53h28.2M86.0 412.52h28.2M86.0 420.50h28.2M114.0 369.61h28.2M114.0 383.58h28.2M142.1 474.45h28.2M142.1 475.44h28.2M142.1 504.41h28.2M142.1 512.41h28.2M170.2 449.47h28.2M170.2 477.44h28.2M170.2 499.42h28.2M170.2 515.40h28.2M170.2 517.40h28.2M198.2 429.49h28.2M198.2 447.47h28.2M198.2 448.47h28.2M198.2 485.43h28.2M198.2 490.43h28.2M198.2 505.41h28.2M198.2 512.41h28.2" stroke="#9595ff" stroke-width="1.30" fill="none"/>
<path d="M57.9 348.66h28.2M86.0 362.63h28.2M86.0 365.62h28.2M86.0 396.56h28.2M86.0 408.53h28.2M86.0 416.51h28.2M86.0 419.51h28.2M114.0 364.62h28.2M142.1 431.49h28.2M142.1 444.48h28.2M142.1 466.45h28.2M142.1 489.43h28.2M170.2 463.46h28.2M170.2 491.43h28.2M170.2 492.43h28.2M170.2 506.41h28.2M198.2 425.50h28.2M198.2 433.49h28.2M198.2 439.48h28.2M198.2 456.46h28.2M198.2 465.45h28.2M198.2 468.45h28.2M198.2 472.45h28.2M198.2 483.44h28.2M198.2 493.43h28.2M198.2 511.41h28.2M198.2 513.40h28.2" stroke="#ababff" stroke-width="1.30" fill="none"/>
<path d="M57.9 352.65h28.2M57.9 370.61h28.2M57.9 380.59h28.2M57.9 403.54h28.2M57.9 409.53h28.2M57.9 411.52h28.2M86.0 379.59h28.2M86.0 404.54h28.2M114.0 387.57h28.2M114.0 390.57h28.2M142.1 448.47h28.2M142.1 449.47h28.2M142.1 460.46h28.2M142.1 506.41h28.2M142.1 509.41h28.2M170.2 426.50h28.2M170.2 439.48h28.2M170.2 440.48h28.2M170.2 500.42h28.2" stroke="#6464ff" stroke-width="1.30" fill="none"/>
<path d="M57.9 356.64h28.2M86.0 342.67h28.2M86.0 345.67h28.2M86.0 387.57h28.2M86.0 390.57h28.2M86.0 417.51h28.2M114.0 374.60h28.2M170.2 335.69h28.2M57.9 469.45h28.2M142.1 470.45h28.2M142.1 499.42h28.2M170.2 427.49h28.2M170.2 443.48h28.2M170.2 509.41h28.2M170.2 511.41h28.2M198.2 476.44h28.2M198.2 507.41h28.2" stroke="#bcbcff" stroke-width="1.30" fill="none"/>
<path d="M57.9 358.64h28.2M57.9 362.63h28.2M57.9 374.60h28.2M57.9 390.57h28.2M57.9 399.55h28.2M57.9 402.54h28.2M57.9 417.51h28.2M86.0 401.54h28.2M86.0 414.52h28.2M114.0 376.60h28.2M114.0 396.56h28.2M142.1 450.47h28.2M142.1 507.41h28.2M142.1 510.41h28.2M170.2 425.50h28.2M170.2 432.49h28.2M170.2 437.48h28.2M198.2 464.46h28.2M198.2 500.42h28.2" stroke="#6d6dff" stroke-width="1.30" fill="none"/>
<path d="M57.9 359.64h28.2M57.9 360.63h28.2M57.9 361.63h28.2M57.9 371.61h28.2M57.9 372.61h28.2M57.9 395.56h28.2M57.9 406.53h28.2M57.9 410.52h28.2M57.9 421.50h28.2M86.0 382.59h28.2M86.0 403.54h28.2M86.0 413.52h28.2M114.0 338.68h28.2M114.0 377.60h28.2M114.0 380.59h28.2M114.0 391.57h28.2M142.1 456.46h28.2" stroke="#6868ff" stroke-width="1.30" fill="none"/>
<path d="M57.9 363.63h28.2" stroke="#4545ff" stroke-width="1.30" fill="none"/>
<path d="M57.9 364.62h28.2M57.9 365.62h28.2M57.9 393.56h28.2M57.9 420.50h28.2M86.0 351.65h28.2M86.0 353.65h28.2M86.0 369.61h28.2M86.0 421.50h28.2M114.0 378.59h28.2M114.0 382.59h28.2M114.0 397.55h28.2M142.1 451.47h28.2M142.1 484.43h28.2M142.1 508.41h28.2M170.2 475.44h28.2M198.2 422.50h28.2" stroke="#7171ff" stroke-width="1.30" fill="none"/>
<path d="M57.9 367.62h28.2M170.2 473.45h28.2" stroke="#3737ff" stroke-width="1.30" fill="none"/>
<path d="M57.9 377.60h28.2M57.9 397.55h28.2M57.9 398.55h28.2M57.9 412.52h28.2M86.0 338.68h28.2M86.0 363.63h28.2M86.0 371.61h28.2M86.0 380.59h28.2M86.0 386.58h28.2M86.0 392.56h28.2M114.0 347.66h28.2M114.0 356.64h28.2M114.0 384.58h28.2M114.0 400.55h28.2M142.1 447.47h28.2M142.1 478.44h28.2M142.1 483.44h28.2M142.1 486.43h28.2M142.1 495.42h28.2M142.1 515.40h28.2M170.2 433.49h28.2M170.2 485.43h28.2M170.2 489.43h28.2M170.2 498.42h28.2M198.2 450.47h28.2M198.2 461.46h28.2M198.2 463.46h28.2M198.2 470.45h28.2M198.2 486.43h28.2M198.2 488.43h28.2M198.2 501.42h28.2M198.2 517.40h28.2" stroke="#8c8cff" stroke-width="1.30" fill="none"/>
<path d="M57.9 379.59h28.2M86.0 364.62h28.2M86.0 367.62h28.2M86.0 384.58h28.2M86.0 389.57h28.2M114.0 385.58h28.2M114.0 418.51h28.2M114.0 419.51h28.2M142.1 491.43h28.2M170.2 428.49h28.2M170.2 441.48h28.2M170.2 442.48h28.2M170.2 450.47h28.2M170.2 453.47h28.2M170.2 481.44h28.2M170.2 493.43h28.2M198.2 484.43h28.2" stroke="#c1c1ff" stroke-width="1.30" fill="none"/>
<path d="M57.9 383.58h28.2M57.9 384.58h28.2M86.0 339.68h28.2M114.0 359.64h28.2M114.0 365.62h28.2M114.0 366.62h28.2M114.0 412.52h28.2M142.1 429.49h28.2M142.1 433.49h28.2M142.1 446.47h28.2M142.1 469.45h28.2M142.1 490.43h28.2M142.1 494.42h28.2M170.2 423.50h28.2M170.2 469.45h28.2M170.2 497.42h28.2M170.2 505.41h28.2M170.2 513.40h28.2M198.2 430.49h28.2M198.2 466.45h28.2M198.2 469.45h28.2M198.2 496.42h28.2M198.2 508.41h28.2M198.2 509.41h28.2" stroke="#a2a2ff" stroke-width="1.30" fill="none"/>
<path d="M57.9 396.56h28.2M57.9 415.51h28.2M114.0 342.67h28.2M142.1 453.47h28.2" stroke="#5656ff" stroke-width="1.30" fill="none"/>
<path d="M57.9 419.51h28.2M114.0 403.54h28.2M142.1 455.47h28.2" stroke="#5f5fff" stroke-width="1.30" fill="none"/>
<path d="M86.0 332.69h28.2M86.0 333.69h28.2M86.0 336.69h28.2M114.0 408.53h28.2M198.2 340.68h28.2M86.0 422.50h28.2M142.1 459.46h28.2M198.2 475.44h28.2" stroke="#d3d3ff" stroke-width="1.30" fill="none"/>
<path d="M86.0 334.69h28.2M114.0 420.50h28.2M142.1 425.50h28.2M142.1 463.46h28.2M142.1 493.43h28.2M170.2 430.49h28.2M170.2 479.44h28.2M170.2 514.40h28.2M198.2 455.47h28.2" stroke="#c5c5ff" stroke-width="1.30" fill="none"/>
<path d="M86.0 335.69h28.2M114.0 407.53h28.2M114.0 421.50h28.2M170.2 333.69h28.2M86.0 423.50h28.2M114.0 460.46h28.2M142.1 492.43h28.2M170.2 507.41h28.2" stroke="#cacaff" stroke-width="1.30" fill="none"/>
<path d="M86.0 337.68h28.2M142.1 501.42h28.2M198.2 482.44h28.2" stroke="#d7d7ff" stroke-width="1.30" fill="none"/>
<path d="M86.0 340.68h28.2M86.0 394.56h28.2M86.0 395.56h28.2M86.0 397.55h28.2M86.0 410.52h28.2M114.0 331.70h28.2M114.0 371.61h28.2M114.0 410.52h28.2M114.0 411.52h28.2M142.1 464.46h28.2M142.1 465.45h28.2M170.2 488.43h28.2M170.2 494.42h28.2M198.2 428.49h28.2M198.2 440.48h28.2M198.2 446.47h28.2M198.2 477.44h28.2M198.2 492.43h28.2" stroke="#afafff" stroke-width="1.30" fill="none"/>
<path d="M86.0 346.66h28.2M86.0 388.57h28.2M114.0 370.61h28.2M114.0 409.53h28.2M170.2 334.69h28.2M57.9 467.45h28.2M57.9 468.45h28.2M170.2 429.49h28.2M170.2 480.44h28.2" stroke="#ceceff" stroke-width="1.30" fill="none"/>
<path d="M86.0 347.66h28.2M170.2 343.67h28.2M57.9 465.45h28.2M57.9 484.43h28.2M57.9 485.43h28.2M114.0 431.49h28.2M114.0 432.49h28.2M114.0 441.48h28.2M142.1 422.50h28.2" stroke="#ffe9e9" stroke-width="1.30" fill="none"/>
<path d="M86.0 358.64h28.2M86.0 359.64h28.2M86.0 368.62h28.2M86.0 385.58h28.2M86.0 398.55h28.2M114.0 330.70h28.2M114.0 344.67h28.2M114.0 345.67h28.2M114.0 352.65h28.2M114.0 353.65h28.2M114.0 363.63h28.2M114.0 372.61h28.2M114.0 404.54h28.2M142.1 440.48h28.2M142.1 497.42h28.2M170.2 454.47h28.2M170.2 456.46h28.2M170.2 461.46h28.2M170.2 483.44h28.2M170.2 486.43h28.2M170.2 503.42h28.2M198.2 432.49h28.2M198.2 437.48h28.2M198.2 449.47h28.2M198.2 452.47h28.2M198.2 480.44h28.2M198.2 481.44h28.2M198.2 495.42h28.2M198.2 506.41h28.2" stroke="#9999ff" stroke-width="1.30" fill="none"/>
<path d="M114.0 341.67h28.2M114.0 399.55h28.2M198.2 444.48h28.2" stroke="#4e4eff" stroke-width="1.30" fill="none"/>
<path d="M114.0 373.61h28.2M114.0 406.53h28.2M142.1 443.48h28.2M142.1 468.45h28.2M142.1 476.44h28.2M142.1 500.42h28.2M142.1 502.42h28.2M170.2 444.48h28.2M170.2 512.41h28.2M198.2 431.49h28.2M198.2 473.45h28.2" stroke="#b4b4ff" stroke-width="1.30" fill="none"/>
<path d="M114.0 392.56h28.2M170.2 474.45h28.2M198.2 494.42h28.2" stroke="#4949ff" stroke-width="1.30" fill="none"/>
<path d="M114.0 393.56h28.2M198.2 459.46h28.2" stroke="#3c3cff" stroke-width="1.30" fill="none"/>
<path d="M114.0 413.52h28.2M198.2 339.68h28.2M198.2 408.53h28.2M86.0 424.50h28.2M170.2 458.46h28.2" stroke="#e0e0ff" stroke-width="1.30" fill="none"/>
<path d="M114.0 414.52h28.2M86.0 496.42h28.2M142.1 472.45h28.2" stroke="#e9e9ff" stroke-width="1.30" fill="none"/>
<path d="M114.0 416.51h28.2M198.2 405.54h28.2M86.0 495.42h28.2M86.0 507.41h28.2M86.0 508.41h28.2M114.0 461.46h28.2" stroke="#ededff" stroke-width="1.30" fill="none"/>
<path d="M114.0 417.51h28.2M142.1 333.69h28.2M198.2 407.53h28.2M198.2 409.53h28.2M86.0 509.41h28.2" stroke="#f2f2ff" stroke-width="1.30" fill="none"/>
<path d="M142.1 330.70h28.2M142.1 334.69h28.2M170.2 341.67h28.2" stroke="#ffffff" stroke-width="1.30" fill="none"/>
<path d="M142.1 331.70h28.2M198.2 406.53h28.2M86.0 506.41h28.2" stroke="#f6f6ff" stroke-width="1.30" fill="none"/>
<path d="M142.1 332.69h28.2M86.0 426.50h28.2" stroke="#fffbfb" stroke-width="1.30" fill="none"/>
<path d="M142.1 335.69h28.2M142.1 363.63h28.2M142.1 390.57h28.2M142.1 411.52h28.2M170.2 384.58h28.2M170.2 389.57h28.2M198.2 371.61h28.2M198.2 377.60h28.2M57.9 433.49h28.2M57.9 448.47h28.2M57.9 460.46h28.2M57.9 501.42h28.2M86.0 436.48h28.2M86.0 442.48h28.2M86.0 482.44h28.2M114.0 467.45h28.2" stroke="#ff7a7a" stroke-width="1.30" fill="none"/>
<path d="M142.1 336.69h28.2M142.1 382.59h28.2M142.1 400.55h28.2M170.2 331.70h28.2M170.2 387.57h28.2M57.9 436.48h28.2M57.9 441.48h28.2M57.9 456.46h28.2M86.0 455.47h28.2M114.0 484.43h28.2" stroke="#ff6868" stroke-width="1.30" fill="none"/>
<path d="M142.1 337.68h28.2M142.1 361.63h28.2M142.1 367.62h28.2M142.1 381.59h28.2M170.2 372.61h28.2M170.2 375.60h28.2M170.2 412.52h28.2M198.2 370.61h28.2M198.2 391.57h28.2M198.2 421.50h28.2M57.9 504.41h28.2M57.9 510.41h28.2M86.0 434.49h28.2M86.0 438.48h28.2M114.0 444.48h28.2M114.0 452.47h28.2M114.0 457.46h28.2" stroke="#ffa2a2" stroke-width="1.30" fill="none"/>
<path d="M142.1 338.68h28.2M142.1 347.66h28.2M142.1 374.60h28.2M142.1 375.60h28.2M142.1 378.59h28.2M142.1 409.53h28.2M170.2 395.56h28.2M170.2 398.55h28.2M170.2 410.52h28.2M198.2 332.69h28.2M198.2 363.63h28.2M198.2 372.61h28.2M198.2 380.59h28.2M198.2 394.56h28.2M57.9 422.50h28.2M57.9 455.47h28.2M57.9 498.42h28.2M86.0 429.49h28.2M86.0 430.49h28.2M86.0 435.49h28.2M86.0 450.47h28.2M86.0 475.44h28.2M86.0 499.42h28.2M86.0 503.42h28.2" stroke="#ff9090" stroke-width="1.30" fill="none"/>
<path d="M142.1 339.68h28.2M86.0 458.46h28.2M114.0 475.44h28.2M114.0 492.43h28.2" stroke="#ff2a2a" stroke-width="1.30" fill="none"/>
<path d="M142.1 340.68h28.2M142.1 344.67h28.2M57.9 426.50h28.2M57.9 443.48h28.2" stroke="#ff2f2f" stroke-width="1.30" fill="none"/>
<path d="M142.1 341.67h28.2M142.1 342.67h28.2" stroke="#ff0202" stroke-width="1.30" fill="none"/>
<path d="M142.1 343.67h28.2M114.0 494.42h28.2M114.0 508.41h28.2M114.0 509.41h28.2" stroke="#ff1818" stroke-width="1.30" fill="none"/>
<path d="M142.1 345.67h28.2M142.1 346.66h28.2M198.2 334.69h28.2M198.2 335.69h28.2M86.0 464.46h28.2M86.0 465.45h28.2M114.0 493.43h28.2" stroke="#ff0000" stroke-width="1.30" fill="none"/>
<path d="M142.1 348.66h28.2M142.1 357.64h28.2M142.1 372.61h28.2M170.2 364.62h28.2M170.2 369.61h28.2M198.2 417.51h28.2M198.2 419.51h28.2M57.9 508.41h28.2M57.9 511.41h28.2M86.0 460.46h28.2M86.0 461.46h28.2M86.0 504.41h28.2M114.0 423.50h28.2M114.0 451.47h28.2" stroke="#ffabab" stroke-width="1.30" fill="none"/>
<path d="M142.1 349.66h28.2M142.1 350.66h28.2M142.1 359.64h28.2M142.1 364.62h28.2M142.1 369.61h28.2M142.1 376.60h28.2M142.1 380.59h28.2M142.1 406.53h28.2M170.2 371.61h28.2M170.2 392.56h28.2M170.2 397.55h28.2M170.2 399.55h28.2M170.2 402.54h28.2M198.2 353.65h28.2M198.2 357.64h28.2M198.2 360.63h28.2M198.2 364.62h28.2M198.2 384.58h28.2M198.2 389.57h28.2M198.2 393.56h28.2M198.2 395.56h28.2M57.9 451.47h28.2M86.0 449.47h28.2M86.0 472.45h28.2M86.0 478.44h28.2M114.0 425.50h28.2M114.0 458.46h28.2" stroke="#ff8c8c" stroke-width="1.30" fill="none"/>
<path d="M142.1 351.65h28.2M142.1 352.65h28.2M142.1 365.62h28.2M142.1 368.62h28.2M170.2 378.59h28.2M198.2 342.67h28.2M198.2 351.65h28.2M198.2 367.62h28.2M198.2 404.54h28.2M57.9 453.47h28.2M57.9 502.42h28.2M57.9 503.42h28.2M86.0 440.48h28.2M86.0 489.43h28.2M86.0 501.42h28.2M114.0 426.50h28.2M114.0 427.49h28.2M114.0 454.47h28.2" stroke="#ff9d9d" stroke-width="1.30" fill="none"/>
<path d="M142.1 353.65h28.2M170.2 344.67h28.2M170.2 382.59h28.2M57.9 472.45h28.2M57.9 479.44h28.2M57.9 488.43h28.2M57.9 496.42h28.2M57.9 513.40h28.2M57.9 515.40h28.2M86.0 511.41h28.2" stroke="#ffc5c5" stroke-width="1.30" fill="none"/>
<path d="M142.1 354.65h28.2M142.1 386.58h28.2M142.1 421.50h28.2M170.2 403.54h28.2M170.2 411.52h28.2M198.2 350.66h28.2M198.2 352.65h28.2M198.2 418.51h28.2M57.9 442.48h28.2M57.9 452.47h28.2M57.9 505.41h28.2M57.9 507.41h28.2M57.9 512.41h28.2M86.0 428.49h28.2M86.0 476.44h28.2M86.0 494.42h28.2M86.0 500.42h28.2M114.0 453.47h28.2" stroke="#ffa6a6" stroke-width="1.30" fill="none"/>
<path d="M142.1 355.64h28.2M142.1 420.50h28.2M170.2 362.63h28.2M170.2 391.57h28.2M198.2 358.64h28.2M198.2 362.63h28.2M198.2 401.54h28.2M198.2 420.50h28.2M86.0 515.40h28.2M114.0 422.50h28.2M114.0 443.48h28.2M114.0 445.48h28.2" stroke="#ffb4b4" stroke-width="1.30" fill="none"/>
<path d="M142.1 356.64h28.2M142.1 362.63h28.2M142.1 407.53h28.2M142.1 408.53h28.2M170.2 361.63h28.2M170.2 363.63h28.2M170.2 374.60h28.2M170.2 377.60h28.2M170.2 400.55h28.2M170.2 406.53h28.2M170.2 409.53h28.2M198.2 361.63h28.2M198.2 374.60h28.2M198.2 390.57h28.2M198.2 400.55h28.2M198.2 402.54h28.2M198.2 403.54h28.2M57.9 444.48h28.2M57.9 450.47h28.2M57.9 509.41h28.2M86.0 437.48h28.2M86.0 502.42h28.2M114.0 455.47h28.2M114.0 459.46h28.2" stroke="#ff9999" stroke-width="1.30" fill="none"/>
<path d="M142.1 358.64h28.2M142.1 366.62h28.2M142.1 373.61h28.2M142.1 383.58h28.2M142.1 384.58h28.2M170.2 365.62h28.2M170.2 368.62h28.2M170.2 379.59h28.2M198.2 354.65h28.2M198.2 375.60h28.2M198.2 379.59h28.2M57.9 449.47h28.2M57.9 497.42h28.2M86.0 432.49h28.2M86.0 474.45h28.2" stroke="#ff9595" stroke-width="1.30" fill="none"/>
<path d="M142.1 360.63h28.2M142.1 370.61h28.2M142.1 412.52h28.2M142.1 413.52h28.2M170.2 355.64h28.2M170.2 366.62h28.2M170.2 390.57h28.2M170.2 401.54h28.2M170.2 405.54h28.2M170.2 414.52h28.2M198.2 378.59h28.2M57.9 439.48h28.2M57.9 446.47h28.2M57.9 454.47h28.2M86.0 431.49h28.2M86.0 447.47h28.2M114.0 506.41h28.2" stroke="#ff8383" stroke-width="1.30" fill="none"/>
<path d="M142.1 371.61h28.2M170.2 383.58h28.2M170.2 407.53h28.2M198.2 348.66h28.2M198.2 356.64h28.2M198.2 392.56h28.2M57.9 438.48h28.2M57.9 459.46h28.2M86.0 443.48h28.2M86.0 483.44h28.2M114.0 513.40h28.2" stroke="#ff8787" stroke-width="1.30" fill="none"/>
<path d="M142.1 377.60h28.2M142.1 397.55h28.2M170.2 351.65h28.2M198.2 338.68h28.2M57.9 458.46h28.2M114.0 476.44h28.2M114.0 479.44h28.2M114.0 480.44h28.2" stroke="#ff5656" stroke-width="1.30" fill="none"/>
<path d="M142.1 379.59h28.2M170.2 380.59h28.2M170.2 416.51h28.2M198.2 344.67h28.2M198.2 376.60h28.2M198.2 396.56h28.2M198.2 399.55h28.2M57.9 481.44h28.2M57.9 506.41h28.2M86.0 444.48h28.2M86.0 492.43h28.2M86.0 493.43h28.2M86.0 505.41h28.2M114.0 435.49h28.2M114.0 446.47h28.2M114.0 448.47h28.2M114.0 456.46h28.2" stroke="#ffafaf" stroke-width="1.30" fill="none"/>
<path d="M142.1 385.58h28.2M170.2 373.61h28.2M198.2 341.67h28.2M198.2 397.55h28.2M57.9 514.40h28.2M57.9 517.40h28.2M86.0 517.40h28.2" stroke="#ffbcbc" stroke-width="1.30" fill="none"/>
<path d="M142.1 387.57h28.2M142.1 394.56h28.2M142.1 395.56h28.2M142.1 399.55h28.2M142.1 405.54h28.2M170.2 359.64h28.2M170.2 360.63h28.2M170.2 408.53h28.2M170.2 413.52h28.2M198.2 373.61h28.2M57.9 424.50h28.2M86.0 451.47h28.2M114.0 482.44h28.2M114.0 512.41h28.2" stroke="#ff6464" stroke-width="1.30" fill="none"/>
<path d="M142.1 388.57h28.2M142.1 392.56h28.2M142.1 393.56h28.2M142.1 398.55h28.2M170.2 350.66h28.2M170.2 394.56h28.2M170.2 420.50h28.2M57.9 423.50h28.2M86.0 452.47h28.2M86.0 456.46h28.2M86.0 486.43h28.2M114.0 462.46h28.2M114.0 463.46h28.2M114.0 468.45h28.2M114.0 469.45h28.2M114.0 474.45h28.2M114.0 477.44h28.2M114.0 503.42h28.2M114.0 507.41h28.2" stroke="#ff5b5b" stroke-width="1.30" fill="none"/>
<path d="M142.1 389.57h28.2M170.2 358.64h28.2M198.2 330.70h28.2M198.2 369.61h28.2M86.0 488.43h28.2" stroke="#ff6d6d" stroke-width="1.30" fill="none"/>
<path d="M142.1 391.57h28.2M170.2 367.62h28.2M170.2 370.61h28.2M170.2 396.56h28.2M198.2 349.66h28.2M198.2 365.62h28.2M57.9 434.49h28.2M57.9 499.42h28.2M86.0 448.47h28.2M86.0 454.47h28.2M86.0 471.45h28.2M86.0 473.45h28.2M86.0 477.44h28.2M86.0 484.43h28.2" stroke="#ff7e7e" stroke-width="1.30" fill="none"/>
<path d="M142.1 396.56h28.2M142.1 402.54h28.2M142.1 415.51h28.2M170.2 356.64h28.2M170.2 385.58h28.2M170.2 415.51h28.2M114.0 486.43h28.2M114.0 514.40h28.2M114.0 515.40h28.2" stroke="#ff4e4e" stroke-width="1.30" fill="none"/>
<path d="M142.1 401.54h28.2M170.2 349.66h28.2M57.9 428.49h28.2" stroke="#ff3333" stroke-width="1.30" fill="none"/>
<path d="M142.1 403.54h28.2M170.2 386.58h28.2M198.2 337.68h28.2M57.9 457.46h28.2M114.0 497.42h28.2" stroke="#ff3737" stroke-width="1.30" fill="none"/>
<path d="M142.1 404.54h28.2M170.2 404.54h28.2M198.2 382.59h28.2M57.9 435.49h28.2M57.9 440.48h28.2M86.0 453.47h28.2M86.0 485.43h28.2" stroke="#ff7676" stroke-width="1.30" fill="none"/>
<path d="M142.1 410.52h28.2M170.2 330.70h28.2M170.2 354.65h28.2M170.2 357.64h28.2M170.2 388.57h28.2M170.2 393.56h28.2M198.2 331.70h28.2M198.2 366.62h28.2M198.2 368.62h28.2M198.2 381.59h28.2M198.2 383.58h28.2M57.9 437.48h28.2M57.9 447.47h28.2M57.9 500.42h28.2M86.0 470.45h28.2M86.0 481.44h28.2M86.0 487.43h28.2" stroke="#ff7171" stroke-width="1.30" fill="none"/>
<path d="M142.1 414.52h28.2M170.2 352.65h28.2M170.2 419.51h28.2M114.0 465.45h28.2M114.0 471.45h28.2" stroke="#ff4040" stroke-width="1.30" fill="none"/>
<path d="M142.1 416.51h28.2M198.2 345.67h28.2M198.2 410.52h28.2M198.2 415.51h28.2M198.2 416.51h28.2M57.9 475.44h28.2M57.9 477.44h28.2" stroke="#ffcece" stroke-width="1.30" fill="none"/>
<path d="M142.1 417.51h28.2M142.1 418.51h28.2M170.2 376.60h28.2M198.2 398.55h28.2M57.9 470.45h28.2M57.9 495.42h28.2M86.0 441.48h28.2M86.0 445.48h28.2M86.0 446.47h28.2M86.0 510.41h28.2M86.0 512.41h28.2M86.0 514.40h28.2M114.0 450.47h28.2" stroke="#ffc1c1" stroke-width="1.30" fill="none"/>
<path d="M142.1 419.51h28.2M198.2 411.52h28.2M198.2 414.52h28.2M57.9 473.45h28.2M57.9 489.43h28.2M86.0 439.48h28.2M114.0 437.48h28.2M114.0 449.47h28.2" stroke="#ffd3d3" stroke-width="1.30" fill="none"/>
<path d="M170.2 332.69h28.2M170.2 348.66h28.2M198.2 355.64h28.2M86.0 457.46h28.2M86.0 479.44h28.2M114.0 424.50h28.2M114.0 464.46h28.2M114.0 473.45h28.2M114.0 483.44h28.2M114.0 485.43h28.2M114.0 504.41h28.2M114.0 505.41h28.2M114.0 511.41h28.2" stroke="#ff5f5f" stroke-width="1.30" fill="none"/>
<path d="M170.2 336.69h28.2M198.2 359.64h28.2M86.0 433.49h28.2M86.0 490.43h28.2M86.0 516.40h28.2M114.0 447.47h28.2" stroke="#ffb8b8" stroke-width="1.30" fill="none"/>
<path d="M170.2 337.68h28.2M170.2 338.68h28.2M170.2 345.67h28.2M170.2 346.66h28.2M57.9 478.44h28.2M57.9 480.44h28.2M57.9 516.40h28.2M114.0 436.48h28.2" stroke="#ffcaca" stroke-width="1.30" fill="none"/>
<path d="M170.2 339.68h28.2M170.2 340.68h28.2M198.2 347.66h28.2M86.0 497.42h28.2M86.0 498.42h28.2M142.1 473.45h28.2" stroke="#fbfbff" stroke-width="1.30" fill="none"/>
<path d="M170.2 342.67h28.2M198.2 412.52h28.2M57.9 476.44h28.2M57.9 490.43h28.2M57.9 492.43h28.2M57.9 494.42h28.2M86.0 513.40h28.2M114.0 438.48h28.2" stroke="#ffd7d7" stroke-width="1.30" fill="none"/>
<path d="M170.2 347.66h28.2M170.2 353.65h28.2M57.9 430.49h28.2M86.0 480.44h28.2M114.0 516.40h28.2" stroke="#ff5252" stroke-width="1.30" fill="none"/>
<path d="M170.2 381.59h28.2M198.2 386.58h28.2M57.9 461.46h28.2M57.9 464.46h28.2M57.9 483.44h28.2M57.9 486.43h28.2M114.0 428.49h28.2M114.0 430.49h28.2M114.0 434.49h28.2M114.0 439.48h28.2M114.0 440.48h28.2M170.2 459.46h28.2M170.2 470.45h28.2" stroke="#ffe4e4" stroke-width="1.30" fill="none"/>
<path d="M170.2 417.51h28.2M198.2 336.69h28.2M86.0 459.46h28.2M114.0 470.45h28.2M114.0 499.42h28.2M114.0 500.42h28.2M114.0 517.40h28.2" stroke="#ff4949" stroke-width="1.30" fill="none"/>
<path d="M170.2 418.51h28.2M57.9 427.49h28.2M114.0 489.43h28.2" stroke="#ff1414" stroke-width="1.30" fill="none"/>
<path d="M170.2 421.50h28.2M57.9 432.49h28.2M114.0 466.45h28.2M114.0 472.45h28.2M114.0 481.44h28.2" stroke="#ff4545" stroke-width="1.30" fill="none"/>
<path d="M198.2 333.69h28.2M114.0 488.43h28.2M114.0 498.42h28.2" stroke="#ff1d1d" stroke-width="1.30" fill="none"/>
<path d="M198.2 343.67h28.2M198.2 346.66h28.2M198.2 388.57h28.2M57.9 466.45h28.2M57.9 471.45h28.2M86.0 491.43h28.2M142.1 423.50h28.2" stroke="#ffdcdc" stroke-width="1.30" fill="none"/>
<path d="M198.2 385.58h28.2" stroke="#fff6f6" stroke-width="1.30" fill="none"/>
<path d="M198.2 387.57h28.2M86.0 425.50h28.2M114.0 433.49h28.2" stroke="#ffeded" stroke-width="1.30" fill="none"/>
<path d="M198.2 413.52h28.2M57.9 482.44h28.2M57.9 487.43h28.2M57.9 491.43h28.2M57.9 493.43h28.2M114.0 429.49h28.2M114.0 442.48h28.2" stroke="#ffe0e0" stroke-width="1.30" fill="none"/>
<path d="M57.9 425.50h28.2M57.9 431.49h28.2M114.0 478.44h28.2M114.0 491.43h28.2M114.0 501.42h28.2" stroke="#ff3c3c" stroke-width="1.30" fill="none"/>
<path d="M57.9 429.49h28.2M86.0 468.45h28.2M114.0 490.43h28.2" stroke="#ff1010" stroke-width="1.30" fill="none"/>
<path d="M57.9 445.48h28.2M86.0 463.46h28.2" stroke="#ff2121" stroke-width="1.30" fill="none"/>
<path d="M57.9 462.46h28.2M57.9 463.46h28.2M57.9 474.45h28.2M86.0 427.49h28.2" stroke="#fff2f2" stroke-width="1.30" fill="none"/>
<path d="M86.0 462.46h28.2M114.0 510.41h28.2" stroke="#ff0707" stroke-width="1.30" fill="none"/>
<path d="M86.0 466.45h28.2M86.0 467.45h28.2" stroke="#ff0b0b" stroke-width="1.30" fill="none"/>
<path d="M86.0 469.45h28.2M114.0 487.43h28.2M114.0 495.42h28.2M114.0 496.42h28.2M114.0 502.42h28.2" stroke="#ff2626" stroke-width="1.30" fill="none"/>
<path d="M170.2 471.45h28.2" stroke="#2a2aff" stroke-width="1.30" fill="none"/>
<path d="M170.2 472.45h28.2M198.2 458.46h28.2" stroke="#1818ff" stroke-width="1.30" fill="none"/>
<path d="M198.2 457.46h28.2" stroke="#3333ff" stroke-width="1.30" fill="none"/>
<defs><linearGradient id="cbE" x1="0" y1="0" x2="0" y2="1"><stop offset="0" stop-color="#ff0000"/><stop offset="0.5" stop-color="#ffffff"/><stop offset="1" stop-color="#0000ff"/></linearGradient></defs>
<rect x="229" y="330.2" width="6.6" height="91.4" fill="url(#cbE)"/>
<text x="239.6" y="340.0" font-size="9.6" font-weight="bold" text-anchor="start" fill="#000" >2</text>
<text x="239.6" y="359.9" font-size="9.6" font-weight="bold" text-anchor="start" fill="#000" >1</text>
<text x="239.6" y="379.2" font-size="9.6" font-weight="bold" text-anchor="start" fill="#000" >0</text>
<text x="239.6" y="398.59999999999997" font-size="9.6" font-weight="bold" text-anchor="start" fill="#000" >-1</text>
<text x="239.6" y="418.09999999999997" font-size="9.6" font-weight="bold" text-anchor="start" fill="#000" >-2</text>
<path d="M57.9 331.0H55.5V331.6H57.9M55.5 331.3H54.3V332.0H57.9M57.9 330.4H53.1V331.7H54.3M57.9 333.1H56.1V333.7H57.9M56.1 333.4H55.5V334.0H57.9M57.9 332.3H54.3V333.7H55.5M54.3 333.0H53.1V334.6H57.9M53.1 331.0H51.9V333.8H53.1M57.9 335.4H53.6V336.2H57.9M57.9 336.9H53.6V337.7H57.9M53.6 335.8H52.4V337.3H53.6M51.9 332.4H50.7V336.5H52.4M57.9 338.6H55.6V339.3H57.9M55.6 339.0H54.4V339.8H57.9M54.4 339.4H53.2V340.3H57.9M57.9 341.5H56.1V342.1H57.9M57.9 341.0H55.5V341.8H56.1M55.5 341.4H54.3V342.9H57.9M54.3 342.1H53.1V343.7H57.9M57.9 344.8H53.6V345.6H57.9M53.1 342.9H51.9V345.2H53.6M53.2 339.8H50.7V344.1H51.9M57.9 346.2H53.9V346.8H57.9M57.9 349.2H55.3V350.3H57.9M57.9 348.2H54.1V349.8H55.3M57.9 347.4H52.9V349.0H54.1M52.9 348.2H51.7V351.3H57.9M57.9 354.1H54.5V355.0H57.9M57.9 353.1H53.3V354.6H54.5M57.9 352.1H52.1V353.8H53.3M57.9 356.3H54.7V357.0H57.9M57.9 355.8H53.5V356.6H54.7M57.9 357.6H53.6V358.3H57.9M53.5 356.2H52.3V358.0H53.6M52.1 353.0H50.6V357.1H52.3M51.7 349.8H49.4V355.0H50.6M53.9 346.5H48.2V352.4H49.4M57.9 359.8H53.6V360.6H57.9M57.9 359.2H52.4V360.2H53.6M57.9 361.8H55.7V362.4H57.9M57.9 361.2H54.5V362.1H55.7M54.5 361.6H53.3V362.8H57.9M57.9 363.6H54.5V364.3H57.9M54.5 363.9H53.3V364.9H57.9M53.3 362.2H52.1V364.4H53.3M57.9 366.6H56.1V367.2H57.9M56.1 366.9H55.7V367.8H57.9M55.7 367.4H54.5V368.5H57.9M54.5 367.9H53.3V369.1H57.9M57.9 365.7H52.1V368.5H53.3M52.1 363.3H50.9V367.1H52.1M52.4 359.7H49.7V365.2H50.9M57.9 371.0H55.2V371.7H57.9M57.9 370.4H54.0V371.4H55.2M57.9 369.9H52.8V370.9H54.0M49.7 362.5H48.5V370.4H52.8M57.9 372.1H53.7V372.8H57.9M57.9 373.6H54.5V374.2H57.9M54.5 373.9H53.3V375.1H57.9M57.9 375.7H54.5V376.3H57.9M57.9 378.1H55.7V378.7H57.9M57.9 377.3H54.5V378.4H55.7M54.5 376.0H53.3V377.8H54.5M53.3 374.5H52.1V376.9H53.3M53.7 372.4H50.9V375.7H52.1M57.9 379.8H55.7V380.5H57.9M55.7 380.1H54.5V380.9H57.9M57.9 379.2H53.3V380.5H54.5M57.9 381.5H53.9V382.4H57.9M53.9 381.9H52.7V383.4H57.9M57.9 385.5H55.1V386.3H57.9M57.9 385.0H53.9V385.9H55.1M57.9 384.4H52.7V385.4H53.9M52.7 382.7H51.4V384.9H52.7M57.9 387.3H54.5V388.1H57.9M54.5 387.7H53.3V388.6H57.9M53.3 388.1H51.8V389.0H57.9M51.4 383.8H50.1V388.6H51.8M57.9 389.7H53.4V390.7H57.9M57.9 392.1H54.5V392.6H57.9M57.9 391.4H53.3V392.4H54.5M57.9 393.4H53.4V394.1H57.9M57.9 394.7H55.1V395.4H57.9M55.1 395.0H53.9V396.2H57.9M53.9 395.6H52.7V396.9H57.9M57.9 399.0H56.1V399.6H57.9M56.1 399.3H56.1V400.2H57.9M57.9 398.3H55.5V399.8H56.1M57.9 397.5H54.3V399.0H55.5M57.9 400.9H56.1V401.5H57.9M57.9 402.0H56.1V402.7H57.9M56.1 401.2H55.5V402.4H56.1M57.9 404.8H56.1V405.4H57.9M57.9 404.3H56.1V405.1H56.1M57.9 403.6H55.5V404.7H56.1M55.5 401.8H54.3V404.1H55.5M54.3 398.3H53.1V403.0H54.3M57.9 406.1H54.4V406.7H57.9M54.4 406.4H53.2V407.5H57.9M53.1 400.6H51.9V407.0H53.2M52.7 396.3H50.7V403.8H51.9M53.4 393.8H49.5V400.0H50.7M53.3 391.9H48.3V396.9H49.5M53.4 390.2H47.1V394.4H48.3M50.1 386.2H45.0V392.3H47.1M53.3 379.9H43.8V389.2H45.0M57.9 408.3H53.8V409.0H57.9M57.9 409.8H54.1V410.6H57.9M54.1 410.2H52.9V411.5H57.9M57.9 413.1H54.7V413.7H57.9M57.9 414.3H54.7V415.2H57.9M54.7 413.4H53.5V414.7H54.7M57.9 412.2H52.3V414.0H53.5M52.9 410.8H51.1V413.1H52.3M57.9 417.5H55.1V418.4H57.9M57.9 416.8H53.9V417.9H55.1M57.9 416.1H52.7V417.4H53.9M57.9 419.7H56.1V420.4H57.9M57.9 419.2H54.9V420.1H56.1M54.9 419.6H53.7V421.1H57.9M53.7 420.4H52.5V421.7H57.9M52.7 416.7H51.3V421.0H52.5M51.1 412.0H49.9V418.9H51.3M53.8 408.6H48.7V415.4H49.9M43.8 384.5H41.9V412.0H48.7M50.9 374.1H39.1V398.3H41.9M48.5 366.4H37.4V386.2H39.1M48.2 349.4H35.7V376.3H37.4M50.7 342.0H34.1V362.9H35.7M50.7 334.5H32.9V352.4H34.1M57.9 422.3H56.1V422.9H57.9M56.1 422.6H55.1V423.6H57.9M55.1 423.1H53.9V424.1H57.9M53.9 423.6H52.7V424.9H57.9M57.9 425.7H55.2V426.3H57.9M57.9 427.0H55.2V427.6H57.9M55.2 426.0H54.0V427.3H55.2M54.0 426.7H52.8V428.1H57.9M57.9 428.8H55.3V429.4H57.9M57.9 429.9H55.3V430.5H57.9M55.3 429.1H54.1V430.2H55.3M57.9 431.3H54.1V432.1H57.9M54.1 429.7H52.9V431.7H54.1M57.9 432.9H54.8V433.5H57.9M54.8 433.2H53.6V433.8H57.9M52.9 430.7H51.7V433.5H53.6M57.9 434.5H55.2V435.4H57.9M55.2 434.9H54.0V436.1H57.9M57.9 437.4H55.2V438.2H57.9M57.9 436.7H54.0V437.8H55.2M54.0 435.5H52.8V437.2H54.0M52.8 436.4H51.6V439.2H57.9M51.7 432.1H49.7V437.8H51.6M52.8 427.4H48.3V434.9H49.7M52.7 424.3H47.1V431.2H48.3M57.9 440.3H53.9V440.8H57.9M57.9 441.7H55.0V442.3H57.9M57.9 441.2H53.8V442.0H55.0M53.9 440.6H52.6V441.6H53.8M57.9 444.1H54.2V444.9H57.9M54.2 444.5H53.0V445.9H57.9M57.9 443.3H51.8V445.2H53.0M57.9 447.4H54.7V448.0H57.9M57.9 446.6H53.5V447.7H54.7M57.9 448.5H54.2V449.1H57.9M57.9 449.8H56.1V450.5H57.9M56.1 450.2H55.4V451.1H57.9M55.4 450.6H54.2V451.9H57.9M54.2 448.8H53.0V451.2H54.2M53.5 447.2H51.8V450.0H53.0M51.8 444.2H50.6V448.6H51.8M57.9 453.2H54.3V454.0H57.9M57.9 452.5H53.1V453.6H54.3M50.6 446.4H49.4V453.0H53.1M52.6 441.1H48.2V449.7H49.4M57.9 455.0H54.4V455.9H57.9M57.9 457.4H55.6V458.0H57.9M57.9 456.6H54.4V457.7H55.6M54.4 455.5H53.2V457.1H54.4M53.2 456.3H52.0V458.6H57.9M57.9 460.1H56.1V460.7H57.9M56.1 460.4H55.2V461.2H57.9M57.9 459.3H54.0V460.8H55.2M54.0 460.0H52.8V461.8H57.9M52.0 457.4H50.5V460.9H52.8M57.9 462.7H55.6V463.4H57.9M55.6 463.1H54.4V463.8H57.9M57.9 462.3H53.2V463.4H54.4M53.2 462.8H52.0V464.2H57.9M57.9 466.9H55.5V467.7H57.9M55.5 467.3H54.3V468.1H57.9M57.9 466.0H53.1V467.7H54.3M57.9 465.0H51.9V466.8H53.1M57.9 468.4H54.3V469.1H57.9M57.9 470.6H55.5V471.4H57.9M57.9 469.9H54.3V471.0H55.5M54.3 468.8H53.1V470.4H54.3M57.9 471.9H54.5V472.6H57.9M54.5 472.3H53.3V473.5H57.9M53.1 469.6H51.9V472.9H53.3M51.9 465.9H50.7V471.2H51.9M52.0 463.5H49.5V468.6H50.7M50.5 459.2H46.6V466.1H49.5M57.9 476.2H56.1V476.9H57.9M57.9 475.4H55.2V476.6H56.1M57.9 474.5H54.0V476.0H55.2M57.9 477.8H54.0V478.5H57.9M54.0 475.3H52.8V478.1H54.0M57.9 479.6H55.8V480.2H57.9M55.8 479.9H54.6V480.5H57.9M57.9 478.9H53.4V480.2H54.6M52.8 476.7H51.6V479.5H53.4M57.9 480.8H55.3V481.5H57.9M55.3 481.2H54.1V482.4H57.9M54.1 481.8H52.9V483.1H57.9M51.6 478.1H50.4V482.4H52.9M57.9 484.4H55.1V485.3H57.9M55.1 484.9H53.9V486.1H57.9M57.9 483.8H52.7V485.5H53.9M57.9 487.5H54.0V488.6H57.9M57.9 486.7H52.8V488.0H54.0M57.9 489.4H53.7V490.0H57.9M57.9 491.3H54.6V491.9H57.9M57.9 490.6H53.4V491.6H54.6M53.7 489.7H52.2V491.1H53.4M57.9 492.7H53.4V493.8H57.9M57.9 494.4H55.8V495.0H57.9M57.9 495.8H56.1V496.5H57.9M56.1 496.2H56.1V497.1H57.9M56.1 496.6H55.8V497.8H57.9M55.8 494.7H54.6V497.2H55.8M54.6 496.0H53.4V498.8H57.9M53.4 493.2H52.2V497.4H53.4M52.2 490.4H51.0V495.3H52.2M52.8 487.4H49.8V492.8H51.0M52.7 484.7H48.6V490.1H49.8M57.9 499.5H54.1V500.1H57.9M57.9 500.6H54.1V501.2H57.9M54.1 499.8H52.9V500.9H54.1M57.9 502.1H55.2V502.8H57.9M55.2 502.5H54.0V503.6H57.9M54.0 503.0H52.8V504.2H57.9M57.9 505.9H53.2V506.6H57.9M57.9 507.6H55.1V508.5H57.9M57.9 509.3H56.1V509.8H57.9M57.9 510.2H56.1V510.8H57.9M56.1 509.6H56.1V510.5H56.1M56.1 510.0H56.1V511.6H57.9M56.1 510.8H56.1V512.5H57.9M57.9 514.6H56.1V515.3H57.9M57.9 514.0H56.1V515.0H56.1M57.9 513.4H56.1V514.5H56.1M56.1 511.7H55.1V513.9H56.1M55.1 508.0H53.9V512.8H55.1M57.9 516.1H56.1V516.7H57.9M56.1 516.4H55.1V517.2H57.9M55.1 516.8H53.9V517.7H57.9M53.9 510.4H52.7V517.2H53.9M53.2 506.2H51.5V513.8H52.7M57.9 505.0H50.3V510.0H51.5M52.8 503.6H49.1V507.5H50.3M52.9 500.4H47.9V505.6H49.1M48.6 487.4H43.3V503.0H47.9M50.4 480.3H42.1V495.2H43.3M46.6 462.6H39.3V487.7H42.1M48.2 445.4H36.6V475.2H39.3M47.1 427.7H32.2V460.3H36.6M32.9 343.4H26.2V444.0H32.2" stroke="#333" stroke-width="0.66" fill="none"/>
<rect x="56.0" y="330.2" width="2.0" height="187.7" fill="#3a3a3a"/>
<text transform="translate(72.1,521.7) rotate(-90)" font-size="9" font-weight="bold" text-anchor="end" textLength="35.2" lengthAdjust="spacingAndGlyphs" stroke="#000" stroke-width="0.15">LPS_PL1</text>
<text transform="translate(101.0,521.7) rotate(-90)" font-size="9" font-weight="bold" text-anchor="end" textLength="35.2" lengthAdjust="spacingAndGlyphs" stroke="#000" stroke-width="0.15">LPS_PL2</text>
<text transform="translate(130.0,521.7) rotate(-90)" font-size="9" font-weight="bold" text-anchor="end" textLength="35.2" lengthAdjust="spacingAndGlyphs" stroke="#000" stroke-width="0.15">LPS_PL3</text>
<text transform="translate(158.7,521.7) rotate(-90)" font-size="9" font-weight="bold" text-anchor="end" textLength="23.2" lengthAdjust="spacingAndGlyphs" stroke="#000" stroke-width="0.15">LPS_1</text>
<text transform="translate(186.8,521.7) rotate(-90)" font-size="9" font-weight="bold" text-anchor="end" textLength="23.2" lengthAdjust="spacingAndGlyphs" stroke="#000" stroke-width="0.15">LPS_2</text>
<text transform="translate(218.0,521.7) rotate(-90)" font-size="9" font-weight="bold" text-anchor="end" textLength="23.2" lengthAdjust="spacingAndGlyphs" stroke="#000" stroke-width="0.15">LPS_3</text>
<path d="M322.8 330.70h28.3M322.8 404.78h28.3M351.0 399.78h28.3M351.0 410.79h28.3M379.1 380.75h28.3M407.3 429.79h28.3M407.3 478.74h28.3M407.3 506.72h28.3M435.5 436.79h28.3M435.5 449.77h28.3M435.5 455.77h28.3M463.7 465.76h28.3" stroke="#ff4e4e" stroke-width="1.30" fill="none"/>
<path d="M322.8 331.70h28.3M322.8 355.73h28.3M435.5 346.72h28.3M351.0 427.79h28.3M351.0 428.79h28.3M351.0 431.79h28.3M351.0 469.75h28.3M379.1 459.76h28.3M379.1 480.74h28.3M435.5 423.80h28.3M463.7 424.80h28.3" stroke="#d3d3ff" stroke-width="1.30" fill="none"/>
<path d="M322.8 332.70h28.3M407.3 402.78h28.3M463.7 344.72h28.3M463.7 371.75h28.3M351.0 467.76h28.3M351.0 502.72h28.3M379.1 427.79h28.3" stroke="#c1c1ff" stroke-width="1.30" fill="none"/>
<path d="M322.8 333.70h28.3M463.7 387.76h28.3M351.0 468.75h28.3M351.0 476.75h28.3M379.1 479.74h28.3M379.1 489.73h28.3M407.3 459.76h28.3M463.7 423.80h28.3" stroke="#c5c5ff" stroke-width="1.30" fill="none"/>
<path d="M322.8 334.70h28.3M322.8 341.71h28.3M322.8 348.72h28.3M322.8 403.78h28.3M379.1 393.77h28.3M407.3 513.71h28.3M435.5 439.78h28.3M435.5 476.75h28.3M435.5 488.73h28.3M463.7 488.73h28.3" stroke="#ffafaf" stroke-width="1.30" fill="none"/>
<path d="M322.8 335.71h28.3M322.8 342.71h28.3M322.8 346.72h28.3M322.8 366.74h28.3M379.1 335.71h28.3M407.3 446.78h28.3M407.3 509.71h28.3M435.5 429.79h28.3M435.5 521.70h28.3M463.7 463.76h28.3M463.7 506.72h28.3" stroke="#ffb4b4" stroke-width="1.30" fill="none"/>
<path d="M322.8 336.71h28.3M322.8 369.74h28.3M322.8 370.74h28.3M322.8 375.75h28.3M322.8 379.75h28.3M322.8 385.76h28.3M322.8 396.77h28.3M322.8 408.79h28.3M322.8 409.79h28.3M351.0 411.79h28.3M379.1 394.77h28.3M379.1 404.78h28.3M407.3 439.78h28.3M407.3 474.75h28.3M407.3 498.73h28.3M407.3 510.71h28.3M435.5 428.79h28.3M435.5 490.73h28.3M435.5 508.72h28.3M463.7 440.78h28.3M463.7 482.74h28.3" stroke="#ffa6a6" stroke-width="1.30" fill="none"/>
<path d="M322.8 337.71h28.3M322.8 371.75h28.3M322.8 393.77h28.3M322.8 412.79h28.3M379.1 401.78h28.3M407.3 437.78h28.3M407.3 438.78h28.3M435.5 482.74h28.3M435.5 515.71h28.3M435.5 517.71h28.3M463.7 434.79h28.3M463.7 441.78h28.3M463.7 442.78h28.3M463.7 474.75h28.3M463.7 475.75h28.3M463.7 478.74h28.3M463.7 483.74h28.3M463.7 485.74h28.3M463.7 489.73h28.3M463.7 508.72h28.3M463.7 509.71h28.3M463.7 510.71h28.3M463.7 511.71h28.3M463.7 512.71h28.3" stroke="#ffabab" stroke-width="1.30" fill="none"/>
<path d="M322.8 338.71h28.3M322.8 351.72h28.3M351.0 365.74h28.3M351.0 367.74h28.3M379.1 411.79h28.3M379.1 414.79h28.3M322.8 460.76h28.3M463.7 450.77h28.3" stroke="#ffe0e0" stroke-width="1.30" fill="none"/>
<path d="M322.8 339.71h28.3M351.0 406.78h28.3M407.3 421.80h28.3M407.3 450.77h28.3" stroke="#ffe9e9" stroke-width="1.30" fill="none"/>
<path d="M322.8 340.71h28.3M322.8 352.72h28.3M351.0 363.74h28.3M351.0 364.74h28.3M351.0 407.78h28.3M379.1 415.79h28.3" stroke="#ffe4e4" stroke-width="1.30" fill="none"/>
<path d="M322.8 343.71h28.3M322.8 357.73h28.3M322.8 368.74h28.3M351.0 362.74h28.3M379.1 386.76h28.3M407.3 431.79h28.3M407.3 444.78h28.3M435.5 513.71h28.3M463.7 479.74h28.3M463.7 487.74h28.3" stroke="#ffc1c1" stroke-width="1.30" fill="none"/>
<path d="M322.8 344.72h28.3M322.8 376.75h28.3M322.8 383.76h28.3M322.8 400.78h28.3M322.8 402.78h28.3M351.0 391.77h28.3M407.3 445.78h28.3M407.3 508.72h28.3M407.3 522.70h28.3M435.5 479.74h28.3M435.5 480.74h28.3M463.7 451.77h28.3M463.7 473.75h28.3M463.7 480.74h28.3M463.7 486.74h28.3" stroke="#ffb8b8" stroke-width="1.30" fill="none"/>
<path d="M322.8 345.72h28.3M351.0 384.76h28.3M379.1 391.77h28.3M407.3 442.78h28.3M407.3 448.77h28.3M463.7 447.78h28.3M463.7 448.77h28.3M463.7 484.74h28.3" stroke="#ffc5c5" stroke-width="1.30" fill="none"/>
<path d="M322.8 347.72h28.3M351.0 336.71h28.3M351.0 372.75h28.3M351.0 401.78h28.3M351.0 403.78h28.3M379.1 337.71h28.3M379.1 362.74h28.3M379.1 389.76h28.3M379.1 400.78h28.3M379.1 409.79h28.3M407.3 472.75h28.3M407.3 490.73h28.3M407.3 493.73h28.3M407.3 494.73h28.3M407.3 496.73h28.3M407.3 512.71h28.3M435.5 461.76h28.3M463.7 494.73h28.3M463.7 496.73h28.3" stroke="#ff8383" stroke-width="1.30" fill="none"/>
<path d="M322.8 349.72h28.3M322.8 377.75h28.3M322.8 401.78h28.3M351.0 395.77h28.3M379.1 343.71h28.3M379.1 385.76h28.3M379.1 405.78h28.3M379.1 419.80h28.3M407.3 440.78h28.3M407.3 455.77h28.3M407.3 475.75h28.3M435.5 424.80h28.3M435.5 426.80h28.3M435.5 486.74h28.3M435.5 494.73h28.3M463.7 476.75h28.3M463.7 492.73h28.3M463.7 493.73h28.3M463.7 498.73h28.3M463.7 500.72h28.3" stroke="#ffa2a2" stroke-width="1.30" fill="none"/>
<path d="M322.8 350.72h28.3M322.8 354.73h28.3M351.0 366.74h28.3M379.1 413.79h28.3M379.1 417.80h28.3M407.3 443.78h28.3M407.3 447.78h28.3M407.3 451.77h28.3M407.3 463.76h28.3M435.5 471.75h28.3M463.7 501.72h28.3" stroke="#ffd3d3" stroke-width="1.30" fill="none"/>
<path d="M322.8 353.73h28.3M379.1 412.79h28.3M379.1 416.79h28.3M407.3 462.76h28.3M435.5 489.73h28.3M435.5 514.71h28.3M463.7 470.75h28.3" stroke="#ffdcdc" stroke-width="1.30" fill="none"/>
<path d="M322.8 356.73h28.3M407.3 452.77h28.3M407.3 453.77h28.3M407.3 466.76h28.3M435.5 459.76h28.3" stroke="#fbfbff" stroke-width="1.30" fill="none"/>
<path d="M322.8 358.73h28.3M379.1 334.70h28.3M407.3 441.78h28.3M407.3 449.77h28.3M407.3 487.74h28.3M435.5 518.71h28.3M463.7 446.78h28.3M463.7 452.77h28.3M463.7 472.75h28.3" stroke="#ffbcbc" stroke-width="1.30" fill="none"/>
<path d="M322.8 359.73h28.3M351.0 408.79h28.3M463.7 425.80h28.3M463.7 426.80h28.3" stroke="#fff6f6" stroke-width="1.30" fill="none"/>
<path d="M322.8 360.73h28.3M351.0 404.78h28.3M351.0 409.79h28.3M435.5 330.70h28.3M435.5 469.75h28.3" stroke="#fffbfb" stroke-width="1.30" fill="none"/>
<path d="M322.8 361.73h28.3M435.5 468.75h28.3M463.7 453.77h28.3" stroke="#f2f2ff" stroke-width="1.30" fill="none"/>
<path d="M322.8 362.74h28.3M322.8 363.74h28.3M322.8 380.75h28.3M322.8 394.77h28.3M322.8 395.77h28.3M322.8 413.79h28.3M322.8 419.80h28.3M322.8 421.80h28.3M351.0 377.75h28.3M351.0 389.76h28.3M379.1 330.70h28.3M379.1 421.80h28.3M407.3 476.75h28.3M407.3 489.73h28.3M407.3 514.71h28.3M407.3 521.70h28.3M435.5 485.74h28.3M435.5 499.72h28.3M463.7 431.79h28.3M463.7 435.79h28.3M463.7 436.79h28.3M463.7 521.70h28.3" stroke="#ff8c8c" stroke-width="1.30" fill="none"/>
<path d="M322.8 364.74h28.3M322.8 372.75h28.3M322.8 373.75h28.3M322.8 387.76h28.3M322.8 414.79h28.3M351.0 339.71h28.3M351.0 397.77h28.3M379.1 396.77h28.3M407.3 432.79h28.3M407.3 456.77h28.3M407.3 491.73h28.3M407.3 495.73h28.3M435.5 475.75h28.3M435.5 497.73h28.3M435.5 523.70h28.3M463.7 477.75h28.3M463.7 490.73h28.3M463.7 504.72h28.3" stroke="#ff9090" stroke-width="1.30" fill="none"/>
<path d="M322.8 365.74h28.3M322.8 399.78h28.3M351.0 342.71h28.3M351.0 346.72h28.3M351.0 368.74h28.3M351.0 381.76h28.3M351.0 398.77h28.3M351.0 402.78h28.3M351.0 414.79h28.3M351.0 417.80h28.3M351.0 419.80h28.3M379.1 336.71h28.3M379.1 348.72h28.3M379.1 376.75h28.3M407.3 497.73h28.3M407.3 511.71h28.3M407.3 518.71h28.3M435.5 431.79h28.3M435.5 477.75h28.3M435.5 484.74h28.3M435.5 504.72h28.3M435.5 510.71h28.3M463.7 514.71h28.3M463.7 520.70h28.3M463.7 522.70h28.3" stroke="#ff7e7e" stroke-width="1.30" fill="none"/>
<path d="M322.8 367.74h28.3M379.1 430.79h28.3M435.5 470.75h28.3M435.5 481.74h28.3M435.5 512.71h28.3M435.5 519.70h28.3M435.5 522.70h28.3" stroke="#ffcaca" stroke-width="1.30" fill="none"/>
<path d="M322.8 374.75h28.3M322.8 382.76h28.3M322.8 386.76h28.3M322.8 389.76h28.3M322.8 397.77h28.3M322.8 411.79h28.3M351.0 383.76h28.3M351.0 418.80h28.3M379.1 392.77h28.3M407.3 473.75h28.3M435.5 425.80h28.3M435.5 463.76h28.3M435.5 478.74h28.3M435.5 501.72h28.3M463.7 430.79h28.3M463.7 438.78h28.3M463.7 439.78h28.3M463.7 462.76h28.3M463.7 497.73h28.3M463.7 519.70h28.3" stroke="#ff9999" stroke-width="1.30" fill="none"/>
<path d="M322.8 378.75h28.3M322.8 381.76h28.3M322.8 410.79h28.3M351.0 396.77h28.3M379.1 333.70h28.3M379.1 397.77h28.3M379.1 402.78h28.3M379.1 403.78h28.3M379.1 418.80h28.3M407.3 454.77h28.3M407.3 485.74h28.3M407.3 488.73h28.3M407.3 499.72h28.3M407.3 501.72h28.3M435.5 430.79h28.3M435.5 437.78h28.3M435.5 465.76h28.3M435.5 473.75h28.3M435.5 496.73h28.3M435.5 498.73h28.3M435.5 511.71h28.3M435.5 520.70h28.3M463.7 433.79h28.3M463.7 507.72h28.3" stroke="#ff9595" stroke-width="1.30" fill="none"/>
<path d="M322.8 384.76h28.3M407.3 464.76h28.3M463.7 449.77h28.3M463.7 471.75h28.3M463.7 499.72h28.3M463.7 502.72h28.3" stroke="#ffcece" stroke-width="1.30" fill="none"/>
<path d="M322.8 388.76h28.3M322.8 390.77h28.3M322.8 391.77h28.3M322.8 392.77h28.3M322.8 398.77h28.3M322.8 420.80h28.3M351.0 385.76h28.3M351.0 386.76h28.3M351.0 388.76h28.3M351.0 393.77h28.3M351.0 394.77h28.3M379.1 338.71h28.3M379.1 342.71h28.3M379.1 388.76h28.3M407.3 458.76h28.3M407.3 486.74h28.3M407.3 492.73h28.3M435.5 440.78h28.3M435.5 474.75h28.3M435.5 487.74h28.3M435.5 516.71h28.3M463.7 495.73h28.3M463.7 505.72h28.3M463.7 513.71h28.3" stroke="#ff9d9d" stroke-width="1.30" fill="none"/>
<path d="M322.8 405.78h28.3M351.0 345.72h28.3M351.0 349.72h28.3M351.0 357.73h28.3M379.1 361.73h28.3M379.1 371.75h28.3M407.3 516.71h28.3M435.5 448.77h28.3M435.5 453.77h28.3M463.7 461.76h28.3" stroke="#ff4949" stroke-width="1.30" fill="none"/>
<path d="M322.8 406.78h28.3M351.0 344.72h28.3M379.1 356.73h28.3M379.1 367.74h28.3M407.3 471.75h28.3M435.5 446.78h28.3M435.5 447.78h28.3" stroke="#ff4545" stroke-width="1.30" fill="none"/>
<path d="M322.8 407.78h28.3M351.0 352.72h28.3M351.0 400.78h28.3M351.0 421.80h28.3M379.1 345.72h28.3M379.1 357.73h28.3M407.3 435.79h28.3M407.3 477.75h28.3M407.3 481.74h28.3M407.3 517.71h28.3M435.5 509.71h28.3" stroke="#ff6d6d" stroke-width="1.30" fill="none"/>
<path d="M322.8 415.79h28.3M351.0 338.71h28.3M351.0 347.72h28.3M351.0 375.75h28.3M351.0 380.75h28.3M379.1 352.72h28.3M379.1 358.73h28.3M379.1 359.73h28.3M379.1 372.75h28.3M379.1 408.79h28.3M407.3 425.80h28.3M407.3 428.79h28.3M435.5 433.79h28.3" stroke="#ff5f5f" stroke-width="1.30" fill="none"/>
<path d="M322.8 416.79h28.3M351.0 341.71h28.3M351.0 343.71h28.3M351.0 359.73h28.3M351.0 360.73h28.3M351.0 382.76h28.3M351.0 413.79h28.3M379.1 350.72h28.3M379.1 351.72h28.3M379.1 374.75h28.3M379.1 387.76h28.3M407.3 433.79h28.3M407.3 505.72h28.3M407.3 507.72h28.3M463.7 432.79h28.3M463.7 443.78h28.3M463.7 468.75h28.3" stroke="#ff7676" stroke-width="1.30" fill="none"/>
<path d="M322.8 417.80h28.3M351.0 340.71h28.3M351.0 353.73h28.3M351.0 354.73h28.3M351.0 358.73h28.3M351.0 361.73h28.3M351.0 371.75h28.3M351.0 373.75h28.3M351.0 374.75h28.3M351.0 379.75h28.3M351.0 412.79h28.3M379.1 346.72h28.3M379.1 398.77h28.3M407.3 426.80h28.3M407.3 484.74h28.3M407.3 503.72h28.3M435.5 434.79h28.3M435.5 454.77h28.3M435.5 466.76h28.3M435.5 506.72h28.3M435.5 507.72h28.3M463.7 437.78h28.3M463.7 464.76h28.3" stroke="#ff7171" stroke-width="1.30" fill="none"/>
<path d="M322.8 418.80h28.3M351.0 370.74h28.3M351.0 387.76h28.3M351.0 415.79h28.3M351.0 416.79h28.3M379.1 339.71h28.3M379.1 344.72h28.3M379.1 375.75h28.3M379.1 399.78h28.3M379.1 420.80h28.3M407.3 436.79h28.3M407.3 457.77h28.3M407.3 504.72h28.3M435.5 427.79h28.3M435.5 464.76h28.3M463.7 469.75h28.3M463.7 518.71h28.3" stroke="#ff7a7a" stroke-width="1.30" fill="none"/>
<path d="M351.0 330.70h28.3M407.3 368.74h28.3M322.8 430.79h28.3M379.1 426.80h28.3M463.7 457.77h28.3" stroke="#e4e4ff" stroke-width="1.30" fill="none"/>
<path d="M351.0 331.70h28.3M407.3 422.80h28.3M407.3 423.80h28.3M407.3 424.80h28.3" stroke="#ff0000" stroke-width="1.30" fill="none"/>
<path d="M351.0 332.70h28.3" stroke="#ff0707" stroke-width="1.30" fill="none"/>
<path d="M351.0 333.70h28.3" stroke="#ff1818" stroke-width="1.30" fill="none"/>
<path d="M351.0 334.70h28.3M351.0 356.73h28.3M379.1 366.74h28.3M379.1 377.75h28.3" stroke="#ff2f2f" stroke-width="1.30" fill="none"/>
<path d="M351.0 335.71h28.3M379.1 369.74h28.3M379.1 407.78h28.3M407.3 469.75h28.3M407.3 470.75h28.3" stroke="#ff4040" stroke-width="1.30" fill="none"/>
<path d="M351.0 337.71h28.3M351.0 350.72h28.3M351.0 351.72h28.3M351.0 369.74h28.3M379.1 331.70h28.3M379.1 349.72h28.3M379.1 353.73h28.3M379.1 355.73h28.3M379.1 373.75h28.3M407.3 467.76h28.3M435.5 483.74h28.3M435.5 503.72h28.3M463.7 467.76h28.3M463.7 523.70h28.3" stroke="#ff6464" stroke-width="1.30" fill="none"/>
<path d="M351.0 348.72h28.3M351.0 390.77h28.3M351.0 392.77h28.3M379.1 332.70h28.3M379.1 340.71h28.3M379.1 390.77h28.3M379.1 395.77h28.3M407.3 500.72h28.3M407.3 502.72h28.3M407.3 519.70h28.3M435.5 438.78h28.3M435.5 441.78h28.3M435.5 462.76h28.3M435.5 493.73h28.3M435.5 495.73h28.3M435.5 502.72h28.3M463.7 444.78h28.3M463.7 491.73h28.3M463.7 503.72h28.3M463.7 515.71h28.3" stroke="#ff8787" stroke-width="1.30" fill="none"/>
<path d="M351.0 355.73h28.3M351.0 376.75h28.3M351.0 378.75h28.3M379.1 341.71h28.3M407.3 427.79h28.3M407.3 515.71h28.3M435.5 442.78h28.3M435.5 491.73h28.3M435.5 492.73h28.3M435.5 505.72h28.3M463.7 516.71h28.3" stroke="#ff6868" stroke-width="1.30" fill="none"/>
<path d="M351.0 405.78h28.3M322.8 459.76h28.3M463.7 427.79h28.3M463.7 429.79h28.3" stroke="#fff2f2" stroke-width="1.30" fill="none"/>
<path d="M351.0 420.80h28.3M379.1 354.73h28.3M407.3 434.79h28.3M407.3 483.74h28.3M435.5 432.79h28.3M435.5 443.78h28.3M435.5 500.72h28.3M463.7 466.76h28.3M463.7 517.71h28.3" stroke="#ff5b5b" stroke-width="1.30" fill="none"/>
<path d="M379.1 347.72h28.3M379.1 410.79h28.3M435.5 472.75h28.3M463.7 445.78h28.3M463.7 481.74h28.3" stroke="#ffd7d7" stroke-width="1.30" fill="none"/>
<path d="M379.1 360.73h28.3M435.5 435.79h28.3" stroke="#ff5252" stroke-width="1.30" fill="none"/>
<path d="M379.1 363.74h28.3M379.1 368.74h28.3M379.1 370.74h28.3M379.1 382.76h28.3M379.1 384.76h28.3M407.3 468.75h28.3M407.3 480.74h28.3" stroke="#ff3c3c" stroke-width="1.30" fill="none"/>
<path d="M379.1 364.74h28.3" stroke="#ff0202" stroke-width="1.30" fill="none"/>
<path d="M379.1 365.74h28.3M379.1 378.75h28.3M379.1 383.76h28.3" stroke="#ff2a2a" stroke-width="1.30" fill="none"/>
<path d="M379.1 379.75h28.3M435.5 458.76h28.3M463.7 460.76h28.3" stroke="#ff0b0b" stroke-width="1.30" fill="none"/>
<path d="M379.1 381.76h28.3M379.1 406.78h28.3M407.3 479.74h28.3M407.3 520.70h28.3M407.3 523.70h28.3M435.5 445.78h28.3M435.5 452.77h28.3" stroke="#ff5656" stroke-width="1.30" fill="none"/>
<path d="M407.3 330.70h28.3M407.3 379.75h28.3M407.3 405.78h28.3M407.3 416.79h28.3M435.5 355.73h28.3M435.5 363.74h28.3M435.5 373.75h28.3M435.5 410.79h28.3M463.7 369.74h28.3M463.7 376.75h28.3M463.7 379.75h28.3M463.7 401.78h28.3M463.7 412.79h28.3M463.7 421.80h28.3M322.8 437.78h28.3M322.8 443.78h28.3M322.8 447.78h28.3M322.8 504.72h28.3M322.8 510.71h28.3M351.0 441.78h28.3M351.0 492.73h28.3M351.0 511.71h28.3M351.0 516.71h28.3M379.1 456.77h28.3M379.1 458.76h28.3M379.1 463.76h28.3M379.1 466.76h28.3M379.1 505.72h28.3" stroke="#8383ff" stroke-width="1.30" fill="none"/>
<path d="M407.3 331.70h28.3M407.3 332.70h28.3M407.3 344.72h28.3M407.3 355.73h28.3M407.3 403.78h28.3M435.5 341.71h28.3M435.5 352.72h28.3M435.5 378.75h28.3M435.5 391.77h28.3M463.7 342.71h28.3M463.7 413.79h28.3M463.7 416.79h28.3M322.8 454.77h28.3M322.8 456.77h28.3M322.8 500.72h28.3M322.8 517.71h28.3M351.0 435.79h28.3M351.0 457.77h28.3M351.0 497.73h28.3M351.0 505.72h28.3M379.1 448.77h28.3M379.1 457.77h28.3M379.1 499.72h28.3M379.1 503.72h28.3" stroke="#7171ff" stroke-width="1.30" fill="none"/>
<path d="M407.3 333.70h28.3M407.3 336.71h28.3M407.3 362.74h28.3M407.3 400.78h28.3M435.5 354.73h28.3M435.5 393.77h28.3M435.5 411.79h28.3M463.7 349.72h28.3M463.7 406.78h28.3M463.7 410.79h28.3M322.8 441.78h28.3M322.8 455.77h28.3M322.8 457.77h28.3M322.8 464.76h28.3M322.8 490.73h28.3M322.8 491.73h28.3M322.8 501.72h28.3M351.0 434.79h28.3M351.0 501.72h28.3M351.0 509.71h28.3M379.1 442.78h28.3M379.1 443.78h28.3M379.1 445.78h28.3M379.1 464.76h28.3M379.1 481.74h28.3M379.1 494.73h28.3M379.1 504.72h28.3" stroke="#7a7aff" stroke-width="1.30" fill="none"/>
<path d="M407.3 334.70h28.3M407.3 406.78h28.3M435.5 359.73h28.3M435.5 361.73h28.3M435.5 408.79h28.3M463.7 347.72h28.3M463.7 355.73h28.3M463.7 364.74h28.3M463.7 368.74h28.3M463.7 378.75h28.3M322.8 422.80h28.3M322.8 436.79h28.3M322.8 444.78h28.3M322.8 445.78h28.3M322.8 448.77h28.3M322.8 452.77h28.3M322.8 476.75h28.3M322.8 493.73h28.3M322.8 513.71h28.3M322.8 514.71h28.3M322.8 518.71h28.3M322.8 520.70h28.3M351.0 443.78h28.3M351.0 444.78h28.3M351.0 449.77h28.3M351.0 453.77h28.3M351.0 454.77h28.3M351.0 458.76h28.3M351.0 521.70h28.3M379.1 437.78h28.3M379.1 460.76h28.3M379.1 493.73h28.3M379.1 523.70h28.3" stroke="#9090ff" stroke-width="1.30" fill="none"/>
<path d="M407.3 335.71h28.3M407.3 343.71h28.3M407.3 392.77h28.3M435.5 368.74h28.3M435.5 374.75h28.3M435.5 390.77h28.3M435.5 402.78h28.3M435.5 406.78h28.3M435.5 412.79h28.3M463.7 330.70h28.3M463.7 352.72h28.3M463.7 383.76h28.3M463.7 403.78h28.3M322.8 461.76h28.3M322.8 506.72h28.3M351.0 463.76h28.3M351.0 482.74h28.3M351.0 487.74h28.3M351.0 489.73h28.3M351.0 517.71h28.3M379.1 449.77h28.3M379.1 495.73h28.3M379.1 521.70h28.3" stroke="#7676ff" stroke-width="1.30" fill="none"/>
<path d="M407.3 337.71h28.3M407.3 339.71h28.3M407.3 351.72h28.3M463.7 381.76h28.3M463.7 388.76h28.3M463.7 396.77h28.3M322.8 469.75h28.3M322.8 479.74h28.3M351.0 425.80h28.3M351.0 432.79h28.3M351.0 470.75h28.3M351.0 478.74h28.3M379.1 425.80h28.3M379.1 455.77h28.3" stroke="#bcbcff" stroke-width="1.30" fill="none"/>
<path d="M407.3 338.71h28.3M407.3 377.75h28.3M435.5 362.74h28.3M463.7 372.75h28.3M463.7 373.75h28.3M322.8 523.70h28.3M351.0 429.79h28.3M379.1 453.77h28.3M379.1 488.73h28.3M435.5 422.80h28.3" stroke="#cacaff" stroke-width="1.30" fill="none"/>
<path d="M407.3 340.71h28.3M435.5 356.73h28.3M435.5 360.73h28.3M435.5 383.76h28.3M435.5 398.77h28.3M463.7 357.73h28.3M463.7 360.73h28.3M463.7 362.74h28.3M322.8 423.80h28.3M322.8 474.75h28.3M322.8 482.74h28.3M322.8 495.73h28.3M322.8 498.73h28.3M351.0 424.80h28.3M351.0 433.79h28.3M351.0 477.75h28.3M379.1 424.80h28.3M379.1 490.73h28.3" stroke="#afafff" stroke-width="1.30" fill="none"/>
<path d="M407.3 341.71h28.3M407.3 371.75h28.3M407.3 378.75h28.3M407.3 383.76h28.3M407.3 386.76h28.3M407.3 411.79h28.3M407.3 413.79h28.3M407.3 414.79h28.3M435.5 399.78h28.3M435.5 400.78h28.3M463.7 335.71h28.3M463.7 361.73h28.3M463.7 384.76h28.3M463.7 400.78h28.3M463.7 409.79h28.3M322.8 449.77h28.3M322.8 462.76h28.3M322.8 463.76h28.3M322.8 473.75h28.3M322.8 512.71h28.3M351.0 439.78h28.3M351.0 462.76h28.3M379.1 441.78h28.3M379.1 507.72h28.3" stroke="#9d9dff" stroke-width="1.30" fill="none"/>
<path d="M407.3 342.71h28.3M407.3 354.73h28.3M407.3 382.76h28.3M435.5 416.79h28.3M435.5 421.80h28.3M463.7 358.73h28.3M463.7 366.74h28.3M463.7 402.78h28.3M463.7 404.78h28.3M463.7 417.80h28.3M322.8 468.75h28.3M351.0 484.74h28.3M351.0 488.73h28.3M351.0 495.73h28.3M351.0 510.71h28.3M351.0 518.71h28.3M351.0 520.70h28.3M379.1 431.79h28.3M379.1 440.78h28.3M379.1 450.77h28.3M379.1 482.74h28.3M379.1 500.72h28.3M379.1 518.71h28.3" stroke="#6d6dff" stroke-width="1.30" fill="none"/>
<path d="M407.3 345.72h28.3M407.3 366.74h28.3M407.3 408.79h28.3M435.5 386.76h28.3M435.5 409.79h28.3M463.7 380.75h28.3M463.7 382.76h28.3M463.7 391.77h28.3M463.7 393.77h28.3M463.7 395.77h28.3M463.7 408.79h28.3M322.8 465.76h28.3M322.8 466.76h28.3M322.8 497.73h28.3M322.8 508.72h28.3M322.8 509.71h28.3M351.0 437.78h28.3M351.0 456.77h28.3M379.1 422.80h28.3M379.1 451.77h28.3M379.1 461.76h28.3M379.1 465.76h28.3M379.1 514.71h28.3" stroke="#8c8cff" stroke-width="1.30" fill="none"/>
<path d="M407.3 346.72h28.3M407.3 356.73h28.3M407.3 363.74h28.3M407.3 364.74h28.3M407.3 365.74h28.3M407.3 373.75h28.3M407.3 389.76h28.3M407.3 396.77h28.3M407.3 418.80h28.3M435.5 392.77h28.3M463.7 359.73h28.3M463.7 390.77h28.3M463.7 407.78h28.3M463.7 420.80h28.3M322.8 424.80h28.3M322.8 427.79h28.3M322.8 435.79h28.3M322.8 450.77h28.3M322.8 485.74h28.3M322.8 486.74h28.3M322.8 494.73h28.3M322.8 515.71h28.3M322.8 521.70h28.3M351.0 448.77h28.3M351.0 455.77h28.3M351.0 460.76h28.3M351.0 504.72h28.3M351.0 512.71h28.3M351.0 513.71h28.3M379.1 439.78h28.3M379.1 444.78h28.3M379.1 492.73h28.3M379.1 501.72h28.3M379.1 506.72h28.3" stroke="#8787ff" stroke-width="1.30" fill="none"/>
<path d="M407.3 347.72h28.3M407.3 390.77h28.3M407.3 391.77h28.3M407.3 394.77h28.3M407.3 395.77h28.3M407.3 397.77h28.3M407.3 415.79h28.3M407.3 417.80h28.3M435.5 334.70h28.3M435.5 342.71h28.3M435.5 385.76h28.3M435.5 403.78h28.3M435.5 404.78h28.3M435.5 407.78h28.3M463.7 405.78h28.3M463.7 414.79h28.3M322.8 426.80h28.3M322.8 428.79h28.3M322.8 431.79h28.3M322.8 483.74h28.3M322.8 488.73h28.3M322.8 507.72h28.3M351.0 442.78h28.3M379.1 436.79h28.3M379.1 438.78h28.3M379.1 452.77h28.3M379.1 462.76h28.3M379.1 497.73h28.3M379.1 510.71h28.3M379.1 513.71h28.3M379.1 515.71h28.3M379.1 516.71h28.3" stroke="#7e7eff" stroke-width="1.30" fill="none"/>
<path d="M407.3 348.72h28.3M407.3 393.77h28.3M407.3 398.77h28.3M407.3 409.79h28.3M407.3 412.79h28.3M435.5 357.73h28.3M435.5 364.74h28.3M435.5 366.74h28.3M435.5 375.75h28.3M435.5 382.76h28.3M463.7 374.75h28.3M463.7 375.75h28.3M322.8 453.77h28.3M322.8 475.75h28.3M322.8 484.74h28.3M322.8 496.73h28.3M351.0 423.80h28.3M351.0 508.72h28.3M351.0 515.71h28.3M351.0 523.70h28.3M407.3 460.76h28.3" stroke="#a2a2ff" stroke-width="1.30" fill="none"/>
<path d="M407.3 349.72h28.3M407.3 352.72h28.3M407.3 358.73h28.3M407.3 370.74h28.3M407.3 385.76h28.3M435.5 397.77h28.3M463.7 345.72h28.3M463.7 377.75h28.3M463.7 385.76h28.3M322.8 425.80h28.3M322.8 429.79h28.3M322.8 433.79h28.3M322.8 434.79h28.3M322.8 481.74h28.3M322.8 499.72h28.3M351.0 445.78h28.3M351.0 446.78h28.3M351.0 493.73h28.3M379.1 423.80h28.3M379.1 454.77h28.3M379.1 498.73h28.3" stroke="#a6a6ff" stroke-width="1.30" fill="none"/>
<path d="M407.3 350.72h28.3M407.3 367.74h28.3M407.3 387.76h28.3M435.5 343.71h28.3M435.5 381.76h28.3M463.7 346.72h28.3M463.7 348.72h28.3M463.7 394.77h28.3M463.7 399.78h28.3M463.7 411.79h28.3M322.8 438.78h28.3M322.8 439.78h28.3M322.8 440.78h28.3M322.8 472.75h28.3M322.8 489.73h28.3M322.8 492.73h28.3M322.8 516.71h28.3M351.0 436.79h28.3M351.0 447.78h28.3M351.0 459.76h28.3M351.0 461.76h28.3M351.0 464.76h28.3M351.0 494.73h28.3M351.0 507.72h28.3M351.0 514.71h28.3M351.0 522.70h28.3M379.1 428.79h28.3" stroke="#9999ff" stroke-width="1.30" fill="none"/>
<path d="M407.3 353.73h28.3M407.3 399.78h28.3M435.5 370.74h28.3M435.5 372.75h28.3M435.5 395.77h28.3M435.5 396.77h28.3M435.5 420.80h28.3M463.7 332.70h28.3M463.7 350.72h28.3M463.7 351.72h28.3M322.8 477.75h28.3M322.8 503.72h28.3M351.0 479.74h28.3M351.0 486.74h28.3M351.0 498.73h28.3M351.0 503.72h28.3M351.0 519.70h28.3M379.1 511.71h28.3" stroke="#6464ff" stroke-width="1.30" fill="none"/>
<path d="M407.3 357.73h28.3M435.5 389.76h28.3M463.7 331.70h28.3M463.7 363.74h28.3M322.8 458.76h28.3M322.8 487.74h28.3M379.1 485.74h28.3" stroke="#5f5fff" stroke-width="1.30" fill="none"/>
<path d="M407.3 359.73h28.3M407.3 384.76h28.3M407.3 404.78h28.3M407.3 410.79h28.3M435.5 333.70h28.3M435.5 340.71h28.3M435.5 365.74h28.3M435.5 377.75h28.3M463.7 343.71h28.3M463.7 367.74h28.3M463.7 386.76h28.3M463.7 392.77h28.3M322.8 442.78h28.3M322.8 451.77h28.3M322.8 467.76h28.3M322.8 511.71h28.3M322.8 519.70h28.3M351.0 440.78h28.3M351.0 465.76h28.3M351.0 466.76h28.3M379.1 509.71h28.3" stroke="#9595ff" stroke-width="1.30" fill="none"/>
<path d="M407.3 360.73h28.3M322.8 432.79h28.3M351.0 473.75h28.3M379.1 508.72h28.3" stroke="#b8b8ff" stroke-width="1.30" fill="none"/>
<path d="M407.3 361.73h28.3M435.5 348.72h28.3M435.5 353.73h28.3M435.5 367.74h28.3M435.5 380.75h28.3M435.5 387.76h28.3M435.5 388.76h28.3M435.5 405.78h28.3M435.5 413.79h28.3M463.7 338.71h28.3M463.7 365.74h28.3M463.7 415.79h28.3M463.7 418.80h28.3M322.8 505.72h28.3M351.0 500.72h28.3M351.0 506.72h28.3M379.1 467.76h28.3M379.1 484.74h28.3M379.1 496.73h28.3M379.1 502.72h28.3M379.1 512.71h28.3M379.1 517.71h28.3M379.1 522.70h28.3" stroke="#6868ff" stroke-width="1.30" fill="none"/>
<path d="M407.3 369.74h28.3M435.5 384.76h28.3M463.7 458.76h28.3" stroke="#d7d7ff" stroke-width="1.30" fill="none"/>
<path d="M407.3 372.75h28.3M407.3 374.75h28.3M407.3 375.75h28.3M407.3 407.78h28.3M435.5 332.70h28.3M435.5 344.72h28.3M435.5 358.73h28.3M435.5 376.75h28.3M435.5 401.78h28.3M463.7 333.70h28.3M463.7 334.70h28.3M463.7 354.73h28.3M463.7 356.73h28.3M463.7 389.76h28.3M322.8 522.70h28.3M351.0 422.80h28.3M351.0 471.75h28.3M379.1 478.74h28.3M379.1 491.73h28.3" stroke="#ababff" stroke-width="1.30" fill="none"/>
<path d="M407.3 376.75h28.3M435.5 345.72h28.3M463.7 353.73h28.3M463.7 370.74h28.3M463.7 397.77h28.3M351.0 430.79h28.3M351.0 438.78h28.3M351.0 472.75h28.3M351.0 474.75h28.3M351.0 475.75h28.3M351.0 483.74h28.3M379.1 429.79h28.3M379.1 487.74h28.3M407.3 461.76h28.3" stroke="#b4b4ff" stroke-width="1.30" fill="none"/>
<path d="M407.3 380.75h28.3M351.0 491.73h28.3M379.1 435.79h28.3M379.1 469.75h28.3M379.1 520.70h28.3" stroke="#5252ff" stroke-width="1.30" fill="none"/>
<path d="M407.3 381.76h28.3M435.5 347.72h28.3M435.5 349.72h28.3M435.5 371.75h28.3M435.5 379.75h28.3M435.5 394.77h28.3M351.0 481.74h28.3M379.1 472.75h28.3" stroke="#5656ff" stroke-width="1.30" fill="none"/>
<path d="M407.3 388.76h28.3M435.5 339.71h28.3M463.7 398.77h28.3M351.0 426.80h28.3" stroke="#ceceff" stroke-width="1.30" fill="none"/>
<path d="M407.3 401.78h28.3M435.5 350.72h28.3M435.5 351.72h28.3M463.7 340.71h28.3M379.1 432.79h28.3M379.1 446.78h28.3M379.1 447.78h28.3M379.1 476.75h28.3M379.1 486.74h28.3" stroke="#4949ff" stroke-width="1.30" fill="none"/>
<path d="M407.3 419.80h28.3M407.3 420.80h28.3M435.5 331.70h28.3M463.7 428.79h28.3" stroke="#ffeded" stroke-width="1.30" fill="none"/>
<path d="M435.5 335.71h28.3M435.5 369.74h28.3M435.5 418.80h28.3M463.7 341.71h28.3M322.8 480.74h28.3M379.1 475.75h28.3" stroke="#4040ff" stroke-width="1.30" fill="none"/>
<path d="M435.5 336.71h28.3M435.5 337.71h28.3M463.7 422.80h28.3" stroke="#dcdcff" stroke-width="1.30" fill="none"/>
<path d="M435.5 338.71h28.3M322.8 446.78h28.3M463.7 456.77h28.3" stroke="#e9e9ff" stroke-width="1.30" fill="none"/>
<path d="M435.5 414.79h28.3M435.5 415.79h28.3M322.8 502.72h28.3M351.0 480.74h28.3M351.0 485.74h28.3M351.0 496.73h28.3M351.0 499.72h28.3M379.1 474.75h28.3M379.1 483.74h28.3" stroke="#5b5bff" stroke-width="1.30" fill="none"/>
<path d="M435.5 417.80h28.3" stroke="#2626ff" stroke-width="1.30" fill="none"/>
<path d="M435.5 419.80h28.3M463.7 419.80h28.3M379.1 433.79h28.3M379.1 468.75h28.3M379.1 519.70h28.3" stroke="#4e4eff" stroke-width="1.30" fill="none"/>
<path d="M463.7 336.71h28.3" stroke="#2f2fff" stroke-width="1.30" fill="none"/>
<path d="M463.7 337.71h28.3M351.0 490.73h28.3M379.1 477.75h28.3" stroke="#3333ff" stroke-width="1.30" fill="none"/>
<path d="M463.7 339.71h28.3M322.8 478.74h28.3M379.1 473.75h28.3" stroke="#4545ff" stroke-width="1.30" fill="none"/>
<path d="M322.8 470.75h28.3M322.8 471.75h28.3M351.0 452.77h28.3M407.3 465.76h28.3M435.5 460.76h28.3M463.7 454.77h28.3M463.7 455.77h28.3" stroke="#ededff" stroke-width="1.30" fill="none"/>
<path d="M351.0 450.77h28.3M351.0 451.77h28.3" stroke="#e0e0ff" stroke-width="1.30" fill="none"/>
<path d="M379.1 434.79h28.3M379.1 471.75h28.3" stroke="#0b0bff" stroke-width="1.30" fill="none"/>
<path d="M379.1 470.75h28.3" stroke="#2a2aff" stroke-width="1.30" fill="none"/>
<path d="M407.3 430.79h28.3M435.5 467.76h28.3" stroke="#ffffff" stroke-width="1.30" fill="none"/>
<path d="M407.3 482.74h28.3M435.5 450.77h28.3" stroke="#ff3737" stroke-width="1.30" fill="none"/>
<path d="M435.5 444.78h28.3" stroke="#ff2626" stroke-width="1.30" fill="none"/>
<path d="M435.5 451.77h28.3M435.5 456.77h28.3" stroke="#ff1010" stroke-width="1.30" fill="none"/>
<path d="M435.5 457.77h28.3M463.7 459.76h28.3" stroke="#ff3333" stroke-width="1.30" fill="none"/>
<defs><linearGradient id="cbF" x1="0" y1="0" x2="0" y2="1"><stop offset="0" stop-color="#ff0000"/><stop offset="0.5" stop-color="#ffffff"/><stop offset="1" stop-color="#0000ff"/></linearGradient></defs>
<rect x="494.8" y="330" width="6.3" height="91.6" fill="url(#cbF)"/>
<text x="504.3" y="340.0" font-size="9.6" font-weight="bold" text-anchor="start" fill="#000" >2</text>
<text x="504.3" y="359.9" font-size="9.6" font-weight="bold" text-anchor="start" fill="#000" >1</text>
<text x="504.3" y="379.2" font-size="9.6" font-weight="bold" text-anchor="start" fill="#000" >0</text>
<text x="504.3" y="398.59999999999997" font-size="9.6" font-weight="bold" text-anchor="start" fill="#000" >-1</text>
<text x="504.3" y="418.09999999999997" font-size="9.6" font-weight="bold" text-anchor="start" fill="#000" >-2</text>
<path d="M322.8 330.5H319.6V331.3H322.8M319.6 330.9H318.4V332.0H322.8M322.8 332.7H319.6V333.3H322.8M322.8 334.0H319.6V335.0H322.8M319.6 333.0H318.4V334.5H319.6M318.4 331.5H317.2V333.7H318.4M322.8 335.8H318.5V336.5H322.8M317.2 332.6H316.0V336.2H318.5M322.8 337.9H319.8V338.6H322.8M319.8 338.2H318.6V339.1H322.8M322.8 337.0H317.4V338.6H318.6M316.0 334.4H314.8V337.8H317.4M322.8 339.5H320.9V340.2H322.8M320.9 339.8H319.7V340.7H322.8M319.7 340.3H318.5V341.4H322.8M318.5 340.9H317.3V342.5H322.8M322.8 343.5H318.9V344.3H322.8M318.9 343.9H317.7V345.1H322.8M317.3 341.7H316.1V344.5H317.7M322.8 347.1H320.6V347.7H322.8M322.8 346.9H319.4V347.4H320.6M322.8 346.5H318.2V347.2H319.4M322.8 345.9H317.0V346.8H318.2M316.1 343.1H314.9V346.4H317.0M322.8 349.0H319.6V349.6H322.8M322.8 348.4H318.4V349.3H319.6M322.8 351.4H319.9V352.4H322.8M319.9 351.9H318.7V353.2H322.8M322.8 350.3H317.5V352.5H318.7M318.4 348.9H316.3V351.4H317.5M322.8 353.9H318.3V354.8H322.8M322.8 356.1H319.3V356.7H322.8M322.8 355.4H318.1V356.4H319.3M318.3 354.4H315.8V355.9H318.1M316.3 350.1H314.6V355.1H315.8M314.9 344.7H311.4V352.6H314.6M322.8 359.0H319.8V359.7H322.8M322.8 358.0H318.6V359.3H319.8M322.8 357.2H317.4V358.7H318.6M322.8 360.5H318.7V361.1H322.8M322.8 361.9H319.8V362.6H322.8M322.8 361.4H318.6V362.2H319.8M318.7 360.8H317.4V361.8H318.6M317.4 357.9H316.2V361.3H317.4M322.8 363.7H318.4V364.5H322.8M316.2 359.6H315.0V364.1H318.4M322.8 365.0H319.3V365.7H322.8M319.3 365.4H318.1V366.3H322.8M322.8 367.1H318.0V368.0H322.8M318.1 365.8H316.8V367.5H318.0M322.8 369.4H319.4V370.3H322.8M322.8 368.7H318.2V369.8H319.4M322.8 371.1H319.4V371.7H322.8M319.4 371.4H318.2V372.1H322.8M318.2 369.3H317.0V371.8H318.2M316.8 366.7H315.6V370.5H317.0M315.0 361.8H312.5V368.6H315.6M322.8 372.6H319.7V373.3H322.8M319.7 372.9H318.5V373.8H322.8M322.8 374.3H319.7V375.0H322.8M319.7 374.7H318.5V375.6H322.8M318.5 373.4H317.3V375.1H318.5M322.8 376.9H320.7V377.8H322.8M320.7 377.3H319.5V378.5H322.8M319.5 377.9H318.3V379.1H322.8M322.8 376.2H317.1V378.5H318.3M317.3 374.3H315.7V377.3H317.1M322.8 379.8H317.4V380.8H322.8M322.8 381.7H318.6V382.4H322.8M322.8 383.0H318.6V383.7H322.8M318.6 382.1H317.4V383.4H318.6M317.4 380.3H315.7V382.7H317.4M315.7 375.8H314.5V381.5H315.7M322.8 384.4H319.3V385.2H322.8M319.3 384.8H318.1V385.9H322.8M314.5 378.6H313.3V385.4H318.1M312.5 365.2H309.4V382.0H313.3M322.8 386.3H318.5V386.9H322.8M322.8 388.1H320.3V388.8H322.8M322.8 387.6H319.1V388.4H320.3M319.1 388.0H317.9V389.4H322.8M322.8 391.7H320.0V392.3H322.8M322.8 391.0H318.8V392.0H320.0M322.8 390.1H317.6V391.5H318.8M317.9 388.7H316.4V390.8H317.6M318.5 386.6H314.5V389.7H316.4M322.8 393.0H320.2V393.6H322.8M320.2 393.3H319.0V394.2H322.8M319.0 393.8H317.8V394.8H322.8M322.8 396.2H318.9V397.2H322.8M322.8 395.4H317.7V396.7H318.9M322.8 397.9H318.1V398.6H322.8M322.8 399.6H318.5V400.4H322.8M322.8 401.1H318.5V402.0H322.8M318.5 400.0H317.3V401.6H318.5M318.1 398.2H316.1V400.8H317.3M322.8 404.0H320.2V404.6H322.8M322.8 403.2H319.0V404.3H320.2M322.8 402.7H317.8V403.7H319.0M322.8 405.0H318.9V405.7H322.8M318.9 405.3H317.7V406.4H322.8M322.8 407.1H318.6V407.8H322.8M322.8 409.6H320.4V410.2H322.8M322.8 409.2H319.2V409.9H320.4M322.8 408.5H318.0V409.6H319.2M322.8 411.9H321.0V412.5H322.8M321.0 412.2H321.0V413.2H322.8M321.0 412.7H321.0V413.7H322.8M321.0 413.2H321.0V414.4H322.8M322.8 415.2H321.0V415.9H322.8M321.0 413.8H321.0V415.5H321.0M322.8 411.2H320.4V414.7H321.0M322.8 416.6H320.4V417.3H322.8M320.4 412.9H319.2V417.0H320.4M322.8 418.9H321.0V419.9H322.8M322.8 420.9H321.0V421.8H322.8M321.0 419.4H320.4V421.4H321.0M322.8 418.1H319.2V420.4H320.4M319.2 415.0H318.0V419.2H319.2M318.0 409.0H316.8V417.1H318.0M318.6 407.5H315.6V413.1H316.8M317.7 405.8H314.4V410.3H315.6M317.8 403.2H313.2V408.1H314.4M316.1 399.5H312.0V405.6H313.2M317.7 396.1H310.8V402.6H312.0M317.8 394.3H309.6V399.3H310.8M314.5 388.2H307.3V396.8H309.6M309.4 373.6H301.6V392.5H307.3M311.4 348.7H299.5V383.1H301.6M314.8 336.1H298.3V365.9H299.5M322.8 422.4H320.1V423.1H322.8M322.8 424.0H320.1V424.7H322.8M320.1 422.8H318.9V424.4H320.1M322.8 425.3H318.9V426.2H322.8M318.9 423.6H317.7V425.7H318.9M322.8 427.1H318.2V428.1H322.8M317.7 424.6H316.5V427.6H318.2M322.8 429.0H317.6V429.7H322.8M316.5 426.1H315.3V429.4H317.6M322.8 431.9H320.0V432.6H322.8M322.8 431.1H318.8V432.3H320.0M322.8 430.4H317.6V431.7H318.8M322.8 434.0H319.9V434.9H322.8M322.8 433.2H318.7V434.4H319.9M322.8 436.3H319.9V436.9H322.8M322.8 435.7H318.7V436.6H319.9M318.7 433.8H317.5V436.1H318.7M317.6 431.1H316.3V435.0H317.5M322.8 437.5H320.5V438.3H322.8M320.5 437.9H319.3V439.1H322.8M319.3 438.5H318.1V439.7H322.8M322.8 440.8H319.3V441.5H322.8M322.8 440.3H318.1V441.1H319.3M318.1 439.1H316.9V440.7H318.1M316.3 433.0H315.1V439.9H316.9M315.1 436.5H313.9V442.5H322.8M322.8 443.1H320.1V443.8H322.8M322.8 444.6H320.1V445.2H322.8M320.1 443.5H318.9V444.9H320.1M318.9 444.2H317.7V445.9H322.8M322.8 446.7H318.9V447.3H322.8M322.8 448.0H318.9V449.0H322.8M318.9 447.0H317.7V448.5H318.9M317.7 445.0H313.8V447.8H317.7M322.8 450.6H321.0V451.2H322.8M321.0 450.9H321.0V451.9H322.8M322.8 449.8H320.1V451.4H321.0M322.8 452.7H320.1V453.3H322.8M320.1 450.6H318.9V453.0H320.1M322.8 453.8H320.1V454.5H322.8M320.1 454.2H318.9V455.1H322.8M318.9 451.8H317.7V454.7H318.9M322.8 456.3H320.1V457.0H322.8M322.8 455.6H318.9V456.7H320.1M322.8 457.6H320.1V458.2H322.8M320.1 457.9H318.9V458.9H322.8M318.9 456.1H317.7V458.4H318.9M317.7 453.2H316.5V457.3H317.7M322.8 460.1H319.9V460.9H322.8M319.9 460.5H318.7V461.6H322.8M322.8 459.5H317.5V461.0H318.7M316.5 455.2H315.3V460.3H317.5M315.3 457.8H314.1V462.3H322.8M322.8 463.3H317.4V464.3H322.8M314.1 460.0H312.9V463.8H317.4M322.8 465.2H319.5V465.8H322.8M319.5 465.5H318.3V466.3H322.8M322.8 467.6H320.3V468.3H322.8M322.8 466.9H319.1V467.9H320.3M322.8 468.9H320.3V469.7H322.8M320.3 469.3H319.1V470.5H322.8M319.1 467.4H317.9V469.9H319.1M317.9 468.6H316.7V471.4H322.8M322.8 472.3H317.6V473.1H322.8M322.8 474.5H321.0V475.1H322.8M321.0 474.8H320.9V475.7H322.8M320.9 475.2H319.7V476.0H322.8M322.8 473.9H318.5V475.6H319.7M322.8 476.6H320.9V477.6H322.8M322.8 478.4H320.9V479.0H322.8M320.9 477.1H319.7V478.7H320.9M319.7 477.9H318.5V479.7H322.8M318.5 474.8H317.3V478.8H318.5M317.6 472.7H316.1V476.8H317.3M316.7 470.0H314.9V474.8H316.1M318.3 465.9H313.7V472.4H314.9M322.8 480.5H319.2V481.3H322.8M319.2 480.9H318.0V482.2H322.8M313.7 469.1H312.5V481.5H318.0M322.8 483.1H320.3V483.8H322.8M320.3 483.4H319.1V484.2H322.8M319.1 483.8H317.9V484.7H322.8M322.8 485.9H320.8V486.6H322.8M322.8 485.3H319.6V486.3H320.8M319.6 485.8H318.4V487.1H322.8M322.8 487.8H318.4V488.5H322.8M318.4 486.4H317.2V488.1H318.4M317.9 484.3H315.4V487.3H317.2M322.8 489.2H319.8V489.9H322.8M319.8 489.6H318.6V490.4H322.8M322.8 491.1H318.6V491.8H322.8M318.6 490.0H317.4V491.4H318.6M322.8 492.7H319.3V493.7H322.8M319.3 493.2H318.1V494.4H322.8M317.4 490.7H316.0V493.8H318.1M322.8 496.0H321.0V496.6H322.8M321.0 496.3H321.0V497.2H322.8M321.0 496.8H320.2V497.8H322.8M320.2 497.3H319.0V498.6H322.8M322.8 495.1H317.8V498.0H319.0M317.8 496.5H316.6V499.8H322.8M322.8 501.1H320.5V501.8H322.8M320.5 501.5H319.3V502.4H322.8M322.8 500.7H318.1V501.9H319.3M322.8 503.0H318.6V503.7H322.8M318.1 501.3H316.6V503.4H318.6M316.6 498.1H315.4V502.3H316.6M322.8 504.8H319.0V505.5H322.8M322.8 504.4H317.8V505.1H319.0M322.8 506.2H320.2V506.8H322.8M320.2 506.5H319.0V507.6H322.8M319.0 507.0H317.8V508.4H322.8M317.8 504.8H316.6V507.7H317.8M315.4 500.2H313.4V506.3H316.6M322.8 509.8H319.9V510.4H322.8M322.8 510.9H319.9V511.6H322.8M319.9 510.1H318.7V511.2H319.9M322.8 509.1H317.5V510.7H318.7M322.8 512.7H320.0V513.3H322.8M322.8 512.1H318.8V513.0H320.0M322.8 513.9H318.8V514.7H322.8M318.8 512.6H317.6V514.3H318.8M317.5 509.9H315.7V513.4H317.6M313.4 503.2H312.0V511.7H315.7M322.8 516.4H318.9V517.3H322.8M322.8 515.6H317.7V516.9H318.9M322.8 518.2H319.6V518.9H322.8M319.6 518.5H318.4V519.3H322.8M317.7 516.2H315.9V518.9H318.4M322.8 521.3H319.7V522.0H322.8M322.8 520.7H318.5V521.6H319.7M322.8 520.0H317.3V521.2H318.5M322.8 522.8H318.4V523.7H322.8M317.3 520.6H315.9V523.3H318.4M315.9 517.6H314.7V521.9H315.9M312.0 507.5H309.8V519.8H314.7M316.0 492.3H308.0V513.6H309.8M315.4 485.8H306.7V502.9H308.0M312.5 475.3H302.5V494.4H306.7M312.9 461.9H301.3V484.8H302.5M313.8 446.4H300.1V473.4H301.3M313.9 439.5H298.9V459.9H300.1M315.3 427.7H295.2V449.7H298.9M298.3 351.0H290.2V438.7H295.2" stroke="#333" stroke-width="0.66" fill="none"/>
<rect x="320.90000000000003" y="330.2" width="2.0" height="194.00000000000006" fill="#3a3a3a"/>
<text transform="translate(337.9,530.5) rotate(-90)" font-size="9" font-weight="normal" text-anchor="end" textLength="23.2" lengthAdjust="spacingAndGlyphs" stroke="#000" stroke-width="0.3">LPS_1</text>
<text transform="translate(366.1,530.5) rotate(-90)" font-size="9" font-weight="normal" text-anchor="end" textLength="23.2" lengthAdjust="spacingAndGlyphs" stroke="#000" stroke-width="0.3">LPS_2</text>
<text transform="translate(395.2,530.5) rotate(-90)" font-size="9" font-weight="normal" text-anchor="end" textLength="23.2" lengthAdjust="spacingAndGlyphs" stroke="#000" stroke-width="0.3">LPS_3</text>
<text transform="translate(423.2,528.2) rotate(-90)" font-size="9" font-weight="bold" text-anchor="end" textLength="22.6" lengthAdjust="spacingAndGlyphs" stroke="#000" stroke-width="0.15">Con_1</text>
<text transform="translate(452.3,528.2) rotate(-90)" font-size="9" font-weight="bold" text-anchor="end" textLength="22.6" lengthAdjust="spacingAndGlyphs" stroke="#000" stroke-width="0.15">Con_2</text>
<text transform="translate(480.9,528.2) rotate(-90)" font-size="9" font-weight="bold" text-anchor="end" textLength="22.6" lengthAdjust="spacingAndGlyphs" stroke="#000" stroke-width="0.15">Con_3</text>
<g shape-rendering="crispEdges">
<rect x="580.80" y="356.40" width="16.86" height="4.08" fill="#0000ff"/>
<rect x="597.46" y="356.40" width="33.51" height="4.08" fill="#4040ff"/>
<rect x="630.77" y="356.40" width="16.86" height="4.08" fill="#ff5555"/>
<rect x="647.42" y="356.40" width="16.86" height="4.08" fill="#ffffff"/>
<rect x="664.08" y="356.40" width="16.86" height="4.08" fill="#ff0000"/>
<rect x="680.73" y="356.40" width="16.86" height="4.08" fill="#ffffff"/>
<rect x="697.39" y="356.40" width="16.86" height="4.08" fill="#bebeff"/>
<rect x="714.04" y="356.40" width="16.86" height="4.08" fill="#8080ff"/>
<rect x="580.80" y="360.23" width="16.86" height="4.08" fill="#0000ff"/>
<rect x="597.46" y="360.23" width="33.51" height="4.08" fill="#4040ff"/>
<rect x="630.77" y="360.23" width="16.86" height="4.08" fill="#ffffff"/>
<rect x="647.42" y="360.23" width="16.86" height="4.08" fill="#ff5555"/>
<rect x="664.08" y="360.23" width="16.86" height="4.08" fill="#ff0000"/>
<rect x="680.73" y="360.23" width="16.86" height="4.08" fill="#8080ff"/>
<rect x="697.39" y="360.23" width="33.51" height="4.08" fill="#bebeff"/>
<rect x="580.80" y="364.07" width="50.17" height="4.08" fill="#4040ff"/>
<rect x="630.77" y="364.07" width="33.51" height="4.08" fill="#ff5555"/>
<rect x="664.08" y="364.07" width="16.86" height="4.08" fill="#ff0000"/>
<rect x="680.73" y="364.07" width="16.86" height="4.08" fill="#bebeff"/>
<rect x="697.39" y="364.07" width="33.51" height="4.08" fill="#8080ff"/>
<rect x="580.80" y="367.90" width="50.17" height="4.08" fill="#4040ff"/>
<rect x="630.77" y="367.90" width="16.86" height="4.08" fill="#ff0000"/>
<rect x="647.42" y="367.90" width="16.86" height="4.08" fill="#ff5555"/>
<rect x="664.08" y="367.90" width="16.86" height="4.08" fill="#ffaaaa"/>
<rect x="680.73" y="367.90" width="16.86" height="4.08" fill="#8080ff"/>
<rect x="697.39" y="367.90" width="16.86" height="4.08" fill="#bebeff"/>
<rect x="714.04" y="367.90" width="16.86" height="4.08" fill="#4040ff"/>
<rect x="580.80" y="371.74" width="50.17" height="4.08" fill="#8080ff"/>
<rect x="630.77" y="371.74" width="16.86" height="4.08" fill="#ff0000"/>
<rect x="647.42" y="371.74" width="33.51" height="4.08" fill="#ff5555"/>
<rect x="680.73" y="371.74" width="50.17" height="4.08" fill="#4040ff"/>
<rect x="580.80" y="375.57" width="50.17" height="4.08" fill="#4040ff"/>
<rect x="630.77" y="375.57" width="33.51" height="4.08" fill="#ff5555"/>
<rect x="664.08" y="375.57" width="16.86" height="4.08" fill="#ff0000"/>
<rect x="680.73" y="375.57" width="33.51" height="4.08" fill="#8080ff"/>
<rect x="714.04" y="375.57" width="16.86" height="4.08" fill="#4040ff"/>
<rect x="580.80" y="379.40" width="50.17" height="4.08" fill="#4040ff"/>
<rect x="630.77" y="379.40" width="50.17" height="4.08" fill="#8080ff"/>
<rect x="680.73" y="379.40" width="16.86" height="4.08" fill="#ff0000"/>
<rect x="697.39" y="379.40" width="33.51" height="4.08" fill="#ff5555"/>
<rect x="580.80" y="383.24" width="50.17" height="4.08" fill="#0000ff"/>
<rect x="630.77" y="383.24" width="50.17" height="4.08" fill="#bebeff"/>
<rect x="680.73" y="383.24" width="33.51" height="4.08" fill="#ff5555"/>
<rect x="714.04" y="383.24" width="16.86" height="4.08" fill="#ff0000"/>
<rect x="580.80" y="387.07" width="50.17" height="4.08" fill="#0000ff"/>
<rect x="630.77" y="387.07" width="16.86" height="4.08" fill="#ffffff"/>
<rect x="647.42" y="387.07" width="16.86" height="4.08" fill="#ffaaaa"/>
<rect x="664.08" y="387.07" width="16.86" height="4.08" fill="#ffffff"/>
<rect x="680.73" y="387.07" width="16.86" height="4.08" fill="#ff5555"/>
<rect x="697.39" y="387.07" width="16.86" height="4.08" fill="#ffaaaa"/>
<rect x="714.04" y="387.07" width="16.86" height="4.08" fill="#ffffff"/>
<rect x="580.80" y="390.91" width="50.17" height="4.08" fill="#0000ff"/>
<rect x="630.77" y="390.91" width="16.86" height="4.08" fill="#ffffff"/>
<rect x="647.42" y="390.91" width="16.86" height="4.08" fill="#ffaaaa"/>
<rect x="664.08" y="390.91" width="16.86" height="4.08" fill="#bebeff"/>
<rect x="680.73" y="390.91" width="33.51" height="4.08" fill="#ffaaaa"/>
<rect x="714.04" y="390.91" width="16.86" height="4.08" fill="#ff5555"/>
<rect x="580.80" y="394.74" width="50.17" height="4.08" fill="#0000ff"/>
<rect x="630.77" y="394.74" width="33.51" height="4.08" fill="#ffffff"/>
<rect x="664.08" y="394.74" width="16.86" height="4.08" fill="#bebeff"/>
<rect x="680.73" y="394.74" width="16.86" height="4.08" fill="#ffaaaa"/>
<rect x="697.39" y="394.74" width="33.51" height="4.08" fill="#ff5555"/>
<rect x="580.80" y="398.57" width="50.17" height="4.08" fill="#0000ff"/>
<rect x="630.77" y="398.57" width="16.86" height="4.08" fill="#ffaaaa"/>
<rect x="647.42" y="398.57" width="16.86" height="4.08" fill="#bebeff"/>
<rect x="664.08" y="398.57" width="16.86" height="4.08" fill="#8080ff"/>
<rect x="680.73" y="398.57" width="33.51" height="4.08" fill="#ff5555"/>
<rect x="714.04" y="398.57" width="16.86" height="4.08" fill="#ffaaaa"/>
<rect x="580.80" y="402.41" width="50.17" height="4.08" fill="#0000ff"/>
<rect x="630.77" y="402.41" width="66.82" height="4.08" fill="#ffaaaa"/>
<rect x="697.39" y="402.41" width="16.86" height="4.08" fill="#ffffff"/>
<rect x="714.04" y="402.41" width="16.86" height="4.08" fill="#ffaaaa"/>
<rect x="580.80" y="406.24" width="50.17" height="4.08" fill="#0000ff"/>
<rect x="630.77" y="406.24" width="33.51" height="4.08" fill="#ffaaaa"/>
<rect x="664.08" y="406.24" width="16.86" height="4.08" fill="#ffffff"/>
<rect x="680.73" y="406.24" width="33.51" height="4.08" fill="#ffaaaa"/>
<rect x="714.04" y="406.24" width="16.86" height="4.08" fill="#ffffff"/>
<rect x="580.80" y="410.08" width="50.17" height="4.08" fill="#0000ff"/>
<rect x="630.77" y="410.08" width="33.51" height="4.08" fill="#bebeff"/>
<rect x="664.08" y="410.08" width="16.86" height="4.08" fill="#ffffff"/>
<rect x="680.73" y="410.08" width="16.86" height="4.08" fill="#ffaaaa"/>
<rect x="697.39" y="410.08" width="16.86" height="4.08" fill="#ff0000"/>
<rect x="714.04" y="410.08" width="16.86" height="4.08" fill="#ffaaaa"/>
<rect x="580.80" y="413.91" width="50.17" height="4.08" fill="#0000ff"/>
<rect x="630.77" y="413.91" width="33.51" height="4.08" fill="#bebeff"/>
<rect x="664.08" y="413.91" width="16.86" height="4.08" fill="#ffaaaa"/>
<rect x="680.73" y="413.91" width="16.86" height="4.08" fill="#ff5555"/>
<rect x="697.39" y="413.91" width="33.51" height="4.08" fill="#ffaaaa"/>
<rect x="580.80" y="417.75" width="50.17" height="4.08" fill="#0000ff"/>
<rect x="630.77" y="417.75" width="16.86" height="4.08" fill="#ffffff"/>
<rect x="647.42" y="417.75" width="16.86" height="4.08" fill="#bebeff"/>
<rect x="664.08" y="417.75" width="16.86" height="4.08" fill="#ff5555"/>
<rect x="680.73" y="417.75" width="16.86" height="4.08" fill="#ffffff"/>
<rect x="697.39" y="417.75" width="33.51" height="4.08" fill="#ffaaaa"/>
<rect x="580.80" y="421.58" width="50.17" height="4.08" fill="#0000ff"/>
<rect x="630.77" y="421.58" width="33.51" height="4.08" fill="#ffffff"/>
<rect x="664.08" y="421.58" width="66.82" height="4.08" fill="#ffaaaa"/>
<rect x="580.80" y="425.41" width="50.17" height="4.08" fill="#0000ff"/>
<rect x="630.77" y="425.41" width="33.51" height="4.08" fill="#ffffff"/>
<rect x="664.08" y="425.41" width="66.82" height="4.08" fill="#ffaaaa"/>
<rect x="580.80" y="429.25" width="50.17" height="4.08" fill="#ff5555"/>
<rect x="630.77" y="429.25" width="33.51" height="4.08" fill="#0000ff"/>
<rect x="664.08" y="429.25" width="16.86" height="4.08" fill="#4040ff"/>
<rect x="680.73" y="429.25" width="33.51" height="4.08" fill="#bebeff"/>
<rect x="714.04" y="429.25" width="16.86" height="4.08" fill="#ffffff"/>
<rect x="580.80" y="433.08" width="16.86" height="4.08" fill="#ff5555"/>
<rect x="597.46" y="433.08" width="16.86" height="4.08" fill="#ffaaaa"/>
<rect x="614.11" y="433.08" width="16.86" height="4.08" fill="#ff5555"/>
<rect x="630.77" y="433.08" width="50.17" height="4.08" fill="#0000ff"/>
<rect x="680.73" y="433.08" width="33.51" height="4.08" fill="#ffffff"/>
<rect x="714.04" y="433.08" width="16.86" height="4.08" fill="#bebeff"/>
<rect x="580.80" y="436.92" width="50.17" height="4.08" fill="#ff5555"/>
<rect x="630.77" y="436.92" width="16.86" height="4.08" fill="#0000ff"/>
<rect x="647.42" y="436.92" width="16.86" height="4.08" fill="#4040ff"/>
<rect x="664.08" y="436.92" width="16.86" height="4.08" fill="#0000ff"/>
<rect x="680.73" y="436.92" width="16.86" height="4.08" fill="#bebeff"/>
<rect x="697.39" y="436.92" width="16.86" height="4.08" fill="#ffffff"/>
<rect x="714.04" y="436.92" width="16.86" height="4.08" fill="#bebeff"/>
<rect x="580.80" y="440.75" width="50.17" height="4.08" fill="#ff5555"/>
<rect x="630.77" y="440.75" width="16.86" height="4.08" fill="#0000ff"/>
<rect x="647.42" y="440.75" width="16.86" height="4.08" fill="#4040ff"/>
<rect x="664.08" y="440.75" width="16.86" height="4.08" fill="#0000ff"/>
<rect x="680.73" y="440.75" width="16.86" height="4.08" fill="#8080ff"/>
<rect x="697.39" y="440.75" width="16.86" height="4.08" fill="#ffffff"/>
<rect x="714.04" y="440.75" width="16.86" height="4.08" fill="#8080ff"/>
<rect x="580.80" y="444.58" width="16.86" height="4.08" fill="#ff5555"/>
<rect x="597.46" y="444.58" width="16.86" height="4.08" fill="#ff0000"/>
<rect x="614.11" y="444.58" width="16.86" height="4.08" fill="#ffaaaa"/>
<rect x="630.77" y="444.58" width="50.17" height="4.08" fill="#4040ff"/>
<rect x="680.73" y="444.58" width="50.17" height="4.08" fill="#8080ff"/>
<rect x="580.80" y="448.42" width="50.17" height="4.08" fill="#ff5555"/>
<rect x="630.77" y="448.42" width="33.51" height="4.08" fill="#0000ff"/>
<rect x="664.08" y="448.42" width="16.86" height="4.08" fill="#4040ff"/>
<rect x="680.73" y="448.42" width="16.86" height="4.08" fill="#bebeff"/>
<rect x="697.39" y="448.42" width="16.86" height="4.08" fill="#8080ff"/>
<rect x="714.04" y="448.42" width="16.86" height="4.08" fill="#bebeff"/>
<rect x="580.80" y="452.25" width="50.17" height="4.08" fill="#ff5555"/>
<rect x="630.77" y="452.25" width="16.86" height="4.08" fill="#0000ff"/>
<rect x="647.42" y="452.25" width="33.51" height="4.08" fill="#4040ff"/>
<rect x="680.73" y="452.25" width="16.86" height="4.08" fill="#bebeff"/>
<rect x="697.39" y="452.25" width="16.86" height="4.08" fill="#8080ff"/>
<rect x="714.04" y="452.25" width="16.86" height="4.08" fill="#bebeff"/>
<rect x="580.80" y="456.09" width="16.86" height="4.08" fill="#ffaaaa"/>
<rect x="597.46" y="456.09" width="16.86" height="4.08" fill="#ff5555"/>
<rect x="614.11" y="456.09" width="16.86" height="4.08" fill="#ff0000"/>
<rect x="630.77" y="456.09" width="16.86" height="4.08" fill="#0000ff"/>
<rect x="647.42" y="456.09" width="33.51" height="4.08" fill="#4040ff"/>
<rect x="680.73" y="456.09" width="16.86" height="4.08" fill="#bebeff"/>
<rect x="697.39" y="456.09" width="33.51" height="4.08" fill="#8080ff"/>
<rect x="580.80" y="459.92" width="50.17" height="4.08" fill="#ff5555"/>
<rect x="630.77" y="459.92" width="50.17" height="4.08" fill="#4040ff"/>
<rect x="680.73" y="459.92" width="16.86" height="4.08" fill="#bebeff"/>
<rect x="697.39" y="459.92" width="33.51" height="4.08" fill="#8080ff"/>
<rect x="580.80" y="463.75" width="50.17" height="4.08" fill="#ff5555"/>
<rect x="630.77" y="463.75" width="50.17" height="4.08" fill="#4040ff"/>
<rect x="680.73" y="463.75" width="50.17" height="4.08" fill="#8080ff"/>
<rect x="580.80" y="467.59" width="50.17" height="4.08" fill="#ff5555"/>
<rect x="630.77" y="467.59" width="16.86" height="4.08" fill="#0000ff"/>
<rect x="647.42" y="467.59" width="33.51" height="4.08" fill="#4040ff"/>
<rect x="680.73" y="467.59" width="50.17" height="4.08" fill="#8080ff"/>
<rect x="580.80" y="471.42" width="50.17" height="4.08" fill="#ff5555"/>
<rect x="630.77" y="471.42" width="16.86" height="4.08" fill="#4040ff"/>
<rect x="647.42" y="471.42" width="33.51" height="4.08" fill="#8080ff"/>
<rect x="680.73" y="471.42" width="50.17" height="4.08" fill="#4040ff"/>
<rect x="580.80" y="475.26" width="33.51" height="4.08" fill="#ff5555"/>
<rect x="614.11" y="475.26" width="16.86" height="4.08" fill="#ff0000"/>
<rect x="630.77" y="475.26" width="16.86" height="4.08" fill="#4040ff"/>
<rect x="647.42" y="475.26" width="33.51" height="4.08" fill="#8080ff"/>
<rect x="680.73" y="475.26" width="50.17" height="4.08" fill="#4040ff"/>
<rect x="580.80" y="479.09" width="33.51" height="4.08" fill="#ff5555"/>
<rect x="614.11" y="479.09" width="16.86" height="4.08" fill="#ff0000"/>
<rect x="630.77" y="479.09" width="50.17" height="4.08" fill="#8080ff"/>
<rect x="680.73" y="479.09" width="50.17" height="4.08" fill="#4040ff"/>
<rect x="580.80" y="482.93" width="50.17" height="4.08" fill="#ff5555"/>
<rect x="630.77" y="482.93" width="50.17" height="4.08" fill="#8080ff"/>
<rect x="680.73" y="482.93" width="50.17" height="4.08" fill="#4040ff"/>
<rect x="580.80" y="486.76" width="33.51" height="4.08" fill="#ff5555"/>
<rect x="614.11" y="486.76" width="16.86" height="4.08" fill="#ff0000"/>
<rect x="630.77" y="486.76" width="50.17" height="4.08" fill="#8080ff"/>
<rect x="680.73" y="486.76" width="50.17" height="4.08" fill="#4040ff"/>
<rect x="580.80" y="490.59" width="50.17" height="4.08" fill="#ff5555"/>
<rect x="630.77" y="490.59" width="33.51" height="4.08" fill="#8080ff"/>
<rect x="664.08" y="490.59" width="16.86" height="4.08" fill="#bebeff"/>
<rect x="680.73" y="490.59" width="50.17" height="4.08" fill="#0000ff"/>
<rect x="580.80" y="494.43" width="33.51" height="4.08" fill="#ff5555"/>
<rect x="614.11" y="494.43" width="16.86" height="4.08" fill="#ff0000"/>
<rect x="630.77" y="494.43" width="50.17" height="4.08" fill="#8080ff"/>
<rect x="680.73" y="494.43" width="16.86" height="4.08" fill="#4040ff"/>
<rect x="697.39" y="494.43" width="16.86" height="4.08" fill="#0000ff"/>
<rect x="714.04" y="494.43" width="16.86" height="4.08" fill="#4040ff"/>
<rect x="580.80" y="498.26" width="33.51" height="4.08" fill="#ff5555"/>
<rect x="614.11" y="498.26" width="16.86" height="4.08" fill="#ff0000"/>
<rect x="630.77" y="498.26" width="50.17" height="4.08" fill="#8080ff"/>
<rect x="680.73" y="498.26" width="50.17" height="4.08" fill="#4040ff"/>
<rect x="580.80" y="502.10" width="16.86" height="4.08" fill="#ffaaaa"/>
<rect x="597.46" y="502.10" width="16.86" height="4.08" fill="#ff5555"/>
<rect x="614.11" y="502.10" width="16.86" height="4.08" fill="#ff0000"/>
<rect x="630.77" y="502.10" width="16.86" height="4.08" fill="#4040ff"/>
<rect x="647.42" y="502.10" width="16.86" height="4.08" fill="#8080ff"/>
<rect x="664.08" y="502.10" width="33.51" height="4.08" fill="#4040ff"/>
<rect x="697.39" y="502.10" width="16.86" height="4.08" fill="#8080ff"/>
<rect x="714.04" y="502.10" width="16.86" height="4.08" fill="#4040ff"/>
<rect x="580.80" y="505.93" width="50.17" height="4.08" fill="#ff5555"/>
<rect x="630.77" y="505.93" width="33.51" height="4.08" fill="#4040ff"/>
<rect x="664.08" y="505.93" width="16.86" height="4.08" fill="#8080ff"/>
<rect x="680.73" y="505.93" width="16.86" height="4.08" fill="#4040ff"/>
<rect x="697.39" y="505.93" width="33.51" height="4.08" fill="#8080ff"/>
<rect x="580.80" y="509.76" width="16.86" height="4.08" fill="#ff5555"/>
<rect x="597.46" y="509.76" width="16.86" height="4.08" fill="#ff0000"/>
<rect x="614.11" y="509.76" width="16.86" height="4.08" fill="#ff5555"/>
<rect x="630.77" y="509.76" width="50.17" height="4.08" fill="#4040ff"/>
<rect x="680.73" y="509.76" width="50.17" height="4.08" fill="#8080ff"/>
<rect x="580.80" y="513.60" width="50.17" height="4.08" fill="#ff5555"/>
<rect x="630.77" y="513.60" width="16.86" height="4.08" fill="#4040ff"/>
<rect x="647.42" y="513.60" width="33.51" height="4.08" fill="#8080ff"/>
<rect x="680.73" y="513.60" width="16.86" height="4.08" fill="#4040ff"/>
<rect x="697.39" y="513.60" width="16.86" height="4.08" fill="#8080ff"/>
<rect x="714.04" y="513.60" width="16.86" height="4.08" fill="#4040ff"/>
<rect x="580.80" y="517.43" width="16.86" height="4.08" fill="#ff5555"/>
<rect x="597.46" y="517.43" width="16.86" height="4.08" fill="#ff0000"/>
<rect x="614.11" y="517.43" width="16.86" height="4.08" fill="#ff5555"/>
<rect x="630.77" y="517.43" width="16.86" height="4.08" fill="#4040ff"/>
<rect x="647.42" y="517.43" width="16.86" height="4.08" fill="#8080ff"/>
<rect x="664.08" y="517.43" width="33.51" height="4.08" fill="#4040ff"/>
<rect x="697.39" y="517.43" width="16.86" height="4.08" fill="#8080ff"/>
<rect x="714.04" y="517.43" width="16.86" height="4.08" fill="#4040ff"/>
<rect x="580.80" y="521.27" width="50.17" height="4.08" fill="#ff5555"/>
<rect x="630.77" y="521.27" width="16.86" height="4.08" fill="#8080ff"/>
<rect x="647.42" y="521.27" width="16.86" height="4.08" fill="#4040ff"/>
<rect x="664.08" y="521.27" width="16.86" height="4.08" fill="#8080ff"/>
<rect x="680.73" y="521.27" width="33.51" height="4.08" fill="#4040ff"/>
<rect x="714.04" y="521.27" width="16.86" height="4.08" fill="#8080ff"/>
</g>
<defs><linearGradient id="cbG" x1="0" y1="0" x2="0" y2="1"><stop offset="0" stop-color="#ff0000"/><stop offset="0.5" stop-color="#ffffff"/><stop offset="1" stop-color="#0000ff"/></linearGradient></defs>
<rect x="738" y="356.5" width="5.4" height="89" fill="url(#cbG)"/>
<text x="746.6" y="366.9" font-size="9.2" font-weight="bold" text-anchor="start" fill="#000" >2</text>
<text x="746.6" y="385.3" font-size="9.2" font-weight="bold" text-anchor="start" fill="#000" >1</text>
<text x="746.6" y="403.3" font-size="9.2" font-weight="bold" text-anchor="start" fill="#000" >0</text>
<text x="746.6" y="423.09999999999997" font-size="9.2" font-weight="bold" text-anchor="start" fill="#000" >-1</text>
<text x="746.6" y="440.9" font-size="9.2" font-weight="bold" text-anchor="start" fill="#000" >-2</text>
<path d="M589.1 356.4V354.8H605.8V356.4M597.5 354.8V353.1H622.4V356.4M639.1 356.4V353.7H655.8V356.4M647.4 353.7V351.8H672.4V356.4M689.1 356.4V353.3H705.7V356.4M697.4 353.3V352.5H722.4V356.4M659.9 351.8V343.3H709.9V352.5M609.9 353.1V326.9H684.9V343.3" stroke="#222" stroke-width="0.9" fill="none"/>
<path d="M580.8 358.3H577.7V362.2H580.8M580.8 369.8H579.4V373.7H580.8M579.4 371.7H578.4V377.5H580.8M580.8 366.0H576.4V374.6H578.4M577.7 360.2H573.2V370.3H576.4M580.8 385.2H578.6V389.0H580.8M580.8 381.3H576.4V387.1H578.6M580.8 392.8H578.6V396.7H580.8M580.8 404.3H579.4V408.2H580.8M580.8 400.5H578.7V406.2H579.4M578.6 394.7H577.3V403.4H578.7M580.8 412.0H578.7V415.8H580.8M580.8 419.7H579.4V423.5H580.8M579.4 421.6H578.2V427.3H580.8M578.7 413.9H576.6V424.5H578.2M577.3 399.1H575.2V419.2H576.6M576.4 384.2H573.2V409.1H575.2M573.2 365.3H565.5V396.7H573.2M580.8 431.2H579.0V435.0H580.8M580.8 438.8H579.1V442.7H580.8M579.0 433.1H577.2V440.8H579.1M580.8 446.5H579.4V450.3H580.8M579.4 448.4H578.9V454.2H580.8M580.8 458.0H578.9V461.8H580.8M578.9 451.3H577.0V459.9H578.9M577.2 436.9H575.4V455.6H577.0M580.8 465.7H579.4V469.5H580.8M579.4 467.6H579.4V473.3H580.8M579.4 470.5H578.8V477.2H580.8M580.8 481.0H579.4V484.8H580.8M580.8 488.7H579.4V492.5H580.8M579.4 482.9H578.9V490.6H579.4M578.8 473.8H577.4V486.8H578.9M580.8 496.3H579.4V500.2H580.8M580.8 504.0H579.4V507.8H580.8M579.4 498.3H578.9V505.9H579.4M580.8 511.7H579.4V515.5H580.8M580.8 519.3H579.4V523.2H580.8M579.4 513.6H579.0V521.3H579.4M578.9 502.1H577.6V517.4H579.0M577.4 480.3H576.0V509.8H577.6M575.4 446.3H572.6V495.0H576.0M565.5 381.0H554.5V470.6H572.6" stroke="#1c1c1c" stroke-width="0.85" fill="none"/>
<text transform="translate(592.5,528.3) rotate(-90)" font-size="7.7" font-weight="bold" text-anchor="end" stroke="#000" stroke-width="0.15">LPS_1</text>
<text transform="translate(609.2,528.3) rotate(-90)" font-size="7.7" font-weight="bold" text-anchor="end" stroke="#000" stroke-width="0.15">LPS_3</text>
<text transform="translate(625.8,528.3) rotate(-90)" font-size="7.7" font-weight="bold" text-anchor="end" stroke="#000" stroke-width="0.15">LPS_2</text>
<text transform="translate(642.5,528.3) rotate(-90)" font-size="7.7" font-weight="bold" text-anchor="end" stroke="#000" stroke-width="0.15">LPS_PL1</text>
<text transform="translate(659.1,528.3) rotate(-90)" font-size="7.7" font-weight="bold" text-anchor="end" stroke="#000" stroke-width="0.15">LPS_PL2</text>
<text transform="translate(675.8,528.3) rotate(-90)" font-size="7.7" font-weight="bold" text-anchor="end" stroke="#000" stroke-width="0.15">LPS_PL3</text>
<text transform="translate(692.5,528.3) rotate(-90)" font-size="7.7" font-weight="bold" text-anchor="end" stroke="#000" stroke-width="0.15">Con_1</text>
<text transform="translate(709.1,528.3) rotate(-90)" font-size="7.7" font-weight="bold" text-anchor="end" stroke="#000" stroke-width="0.15">Con_3</text>
<text transform="translate(725.8,528.3) rotate(-90)" font-size="7.7" font-weight="bold" text-anchor="end" stroke="#000" stroke-width="0.15">Con_2</text>
<rect x="213.9" y="609.40" width="10.3" height="5.4" fill="#ff6600" stroke="#555" stroke-width="0.5"/>
<rect x="213.9" y="616.31" width="12.8" height="5.4" fill="#ff6600" stroke="#555" stroke-width="0.5"/>
<rect x="213.9" y="623.21" width="23.1" height="5.4" fill="#ff6600" stroke="#555" stroke-width="0.5"/>
<rect x="213.9" y="630.12" width="10.3" height="5.4" fill="#ff6600" stroke="#555" stroke-width="0.5"/>
<rect x="213.9" y="637.03" width="10.3" height="5.4" fill="#ff6600" stroke="#555" stroke-width="0.5"/>
<rect x="213.9" y="643.93" width="23.1" height="5.4" fill="#ff6600" stroke="#555" stroke-width="0.5"/>
<rect x="213.9" y="650.84" width="12.8" height="5.4" fill="#ff6600" stroke="#555" stroke-width="0.5"/>
<rect x="213.9" y="657.75" width="20.5" height="5.4" fill="#ff6600" stroke="#555" stroke-width="0.5"/>
<rect x="213.9" y="664.66" width="12.8" height="5.4" fill="#ff6600" stroke="#555" stroke-width="0.5"/>
<rect x="213.9" y="671.56" width="15.4" height="5.4" fill="#ff6600" stroke="#555" stroke-width="0.5"/>
<rect x="213.9" y="678.47" width="95.0" height="5.4" fill="#6699cc" stroke="#555" stroke-width="0.5"/>
<rect x="213.9" y="685.38" width="110.4" height="5.4" fill="#6699cc" stroke="#555" stroke-width="0.5"/>
<rect x="213.9" y="692.28" width="102.7" height="5.4" fill="#6699cc" stroke="#555" stroke-width="0.5"/>
<rect x="213.9" y="699.19" width="69.3" height="5.4" fill="#6699cc" stroke="#555" stroke-width="0.5"/>
<rect x="213.9" y="706.10" width="69.3" height="5.4" fill="#6699cc" stroke="#555" stroke-width="0.5"/>
<rect x="213.9" y="713.00" width="64.2" height="5.4" fill="#6699cc" stroke="#555" stroke-width="0.5"/>
<rect x="213.9" y="719.91" width="74.4" height="5.4" fill="#6699cc" stroke="#555" stroke-width="0.5"/>
<rect x="213.9" y="726.82" width="95.0" height="5.4" fill="#6699cc" stroke="#555" stroke-width="0.5"/>
<rect x="213.9" y="733.73" width="41.1" height="5.4" fill="#6699cc" stroke="#555" stroke-width="0.5"/>
<rect x="213.9" y="740.63" width="23.1" height="5.4" fill="#6699cc" stroke="#555" stroke-width="0.5"/>
<rect x="213.9" y="747.54" width="51.3" height="5.4" fill="#66bb00" stroke="#555" stroke-width="0.5"/>
<rect x="213.9" y="754.45" width="61.6" height="5.4" fill="#66bb00" stroke="#555" stroke-width="0.5"/>
<rect x="213.9" y="761.35" width="59.0" height="5.4" fill="#66bb00" stroke="#555" stroke-width="0.5"/>
<rect x="213.9" y="768.26" width="87.3" height="5.4" fill="#66bb00" stroke="#555" stroke-width="0.5"/>
<rect x="213.9" y="775.17" width="92.4" height="5.4" fill="#66bb00" stroke="#555" stroke-width="0.5"/>
<rect x="213.9" y="782.08" width="25.7" height="5.4" fill="#66bb00" stroke="#555" stroke-width="0.5"/>
<rect x="213.9" y="788.98" width="33.4" height="5.4" fill="#66bb00" stroke="#555" stroke-width="0.5"/>
<rect x="213.9" y="795.89" width="74.4" height="5.4" fill="#66bb00" stroke="#555" stroke-width="0.5"/>
<rect x="213.9" y="802.80" width="128.4" height="5.4" fill="#66bb00" stroke="#555" stroke-width="0.5"/>
<rect x="213.9" y="809.70" width="64.2" height="5.4" fill="#66bb00" stroke="#555" stroke-width="0.5"/>
<text x="212" y="615.30" font-size="8.5" font-weight="bold" text-anchor="end" textLength="80.4" lengthAdjust="spacingAndGlyphs">regulation of inflammatory response</text>
<text x="212" y="622.70" font-size="8.5" font-weight="bold" text-anchor="end" textLength="123.5" lengthAdjust="spacingAndGlyphs">serotonin production involved in inflammatory response</text>
<text x="212" y="630.10" font-size="8.5" font-weight="bold" text-anchor="end" textLength="101.5" lengthAdjust="spacingAndGlyphs">positive regulation of inflammatory response</text>
<text x="212" y="637.40" font-size="8.5" font-weight="bold" text-anchor="end" textLength="47.5" lengthAdjust="spacingAndGlyphs">response to fatty acid</text>
<text x="212" y="644.30" font-size="8.5" font-weight="bold" text-anchor="end" textLength="52.0" lengthAdjust="spacingAndGlyphs">inflammatory response</text>
<text x="212" y="651.40" font-size="8.5" font-weight="bold" text-anchor="end" textLength="62.2" lengthAdjust="spacingAndGlyphs">oxidation-reduction process</text>
<text x="212" y="659.00" font-size="8.5" font-weight="bold" text-anchor="end" textLength="74.5" lengthAdjust="spacingAndGlyphs">response to extracellular stimulus</text>
<text x="212" y="664.20" font-size="8.5" font-weight="bold" text-anchor="end" textLength="78.8" lengthAdjust="spacingAndGlyphs">response to decreased oxygen levels</text>
<text x="212" y="671.00" font-size="8.5" font-weight="bold" text-anchor="end" textLength="55.7" lengthAdjust="spacingAndGlyphs">response to oxygen levels</text>
<text x="212" y="678.40" font-size="8.5" font-weight="bold" text-anchor="end" textLength="93.0" lengthAdjust="spacingAndGlyphs">cell-substrate adherens junction assembly</text>
<text x="212" y="684.60" font-size="8.5" font-weight="bold" text-anchor="end" textLength="47.5" lengthAdjust="spacingAndGlyphs">basement membrane</text>
<text x="212" y="692.00" font-size="8.5" font-weight="bold" text-anchor="end" textLength="77.2" lengthAdjust="spacingAndGlyphs">external side of plasma membrane</text>
<text x="212" y="699.10" font-size="8.5" font-weight="bold" text-anchor="end" textLength="62.0" lengthAdjust="spacingAndGlyphs">endoplasmic reticulum part</text>
<text x="212" y="706.80" font-size="8.5" font-weight="bold" text-anchor="end" textLength="151.5" lengthAdjust="spacingAndGlyphs">nuclear outer membrane-endoplasmic reticulum membrane network</text>
<text x="212" y="713.60" font-size="8.5" font-weight="bold" text-anchor="end" textLength="68.0" lengthAdjust="spacingAndGlyphs">cytoplasmic vesicle membrane</text>
<text x="212" y="719.90" font-size="8.5" font-weight="bold" text-anchor="end" textLength="76.0" lengthAdjust="spacingAndGlyphs">endoplasmic reticulum membrane</text>
<text x="212" y="726.40" font-size="8.5" font-weight="bold" text-anchor="end" textLength="90.0" lengthAdjust="spacingAndGlyphs">endoplasmic reticulum subcompartment</text>
<text x="212" y="733.00" font-size="8.5" font-weight="bold" text-anchor="end" textLength="60.5" lengthAdjust="spacingAndGlyphs">organelle subcompartment</text>
<text x="212" y="739.80" font-size="8.5" font-weight="bold" text-anchor="end" textLength="91.5" lengthAdjust="spacingAndGlyphs">integral component of plasma membrane</text>
<text x="212" y="746.60" font-size="8.5" font-weight="bold" text-anchor="end" textLength="54.0" lengthAdjust="spacingAndGlyphs">cytoplasmic vesicle part</text>
<text x="212" y="753.20" font-size="8.5" font-weight="bold" text-anchor="end" textLength="100.0" lengthAdjust="spacingAndGlyphs">bile acid transmembrane transporter activity</text>
<text x="212" y="759.50" font-size="8.5" font-weight="bold" text-anchor="end" textLength="37.0" lengthAdjust="spacingAndGlyphs">clathrin binding</text>
<text x="212" y="766.40" font-size="8.5" font-weight="bold" text-anchor="end" textLength="49.0" lengthAdjust="spacingAndGlyphs">growth factor activity</text>
<text x="212" y="773.20" font-size="8.5" font-weight="bold" text-anchor="end" textLength="111.5" lengthAdjust="spacingAndGlyphs">carbohydrate transmembrane transporter activity</text>
<text x="212" y="780.60" font-size="8.5" font-weight="bold" text-anchor="end" textLength="129.5" lengthAdjust="spacingAndGlyphs">oxidoreductase activity, acting on CH-OH group of donors</text>
<text x="212" y="787.70" font-size="8.5" font-weight="bold" text-anchor="end" textLength="98.0" lengthAdjust="spacingAndGlyphs">glucose transmembrane transporter activity</text>
<text x="212" y="795.40" font-size="8.5" font-weight="bold" text-anchor="end" textLength="96.5" lengthAdjust="spacingAndGlyphs">hexose transmembrane transporter activity</text>
<text x="212" y="802.80" font-size="8.5" font-weight="bold" text-anchor="end" textLength="170.0" lengthAdjust="spacingAndGlyphs">oxidoreductase activity, with incorporation or reduction of molecular oxygen</text>
<text x="212" y="810.20" font-size="8.5" font-weight="bold" text-anchor="end" textLength="196.5" lengthAdjust="spacingAndGlyphs">oxidoreductase activity, NAD(P)H as one donor, and incorporation of one atom of oxygen</text>
<text x="212" y="817.00" font-size="8.5" font-weight="bold" text-anchor="end" textLength="117.5" lengthAdjust="spacingAndGlyphs">monosaccharide transmembrane transporter activity</text>
<rect x="110.3" y="624.0" width="102.3" height="6.5" fill="none" stroke="#f21c1c" stroke-width="0.9"/>
<path d="M213.9 608.6H353V816.3" stroke="#000" stroke-width="1.6" fill="none"/>
<path d="M213.9 608.6V816.3H353" stroke="#000" stroke-width="1.1" fill="none"/>
<path d="M213.9 816.3v2.6M219.0 816.3v1.4M224.2 816.3v1.4M229.3 816.3v1.4M234.4 816.3v1.4M239.6 816.3v2.6M244.7 816.3v1.4M249.8 816.3v1.4M255.0 816.3v1.4M260.1 816.3v1.4M265.2 816.3v2.6M270.4 816.3v1.4M275.5 816.3v1.4M280.6 816.3v1.4M285.8 816.3v1.4M290.9 816.3v2.6M296.0 816.3v1.4M301.2 816.3v1.4M306.3 816.3v1.4M311.4 816.3v1.4M316.6 816.3v2.6M321.7 816.3v1.4M326.8 816.3v1.4M332.0 816.3v1.4M337.1 816.3v1.4M342.2 816.3v2.6M347.4 816.3v1.4M352.5 816.3v1.4" stroke="#000" stroke-width="0.8" fill="none"/>
<text transform="translate(213.9,833) scale(0.6,1)" font-size="12.5" font-weight="normal" text-anchor="middle" stroke="#000" stroke-width="0.35">0</text>
<text transform="translate(239.6,833) scale(0.6,1)" font-size="12.5" font-weight="normal" text-anchor="middle" stroke="#000" stroke-width="0.35">10</text>
<text transform="translate(265.2,833) scale(0.6,1)" font-size="12.5" font-weight="normal" text-anchor="middle" stroke="#000" stroke-width="0.35">20</text>
<text transform="translate(290.9,833) scale(0.6,1)" font-size="12.5" font-weight="normal" text-anchor="middle" stroke="#000" stroke-width="0.35">30</text>
<text transform="translate(316.6,833) scale(0.6,1)" font-size="12.5" font-weight="normal" text-anchor="middle" stroke="#000" stroke-width="0.35">40</text>
<text transform="translate(342.2,833) scale(0.6,1)" font-size="12.5" font-weight="normal" text-anchor="middle" stroke="#000" stroke-width="0.35">50</text>
<text transform="translate(282.3,851.6) scale(0.62,1)" font-size="13.5" font-weight="normal" text-anchor="middle" stroke="#000" stroke-width="0.35">Count</text>
<rect x="322" y="615.4" width="12.4" height="11.6" fill="#ff6600" stroke="#777" stroke-width="0.4"/>
<text transform="translate(336.4,625.6999999999999) scale(0.56,1)" font-size="14" font-weight="normal" text-anchor="start" stroke="#000" stroke-width="0.35">BP</text>
<rect x="322" y="632.8" width="12.4" height="11.6" fill="#6699cc" stroke="#777" stroke-width="0.4"/>
<text transform="translate(336.4,643.0999999999999) scale(0.56,1)" font-size="14" font-weight="normal" text-anchor="start" stroke="#000" stroke-width="0.35">CC</text>
<rect x="322" y="650" width="12.4" height="11.6" fill="#66bb00" stroke="#777" stroke-width="0.4"/>
<text transform="translate(336.4,660.3) scale(0.56,1)" font-size="14" font-weight="normal" text-anchor="start" stroke="#000" stroke-width="0.35">MF</text>
<path d="M464.4 705.2H704.8M464.4 694.5H704.8M464.4 683.9H704.8M464.4 673.2H704.8M464.4 662.6H704.8M464.4 652.0H704.8M464.4 641.3H704.8M464.4 630.7H704.8M475.4 625V715.8M486.8 625V715.8M498.3 625V715.8M509.7 625V715.8M521.2 625V715.8M532.6 625V715.8M544.0 625V715.8M555.5 625V715.8M566.9 625V715.8M578.4 625V715.8M589.8 625V715.8M601.2 625V715.8M612.7 625V715.8M624.1 625V715.8M635.6 625V715.8M647.0 625V715.8M658.4 625V715.8M669.9 625V715.8M681.3 625V715.8M692.8 625V715.8" stroke="#e4e4e4" stroke-width="0.6" fill="none"/>
<path d="M464.4 710.5H704.8M464.4 699.8H704.8M464.4 689.2H704.8M464.4 678.6H704.8M464.4 667.9H704.8M464.4 657.3H704.8M464.4 646.6H704.8M464.4 636.0H704.8M464.4 625.4H704.8" stroke="#f0f0f0" stroke-width="0.4" fill="none"/>
<circle cx="475.4" cy="649.8" r="6.8" fill="#ff8080"/>
<circle cx="486.8" cy="656.7" r="6.0" fill="#ff8080"/>
<circle cx="498.3" cy="656.7" r="6.0" fill="#ff8080"/>
<circle cx="509.7" cy="636.9" r="8.6" fill="#ff8080"/>
<circle cx="521.2" cy="682.8" r="3.5" fill="#ff8080"/>
<circle cx="532.6" cy="669.5" r="4.8" fill="#ff8080"/>
<circle cx="544.0" cy="669.5" r="4.8" fill="#ff8080"/>
<circle cx="555.5" cy="682.8" r="3.5" fill="#ff8080"/>
<circle cx="566.9" cy="669.5" r="4.8" fill="#ff8080"/>
<circle cx="578.4" cy="656.7" r="6.0" fill="#ffb370"/>
<circle cx="589.8" cy="689.2" r="2.8" fill="#b9f070"/>
<circle cx="601.2" cy="689.2" r="2.8" fill="#b9f070"/>
<circle cx="612.7" cy="682.8" r="3.6" fill="#70ee70"/>
<circle cx="624.1" cy="696.1" r="1.9" fill="#70ee70"/>
<circle cx="635.6" cy="689.2" r="2.8" fill="#70b4fa"/>
<circle cx="647.0" cy="696.1" r="1.8" fill="#7575fa"/>
<circle cx="658.4" cy="669.5" r="4.8" fill="#7575fa"/>
<circle cx="669.9" cy="689.2" r="2.8" fill="#7575fa"/>
<circle cx="681.3" cy="669.5" r="4.8" fill="#7575fa"/>
<circle cx="692.8" cy="682.8" r="3.6" fill="#7575fa"/>
<rect x="464.4" y="625" width="240.39999999999998" height="90.79999999999995" fill="none" stroke="#1e1e1e" stroke-width="1.45"/>
<text x="461" y="718.3" font-size="7.8" font-weight="bold" text-anchor="end" fill="#000" >0.00</text>
<text x="461" y="707.7" font-size="7.8" font-weight="bold" text-anchor="end" fill="#000" >0.01</text>
<text x="461" y="697.0" font-size="7.8" font-weight="bold" text-anchor="end" fill="#000" >0.02</text>
<text x="461" y="686.4" font-size="7.8" font-weight="bold" text-anchor="end" fill="#000" >0.03</text>
<text x="461" y="675.7" font-size="7.8" font-weight="bold" text-anchor="end" fill="#000" >0.04</text>
<text x="461" y="665.1" font-size="7.8" font-weight="bold" text-anchor="end" fill="#000" >0.05</text>
<text x="461" y="654.5" font-size="7.8" font-weight="bold" text-anchor="end" fill="#000" >0.06</text>
<text x="461" y="643.8" font-size="7.8" font-weight="bold" text-anchor="end" fill="#000" >0.07</text>
<text x="461" y="633.2" font-size="7.8" font-weight="bold" text-anchor="end" fill="#000" >0.08</text>
<path d="M464.4 715.8h-2.6M464.4 705.2h-2.6M464.4 694.5h-2.6M464.4 683.9h-2.6M464.4 673.2h-2.6M464.4 662.6h-2.6M464.4 652.0h-2.6M464.4 641.3h-2.6M464.4 630.7h-2.6M475.4 715.8v2.8M486.8 715.8v2.8M498.3 715.8v2.8M509.7 715.8v2.8M521.2 715.8v2.8M532.6 715.8v2.8M544.0 715.8v2.8M555.5 715.8v2.8M566.9 715.8v2.8M578.4 715.8v2.8M589.8 715.8v2.8M601.2 715.8v2.8M612.7 715.8v2.8M624.1 715.8v2.8M635.6 715.8v2.8M647.0 715.8v2.8M658.4 715.8v2.8M669.9 715.8v2.8M681.3 715.8v2.8M692.8 715.8v2.8" stroke="#222" stroke-width="0.9" fill="none"/>
<text transform="translate(443.6,671) rotate(-90)" font-size="8.2" font-weight="bold" text-anchor="middle">GeneRatio</text>
<text transform="translate(477.0,723.2) rotate(-45) scale(0.934,1)" font-size="7.1" font-weight="bold" text-anchor="end">Arachidonic acid metabolism</text>
<text transform="translate(488.4,723.2) rotate(-45) scale(0.934,1)" font-size="7.1" font-weight="bold" text-anchor="end">Chemical carcinogenesis - DNA adducts</text>
<text transform="translate(499.9,723.2) rotate(-45) scale(0.934,1)" font-size="7.1" font-weight="bold" text-anchor="end">HIF-1 signaling pathway</text>
<text transform="translate(511.3,723.2) rotate(-45) scale(0.934,1)" font-size="7.1" font-weight="bold" text-anchor="end">PI3K-Akt signaling pathway</text>
<text transform="translate(522.8,723.2) rotate(-45) scale(0.934,1)" font-size="7.1" font-weight="bold" text-anchor="end">Steroid hormone biosynthesis</text>
<text transform="translate(534.2,723.2) rotate(-45) scale(0.934,1)" font-size="7.1" font-weight="bold" text-anchor="end">Steroid biosynthesis</text>
<text transform="translate(545.6,723.2) rotate(-45) scale(0.934,1)" font-size="7.1" font-weight="bold" text-anchor="end">Ovarian steroidogenesis</text>
<text transform="translate(557.1,723.2) rotate(-45) scale(0.934,1)" font-size="7.1" font-weight="bold" text-anchor="end">Regulation of lipolysis in adipocytes</text>
<text transform="translate(568.5,723.2) rotate(-45) scale(0.934,1)" font-size="7.1" font-weight="bold" text-anchor="end">Folate biosynthesis</text>
<text transform="translate(580.0,723.2) rotate(-45) scale(0.934,1)" font-size="7.1" font-weight="bold" text-anchor="end">Metabolism of xenobiotics by cytochrome P450</text>
<text transform="translate(591.4,723.2) rotate(-45) scale(0.934,1)" font-size="7.1" font-weight="bold" text-anchor="end">Adipocytokine signaling pathway</text>
<text transform="translate(602.8,723.2) rotate(-45) scale(0.934,1)" font-size="7.1" font-weight="bold" text-anchor="end">Fructose and mannose metabolism</text>
<text transform="translate(614.3,723.2) rotate(-45) scale(0.934,1)" font-size="7.1" font-weight="bold" text-anchor="end">Mucin type O-glycan biosynthesis</text>
<text transform="translate(625.7,723.2) rotate(-45) scale(0.934,1)" font-size="7.1" font-weight="bold" text-anchor="end">Type II diabetes mellitus</text>
<text transform="translate(637.2,723.2) rotate(-45) scale(0.934,1)" font-size="7.1" font-weight="bold" text-anchor="end">Terpenoid backbone biosynthesis</text>
<text transform="translate(648.6,723.2) rotate(-45) scale(0.934,1)" font-size="7.1" font-weight="bold" text-anchor="end">Tryptophan metabolism</text>
<text transform="translate(660.0,723.2) rotate(-45) scale(0.934,1)" font-size="7.1" font-weight="bold" text-anchor="end">Primary bile acid biosynthesis</text>
<text transform="translate(671.5,723.2) rotate(-45) scale(0.934,1)" font-size="7.1" font-weight="bold" text-anchor="end">Insulin resistance</text>
<text transform="translate(682.9,723.2) rotate(-45) scale(0.934,1)" font-size="7.1" font-weight="bold" text-anchor="end">Pyruvate metabolism</text>
<text transform="translate(694.4,723.2) rotate(-45) scale(0.934,1)" font-size="7.1" font-weight="bold" text-anchor="end">Bile secretion</text>
<rect transform="translate(511.3,723.2) rotate(-45)" x="-82.3" y="-6.3" width="84.8" height="7.4" fill="none" stroke="#ee3333" stroke-width="0.7"/>
<text x="707" y="624" font-size="7.9" font-weight="bold" text-anchor="start" fill="#000" >p.adjust</text>
<text x="738" y="624" font-size="7.9" font-weight="bold" text-anchor="start" fill="#000" >Count</text>
<rect x="707.1" y="633.20" width="8.7" height="7.9" fill="#7575fa"/>
<rect x="707.1" y="640.96" width="8.7" height="7.9" fill="#70b4fa"/>
<rect x="707.1" y="648.72" width="8.7" height="7.9" fill="#78fafa"/>
<rect x="707.1" y="656.48" width="8.7" height="7.9" fill="#78f078"/>
<rect x="707.1" y="664.24" width="8.7" height="7.9" fill="#b4f56e"/>
<rect x="707.1" y="672.00" width="8.7" height="7.9" fill="#fafa6e"/>
<rect x="707.1" y="679.76" width="8.7" height="7.9" fill="#ffb478"/>
<rect x="707.1" y="687.52" width="8.7" height="7.9" fill="#ff7878"/>
<text x="719.4" y="637.0" font-size="7.6" font-weight="bold" text-anchor="start" fill="#000" >0.33</text>
<text x="719.4" y="644.8" font-size="7.6" font-weight="bold" text-anchor="start" fill="#000" >0.29</text>
<text x="719.4" y="652.5" font-size="7.6" font-weight="bold" text-anchor="start" fill="#000" >0.25</text>
<text x="719.4" y="660.3" font-size="7.6" font-weight="bold" text-anchor="start" fill="#000" >0.21</text>
<text x="719.4" y="668.0" font-size="7.6" font-weight="bold" text-anchor="start" fill="#000" >0.17</text>
<text x="719.4" y="675.8" font-size="7.6" font-weight="bold" text-anchor="start" fill="#000" >0.12</text>
<text x="719.4" y="683.6" font-size="7.6" font-weight="bold" text-anchor="start" fill="#000" >0.08</text>
<text x="719.4" y="691.3" font-size="7.6" font-weight="bold" text-anchor="start" fill="#000" >0.04</text>
<text x="719.4" y="699.1" font-size="7.6" font-weight="bold" text-anchor="start" fill="#000" >0.00</text>
<circle cx="742.2" cy="631.5" r="1.5" fill="#fff" stroke="#111" stroke-width="1.15"/>
<text x="755" y="634.9" font-size="7.8" font-weight="bold" text-anchor="start" fill="#000" >3</text>
<circle cx="742.2" cy="646.6" r="4.0" fill="#fff" stroke="#111" stroke-width="1.15"/>
<text x="755" y="650.0" font-size="7.8" font-weight="bold" text-anchor="start" fill="#000" >6</text>
<circle cx="742.2" cy="666.3" r="5.9" fill="#fff" stroke="#111" stroke-width="1.15"/>
<text x="755" y="669.6999999999999" font-size="7.8" font-weight="bold" text-anchor="start" fill="#000" >9</text>
<circle cx="742.2" cy="690.5" r="8.3" fill="#fff" stroke="#111" stroke-width="1.15"/>
<text x="755" y="693.9" font-size="7.8" font-weight="bold" text-anchor="start" fill="#000" >12</text>
<rect x="758.6" y="600" width="16" height="120" fill="#fff"/></svg></body></html>
